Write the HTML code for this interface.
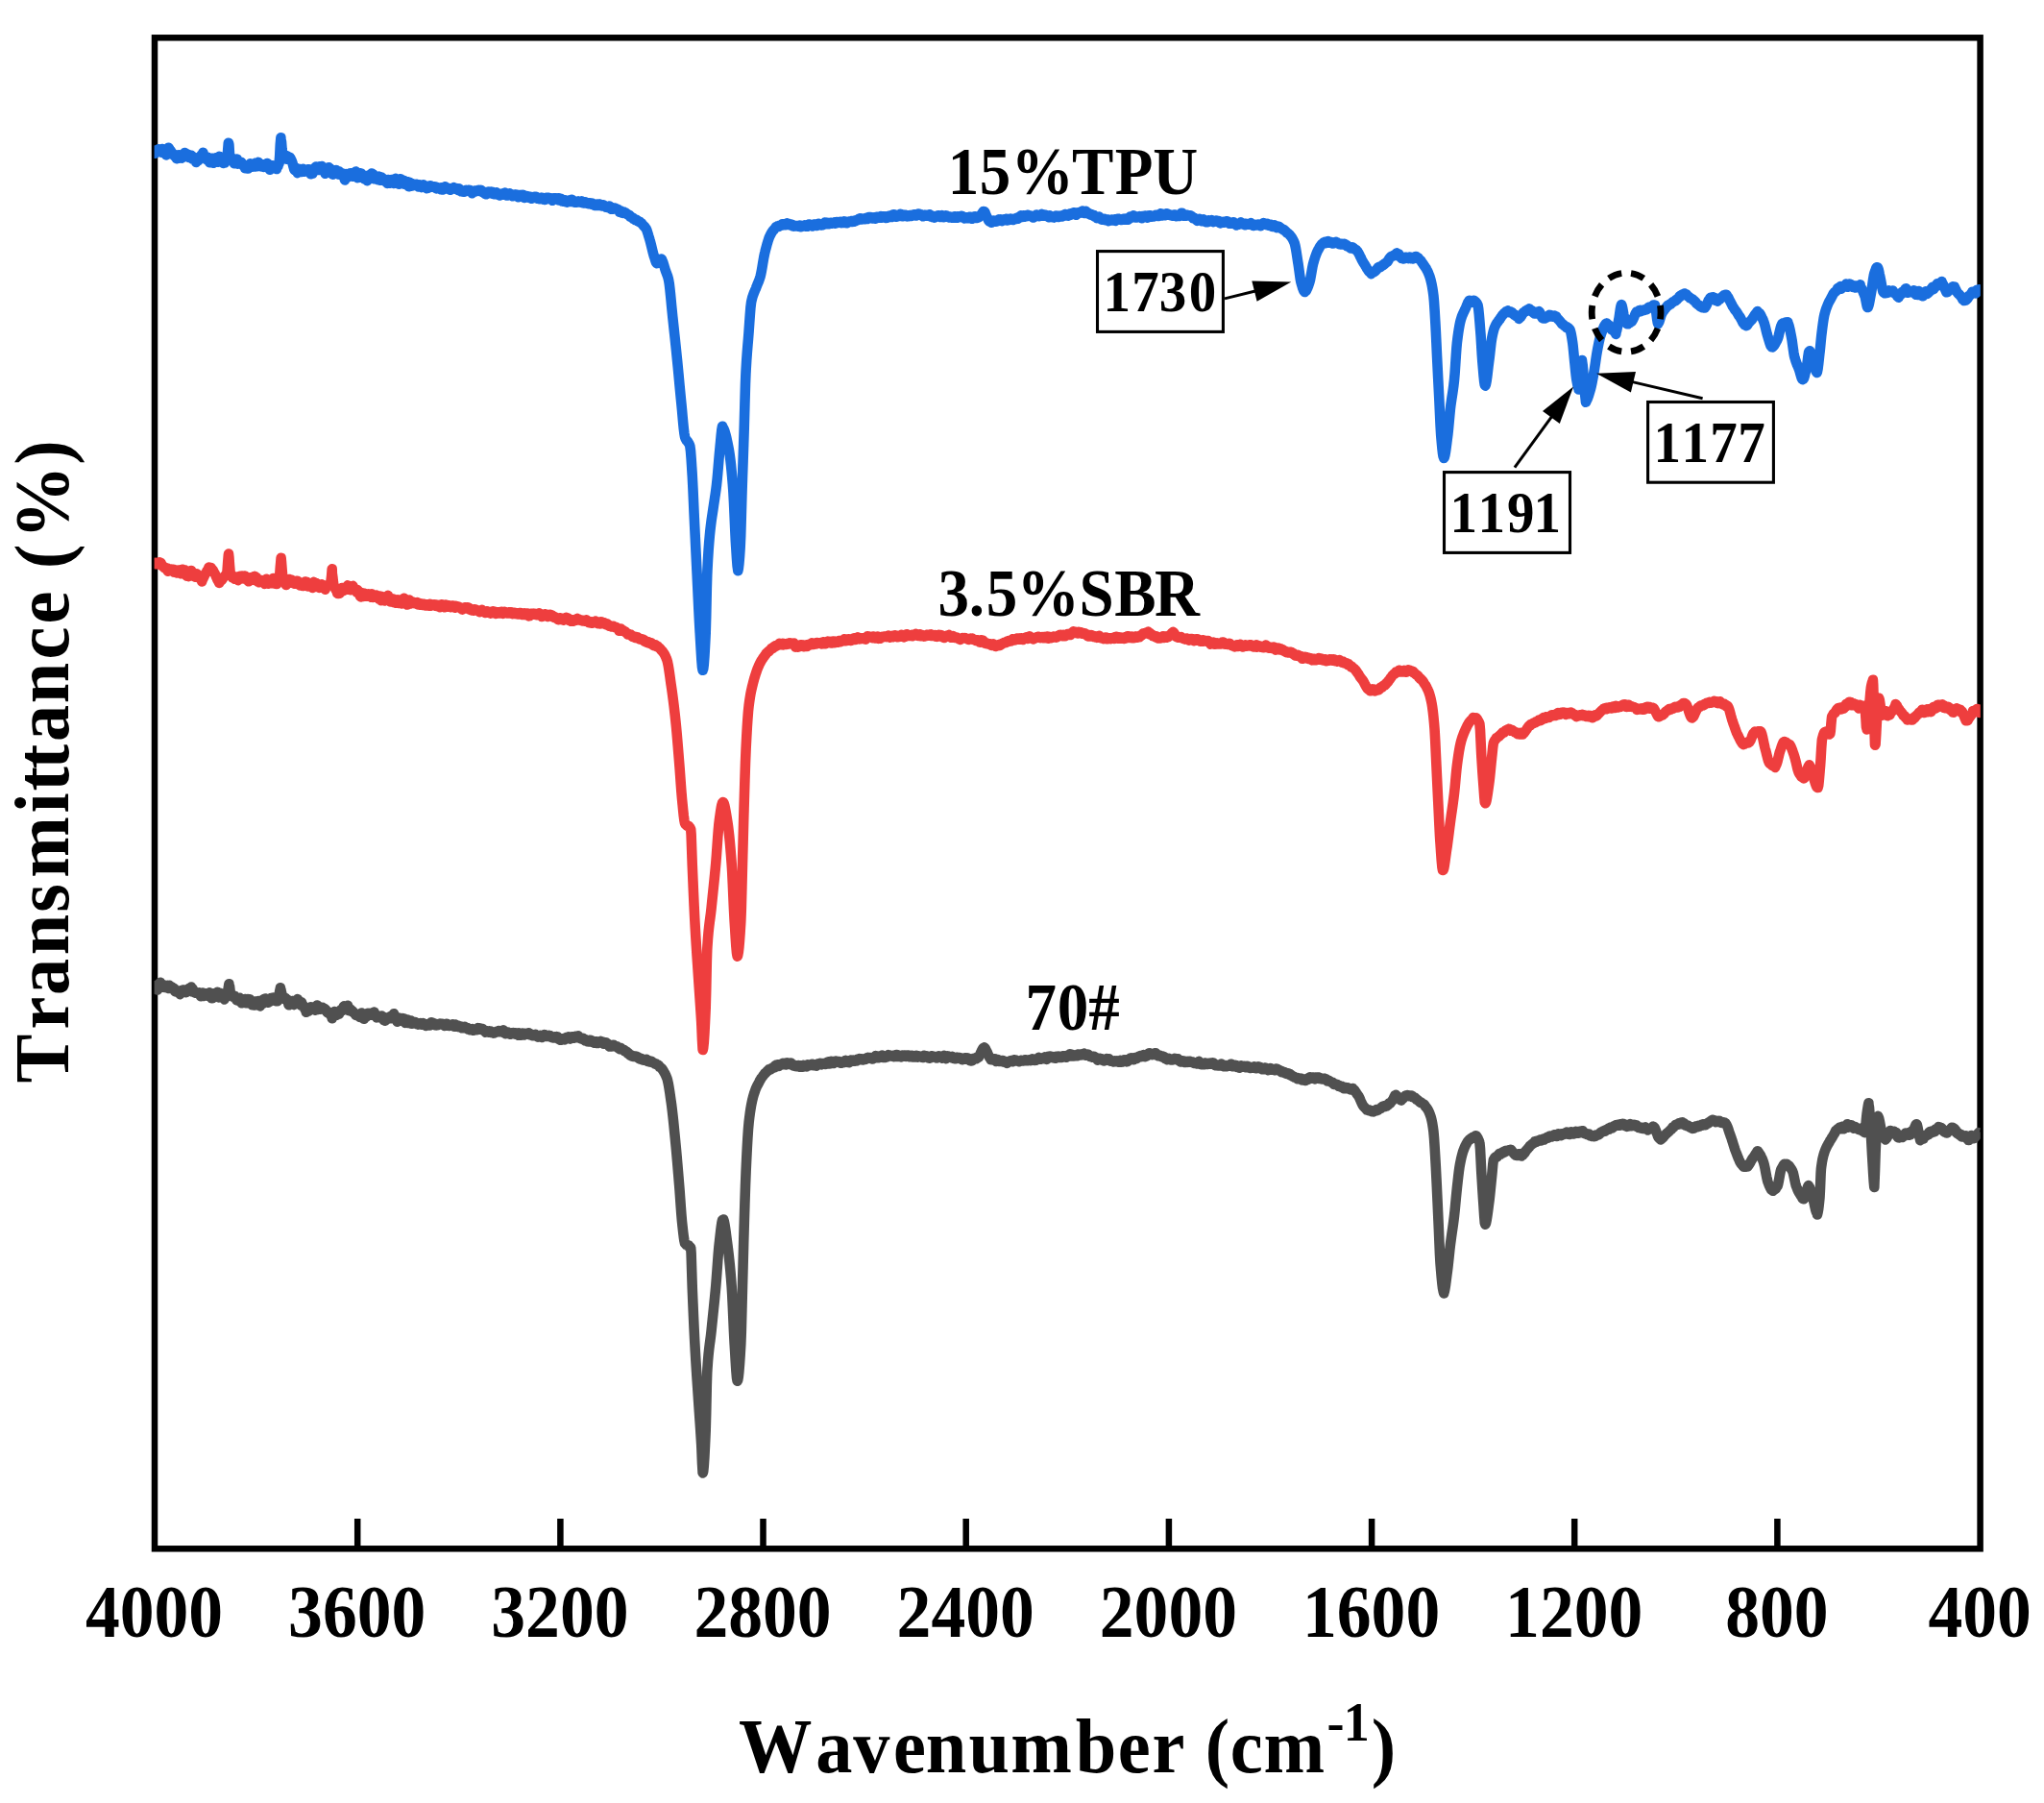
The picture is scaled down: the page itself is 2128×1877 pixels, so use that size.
<!DOCTYPE html>
<html><head><meta charset="utf-8"><title>FTIR spectra</title>
<style>html,body{margin:0;padding:0;background:#fff}svg{display:block}</style>
</head><body>
<svg width="2128" height="1877" viewBox="0 0 2128 1877" font-family="'Liberation Serif', 'Times New Roman', serif" font-weight="bold" fill="#000">
<rect x="0" y="0" width="2128" height="1877" fill="#fff"/>
<defs><clipPath id="cc"><rect x="160.6" y="0" width="1901.2" height="1877"/></clipPath></defs>
<rect x="161.0" y="39.3" width="1900.6" height="1573.0" fill="none" stroke="#000" stroke-width="6.5"/>
<path d="M372.2,1612.3 V1581.0 M583.4,1612.3 V1581.0 M794.5,1612.3 V1581.0 M1005.7,1612.3 V1581.0 M1216.9,1612.3 V1581.0 M1428.1,1612.3 V1581.0 M1639.2,1612.3 V1581.0 M1850.4,1612.3 V1581.0" stroke="#000" stroke-width="6.5" fill="none"/>
<text transform="translate(160.5,1704.0) scale(1,1.1)" font-size="71.6" text-anchor="middle">4000</text>
<text transform="translate(371.7,1704.0) scale(1,1.1)" font-size="71.6" text-anchor="middle">3600</text>
<text transform="translate(582.9,1704.0) scale(1,1.1)" font-size="71.6" text-anchor="middle">3200</text>
<text transform="translate(794.0,1704.0) scale(1,1.1)" font-size="71.6" text-anchor="middle">2800</text>
<text transform="translate(1005.2,1704.0) scale(1,1.1)" font-size="71.6" text-anchor="middle">2400</text>
<text transform="translate(1216.4,1704.0) scale(1,1.1)" font-size="71.6" text-anchor="middle">2000</text>
<text transform="translate(1427.6,1704.0) scale(1,1.1)" font-size="71.6" text-anchor="middle">1600</text>
<text transform="translate(1638.7,1704.0) scale(1,1.1)" font-size="71.6" text-anchor="middle">1200</text>
<text transform="translate(1849.9,1704.0) scale(1,1.1)" font-size="71.6" text-anchor="middle">800</text>
<text transform="translate(2061.1,1704.0) scale(1,1.1)" font-size="71.6" text-anchor="middle">400</text>
<path d="M161.0,1026.2L161.6,1027.2L162.2,1025.8L162.8,1027.7L163.4,1030.3L164.0,1030.5L164.6,1027.0L165.2,1027.5L165.8,1025.3L166.4,1025.8L167.0,1022.7L167.6,1024.9L168.2,1025.9L168.8,1024.5L169.4,1027.2L170.0,1027.6L170.6,1025.3L171.2,1027.9L171.8,1026.6L172.4,1027.2L173.0,1026.5L173.6,1028.2L174.2,1027.2L174.5,1025.9L174.8,1027.8L175.4,1029.0L176.0,1026.6L176.6,1026.1L177.2,1026.6L177.8,1028.4L178.4,1028.4L179.0,1027.6L179.6,1028.9L180.2,1029.3L180.8,1028.8L181.4,1029.1L182.0,1032.0L182.6,1032.3L183.2,1031.8L183.8,1031.6L184.4,1032.2L185.0,1032.5L185.6,1031.7L186.2,1032.1L186.8,1033.1L187.4,1035.1L188.0,1033.4L188.6,1031.4L189.0,1030.9L189.2,1031.8L189.8,1030.7L190.4,1030.7L191.0,1032.2L191.6,1030.6L192.2,1032.5L192.8,1032.0L193.4,1033.1L194.0,1033.1L194.6,1032.3L195.2,1031.7L195.8,1029.7L196.4,1030.6L197.0,1028.9L197.6,1029.7L198.2,1028.6L198.8,1029.4L199.0,1027.6L199.4,1028.7L200.0,1032.4L200.6,1029.4L201.2,1031.8L201.8,1032.1L202.4,1032.8L203.0,1032.6L203.6,1033.8L204.2,1033.0L204.8,1033.4L205.4,1034.0L206.0,1034.2L206.6,1033.7L207.2,1033.4L207.8,1034.6L208.4,1033.7L209.0,1037.2L209.6,1036.3L210.2,1035.4L210.8,1035.8L211.0,1033.5L211.4,1036.8L212.0,1036.9L212.6,1036.8L213.2,1035.0L213.8,1035.7L214.4,1034.2L215.0,1034.5L215.6,1036.7L216.2,1036.4L216.8,1034.8L217.4,1035.3L218.0,1033.4L218.6,1033.9L219.2,1037.0L219.8,1037.8L220.4,1039.2L221.0,1039.2L221.6,1037.5L222.2,1034.4L222.8,1035.4L223.4,1037.7L224.0,1037.7L224.6,1037.0L225.2,1036.1L225.8,1033.9L226.4,1032.7L227.0,1033.3L227.6,1038.4L228.2,1038.0L228.3,1035.4L228.8,1036.0L229.4,1033.8L230.0,1034.5L230.6,1037.3L231.2,1037.8L231.8,1037.6L232.4,1037.0L233.0,1038.6L233.6,1040.4L234.2,1039.0L234.8,1038.0L235.0,1038.1L235.4,1038.0L236.0,1037.4L236.6,1035.5L237.0,1034.3L237.2,1033.0L237.8,1028.0L238.4,1024.3L238.5,1026.2L239.0,1026.4L239.6,1031.8L240.0,1034.3L240.2,1034.3L240.8,1035.7L241.4,1035.7L242.0,1037.1L242.6,1037.7L243.2,1037.5L243.8,1036.8L244.2,1038.6L244.4,1036.7L245.0,1038.2L245.6,1039.0L246.2,1041.2L246.8,1038.7L247.4,1041.5L248.0,1041.0L248.6,1041.7L249.2,1039.4L249.8,1039.0L250.4,1039.5L251.0,1042.9L251.6,1044.2L252.2,1043.4L252.8,1042.4L253.4,1041.5L254.0,1043.9L254.6,1043.8L255.2,1040.0L255.8,1040.8L256.4,1043.9L257.0,1044.3L257.6,1041.0L258.2,1040.1L258.8,1040.3L259.4,1041.6L260.0,1040.3L260.0,1043.8L260.6,1043.0L261.2,1044.6L261.8,1042.5L262.4,1046.2L263.0,1045.2L263.6,1043.4L264.2,1046.4L264.8,1045.5L265.4,1046.4L266.0,1042.6L266.6,1042.5L267.2,1045.7L267.8,1043.2L268.4,1043.9L269.0,1042.1L269.6,1046.9L270.2,1045.5L270.8,1047.4L271.4,1043.0L272.0,1044.2L272.6,1041.6L273.2,1045.0L273.8,1042.4L274.4,1040.3L275.0,1040.1L275.6,1042.1L276.2,1039.5L276.8,1039.8L277.4,1040.7L278.0,1041.8L278.6,1043.0L279.2,1043.8L279.8,1042.0L280.4,1042.7L281.0,1040.0L281.6,1040.1L282.0,1042.3L282.2,1039.0L282.8,1039.2L283.4,1039.3L284.0,1040.5L284.6,1038.6L285.2,1039.2L285.8,1041.5L286.4,1040.1L287.0,1041.9L287.6,1042.1L288.2,1041.6L288.8,1042.2L289.4,1041.3L289.5,1040.2L290.0,1039.5L290.6,1035.8L291.2,1031.9L291.8,1029.1L291.9,1028.3L292.4,1030.6L293.0,1033.0L293.6,1036.0L294.2,1038.5L294.3,1038.1L294.8,1038.0L295.4,1039.8L296.0,1039.0L296.6,1039.9L297.0,1038.7L297.2,1040.0L297.8,1039.9L298.4,1040.8L299.0,1042.2L299.6,1040.9L300.2,1042.5L300.4,1045.7L300.8,1046.3L301.4,1044.6L302.0,1044.9L302.6,1043.5L303.2,1042.5L303.8,1044.8L304.4,1042.1L305.0,1045.5L305.6,1042.0L306.2,1046.1L306.8,1044.8L307.4,1043.2L308.0,1043.7L308.6,1042.3L309.2,1043.5L309.8,1040.1L310.4,1042.3L311.0,1044.4L311.6,1045.1L312.2,1042.6L312.8,1043.5L313.4,1046.6L313.9,1044.4L314.0,1043.4L314.6,1045.5L315.2,1046.0L315.8,1047.3L316.4,1048.4L317.0,1049.7L317.6,1050.7L318.2,1051.1L318.8,1053.8L318.8,1052.6L319.4,1052.9L320.0,1053.1L320.6,1049.9L321.2,1052.6L321.8,1052.1L322.4,1050.3L323.0,1050.2L323.6,1048.3L324.2,1050.9L324.8,1048.6L325.4,1050.0L326.0,1048.4L326.6,1048.2L327.2,1050.5L327.8,1050.4L328.4,1051.6L329.0,1051.3L329.6,1051.3L330.2,1046.5L330.8,1048.8L331.4,1048.4L332.0,1048.8L332.2,1048.5L332.6,1048.9L333.2,1050.7L333.8,1049.1L334.4,1049.5L335.0,1050.1L335.6,1048.7L336.2,1050.3L336.8,1050.0L337.4,1050.2L338.0,1050.0L338.6,1050.5L339.2,1051.3L339.8,1052.8L340.4,1053.6L341.0,1054.3L341.6,1053.4L342.2,1054.8L342.8,1053.9L343.4,1055.8L344.0,1056.0L344.6,1057.5L345.2,1057.1L345.7,1060.3L345.8,1059.3L346.4,1055.5L347.0,1056.5L347.6,1057.8L348.2,1053.1L348.8,1053.6L349.4,1055.9L350.0,1053.9L350.6,1056.7L351.2,1055.6L351.8,1055.7L352.4,1054.7L353.0,1055.7L353.6,1053.7L354.2,1053.8L354.8,1051.2L355.4,1052.0L356.0,1050.7L356.6,1051.9L357.2,1051.0L357.8,1047.9L358.4,1047.4L359.0,1047.7L359.6,1048.1L360.2,1050.8L360.8,1050.2L361.4,1049.7L361.6,1049.3L362.0,1046.8L362.6,1048.8L363.2,1052.1L363.8,1052.1L364.4,1051.6L365.0,1050.7L365.6,1052.7L366.2,1052.1L366.8,1053.2L367.4,1053.0L368.0,1053.9L368.6,1054.5L369.2,1055.3L369.8,1055.0L370.4,1056.9L371.0,1056.1L371.6,1057.0L372.2,1056.8L372.8,1056.9L373.4,1056.2L374.0,1056.8L374.6,1059.0L375.0,1056.8L375.2,1055.5L375.8,1058.4L376.4,1054.6L377.0,1059.7L377.6,1057.8L378.2,1058.2L378.8,1060.8L379.4,1058.0L380.0,1058.8L380.6,1056.8L381.2,1058.7L381.8,1057.8L382.4,1056.7L383.0,1054.8L383.6,1056.1L384.2,1056.7L384.8,1055.6L385.4,1056.5L386.0,1054.8L386.6,1056.0L387.2,1056.1L387.8,1056.7L388.4,1056.5L389.0,1055.7L389.6,1053.5L389.7,1053.9L390.2,1056.8L390.8,1055.7L391.4,1058.2L392.0,1059.3L392.6,1059.2L393.2,1058.2L393.8,1057.8L394.4,1059.0L395.0,1059.2L395.6,1058.6L396.2,1057.8L396.8,1058.3L397.4,1057.6L398.0,1058.6L398.6,1058.4L399.2,1060.7L399.8,1062.3L400.4,1059.3L400.7,1059.0L401.0,1062.7L401.6,1061.3L402.2,1061.4L402.8,1059.5L403.4,1059.4L404.0,1060.2L404.6,1059.3L405.2,1059.7L405.8,1060.2L406.4,1058.0L407.0,1059.2L407.0,1058.4L407.6,1058.7L408.2,1058.2L408.8,1060.3L409.4,1057.9L410.0,1055.2L410.6,1058.3L411.2,1060.1L411.8,1060.6L412.4,1060.8L413.0,1060.1L413.6,1063.7L414.2,1062.9L414.8,1061.0L415.4,1059.6L416.0,1060.1L416.6,1062.1L417.2,1060.1L417.8,1062.7L418.4,1061.7L419.0,1060.0L419.6,1062.7L420.2,1060.8L420.8,1060.4L421.4,1061.4L422.0,1064.9L422.6,1062.0L423.2,1064.6L423.8,1064.8L424.0,1061.6L424.4,1063.2L425.0,1065.0L425.6,1063.6L426.2,1065.2L426.8,1062.9L427.4,1064.2L428.0,1062.5L428.6,1065.7L429.2,1065.7L429.8,1064.5L430.4,1064.3L431.0,1064.4L431.6,1064.9L432.2,1064.1L432.8,1065.6L433.4,1065.8L434.0,1066.2L434.6,1065.9L435.2,1066.6L435.8,1065.2L436.4,1065.4L437.0,1065.4L437.6,1065.1L438.2,1065.9L438.8,1066.6L439.4,1066.5L440.0,1065.5L440.6,1065.1L441.2,1066.6L441.8,1066.5L442.4,1067.0L443.0,1067.4L443.5,1066.4L443.6,1067.9L444.2,1066.4L444.8,1066.9L445.4,1067.2L446.0,1066.4L446.6,1066.4L447.2,1067.4L447.8,1067.4L448.4,1066.1L449.0,1064.3L449.6,1066.0L450.2,1064.6L450.8,1066.2L451.4,1066.7L452.0,1065.3L452.6,1066.3L453.2,1067.3L453.8,1066.8L454.4,1067.4L455.0,1067.0L455.6,1067.2L456.2,1066.7L456.8,1066.1L457.4,1066.0L458.0,1065.7L458.6,1066.0L459.2,1066.0L459.8,1066.6L460.4,1065.8L461.0,1067.0L461.6,1066.1L462.2,1067.1L462.8,1067.9L463.4,1066.8L464.0,1066.1L464.6,1065.8L465.2,1065.8L465.8,1066.7L466.4,1066.9L467.0,1066.9L467.6,1067.9L468.2,1067.7L468.8,1067.0L469.4,1067.5L470.0,1067.6L470.6,1067.0L471.2,1066.4L471.8,1066.6L472.4,1066.6L472.9,1068.8L473.0,1067.3L473.6,1068.5L474.2,1066.5L474.8,1068.2L475.4,1067.4L476.0,1068.7L476.6,1067.5L477.2,1068.5L477.8,1068.4L478.4,1069.2L479.0,1069.0L479.6,1068.5L480.2,1069.3L480.8,1070.3L481.4,1069.1L482.0,1069.6L482.6,1069.4L483.2,1069.1L483.8,1068.8L484.4,1070.4L485.0,1069.6L485.6,1070.9L486.2,1070.4L486.8,1070.1L487.4,1071.7L488.0,1070.8L488.6,1072.1L489.2,1071.6L489.8,1071.9L490.4,1072.0L491.0,1071.4L491.6,1071.2L492.2,1071.7L492.5,1071.4L492.8,1072.8L493.4,1072.0L494.0,1072.0L494.6,1071.9L495.2,1072.0L495.8,1072.2L496.4,1071.4L497.0,1071.2L497.6,1070.2L498.2,1070.4L498.8,1070.3L499.4,1071.7L500.0,1070.6L500.6,1071.8L501.2,1071.9L501.8,1071.4L502.4,1071.0L503.0,1071.8L503.6,1072.2L504.2,1072.6L504.8,1072.9L505.4,1074.6L506.0,1074.2L506.6,1074.3L507.2,1074.0L507.8,1073.3L508.4,1074.6L509.0,1073.8L509.6,1073.2L510.2,1074.3L510.8,1073.6L511.4,1075.0L512.0,1075.1L512.6,1074.4L513.2,1075.0L513.8,1075.6L514.4,1075.5L515.0,1075.2L515.6,1074.4L516.2,1074.2L516.8,1074.5L516.9,1073.9L517.4,1074.3L518.0,1074.2L518.6,1073.5L519.2,1073.0L519.8,1074.1L520.4,1073.5L521.0,1074.1L521.6,1073.5L522.2,1073.8L522.8,1073.8L523.4,1073.8L524.0,1072.4L524.6,1074.4L525.2,1075.4L525.8,1075.6L526.4,1076.1L527.0,1075.4L527.6,1075.1L528.2,1075.3L528.8,1074.6L529.4,1075.3L530.0,1076.2L530.6,1075.5L531.2,1076.7L531.8,1075.9L532.4,1075.3L533.0,1076.0L533.6,1075.4L534.2,1075.1L534.8,1075.5L535.4,1076.4L536.0,1076.0L536.6,1075.3L537.2,1076.8L537.8,1075.6L538.4,1076.4L539.0,1076.7L539.6,1077.8L540.2,1075.4L540.8,1076.2L541.4,1076.2L541.4,1075.5L542.0,1076.9L542.6,1077.7L543.2,1077.3L543.8,1075.6L544.4,1076.8L545.0,1076.2L545.6,1077.4L546.2,1076.9L546.8,1075.7L547.4,1076.8L548.0,1076.3L548.6,1076.0L549.2,1076.3L549.8,1076.0L550.4,1075.3L551.0,1077.1L551.6,1076.2L552.2,1076.7L552.8,1076.7L553.4,1077.8L554.0,1078.1L554.6,1077.1L555.2,1078.3L555.8,1077.7L556.4,1078.0L557.0,1077.5L557.6,1077.1L558.2,1077.8L558.8,1078.1L559.4,1078.2L560.0,1079.6L560.6,1078.7L561.2,1078.7L561.8,1078.2L562.4,1077.9L563.0,1079.0L563.6,1078.8L564.2,1080.0L564.8,1078.3L565.4,1079.4L565.9,1077.5L566.0,1077.7L566.6,1077.1L567.2,1078.1L567.8,1077.8L568.4,1077.7L569.0,1078.9L569.6,1078.1L570.2,1078.8L570.8,1078.8L571.4,1077.9L572.0,1078.7L572.6,1078.0L573.2,1078.6L573.8,1079.8L574.4,1080.1L575.0,1079.6L575.6,1079.4L576.2,1080.5L576.8,1080.2L577.4,1080.1L578.0,1079.2L578.6,1080.3L579.2,1080.0L579.8,1079.2L580.4,1079.4L581.0,1080.7L581.6,1081.7L582.2,1081.5L582.8,1081.4L583.4,1082.8L584.0,1081.8L584.6,1082.7L585.2,1082.2L585.8,1081.3L586.4,1082.2L587.0,1082.0L587.6,1082.3L588.2,1081.4L588.8,1080.3L589.4,1080.8L590.0,1079.8L590.3,1080.5L590.6,1080.3L591.2,1080.3L591.8,1079.3L592.4,1080.7L593.0,1080.8L593.6,1081.6L594.2,1079.8L594.8,1080.8L595.4,1080.9L596.0,1080.2L596.6,1079.3L597.2,1080.8L597.8,1079.8L598.4,1079.1L599.0,1079.7L599.6,1080.2L600.0,1078.7L600.2,1079.6L600.8,1079.7L601.4,1080.1L602.0,1078.3L602.6,1079.4L603.2,1080.2L603.8,1080.4L604.4,1081.2L605.0,1081.3L605.6,1081.6L606.2,1081.6L606.8,1080.7L607.4,1082.2L608.0,1082.0L608.6,1081.6L609.2,1083.4L609.8,1083.4L610.4,1083.6L611.0,1082.8L611.6,1084.3L612.2,1083.9L612.8,1084.5L613.4,1082.9L614.0,1082.8L614.6,1082.8L614.8,1082.8L615.2,1083.7L615.8,1084.7L616.4,1084.0L617.0,1083.6L617.6,1084.8L618.2,1084.9L618.8,1085.8L619.4,1084.8L620.0,1084.5L620.6,1086.0L621.2,1084.3L621.8,1085.7L622.4,1086.0L623.0,1085.7L623.6,1085.6L624.2,1085.4L624.8,1084.8L625.4,1083.9L626.0,1084.2L626.6,1084.7L627.2,1084.6L627.8,1086.3L628.4,1086.8L629.0,1086.0L629.6,1086.6L630.0,1086.8L630.2,1086.1L630.8,1085.2L631.4,1086.2L632.0,1086.0L632.6,1086.5L633.2,1087.6L633.8,1087.7L634.4,1089.4L635.0,1088.7L635.6,1089.4L636.2,1088.6L636.8,1089.4L637.4,1088.4L638.0,1089.2L638.6,1087.7L639.2,1088.4L639.8,1088.8L640.4,1089.2L641.0,1089.0L641.6,1089.4L642.2,1089.3L642.8,1090.6L643.4,1090.9L644.0,1091.0L644.6,1091.5L645.0,1092.2L645.2,1091.6L645.8,1090.9L646.4,1091.1L647.0,1092.4L647.6,1092.5L648.2,1092.9L648.8,1093.0L649.4,1092.8L650.0,1094.0L650.6,1093.8L651.2,1094.1L651.8,1094.5L652.4,1094.7L653.0,1096.1L653.6,1096.7L654.2,1096.3L654.8,1097.0L655.4,1097.7L656.0,1098.8L656.6,1098.7L657.2,1099.4L657.8,1098.8L658.4,1099.2L659.0,1099.9L659.6,1099.9L660.0,1099.5L660.2,1099.7L660.8,1100.0L661.4,1099.6L662.0,1099.5L662.6,1099.8L663.2,1100.8L663.8,1100.3L664.4,1100.5L665.0,1101.0L665.6,1102.3L666.2,1102.5L666.8,1101.9L667.4,1101.8L668.0,1102.5L668.6,1103.4L669.2,1103.0L669.8,1103.6L670.4,1103.5L671.0,1103.4L671.6,1103.4L672.2,1103.1L672.8,1102.9L673.4,1104.2L674.0,1104.8L674.6,1104.5L675.0,1104.0L675.2,1105.1L675.8,1105.3L676.4,1105.5L677.0,1105.3L677.6,1105.8L678.2,1104.8L678.8,1105.3L679.4,1106.1L680.0,1106.3L680.6,1106.4L681.2,1106.8L681.8,1107.4L682.4,1107.4L683.0,1107.3L683.6,1108.3L684.2,1108.3L684.8,1108.5L685.4,1108.9L686.0,1109.4L686.6,1110.1L686.8,1110.8L687.2,1110.8L687.8,1111.3L688.4,1112.1L689.0,1112.2L689.6,1113.4L690.2,1114.0L690.8,1115.1L691.4,1116.2L692.0,1117.3L692.6,1118.3L693.2,1119.7L693.8,1121.1L694.3,1122.3L694.4,1122.6L695.0,1124.6L695.6,1127.3L696.2,1130.5L696.8,1134.1L697.4,1138.0L698.0,1142.2L698.6,1146.4L698.8,1147.8L699.2,1150.7L699.8,1155.6L700.4,1160.8L701.0,1166.4L701.6,1172.3L702.2,1178.4L702.8,1184.5L703.3,1189.7L703.4,1190.7L704.0,1197.1L704.6,1203.8L705.2,1210.6L705.8,1217.7L706.4,1224.9L707.0,1232.2L707.2,1234.6L707.6,1239.7L708.2,1248.1L708.8,1256.6L709.4,1264.7L710.0,1271.6L710.2,1273.5L710.6,1277.2L711.2,1282.7L711.8,1287.6L712.4,1291.6L713.0,1294.2L713.2,1294.4L713.6,1294.8L714.2,1295.8L714.8,1295.7L715.4,1295.7L716.0,1296.9L716.6,1296.9L717.2,1296.7L717.8,1297.9L718.4,1298.0L719.0,1298.9L719.2,1299.0L719.6,1304.6L720.2,1323.7L720.7,1339.4L720.8,1341.9L721.4,1356.3L722.0,1370.2L722.6,1383.4L723.2,1395.5L723.4,1399.3L723.8,1406.5L724.4,1416.7L725.0,1426.2L725.6,1435.3L726.2,1444.2L726.8,1453.1L727.2,1459.2L727.4,1462.2L728.0,1471.0L728.6,1479.5L729.2,1488.1L729.8,1497.4L730.2,1504.0L730.4,1508.0L731.0,1523.2L731.6,1533.1L731.7,1533.4L732.2,1531.7L732.8,1525.7L733.4,1516.3L734.0,1504.5L734.6,1491.3L734.7,1489.0L735.2,1470.4L735.8,1441.7L736.2,1429.2L736.4,1425.8L737.0,1417.0L737.6,1410.1L738.2,1404.5L738.8,1399.7L739.4,1395.2L740.0,1390.6L740.6,1385.3L740.7,1384.3L741.2,1379.4L741.8,1373.6L742.4,1367.8L743.0,1362.0L743.6,1356.1L744.2,1350.1L744.8,1343.8L745.2,1339.4L745.4,1337.1L746.0,1329.5L746.6,1321.4L747.2,1313.1L747.8,1305.2L748.4,1298.3L748.8,1294.5L749.0,1292.8L749.6,1287.4L750.2,1282.1L750.8,1277.2L751.4,1273.1L752.0,1270.3L752.6,1269.8L752.7,1269.6L753.2,1269.5L753.8,1271.4L754.4,1274.3L755.0,1278.0L755.6,1282.3L756.2,1286.9L756.8,1291.5L757.2,1294.5L757.4,1296.0L758.0,1300.6L758.6,1305.6L759.2,1311.0L759.8,1316.9L760.4,1323.3L761.0,1330.3L761.6,1338.1L761.7,1339.4L762.2,1347.5L762.8,1359.7L763.4,1373.1L764.0,1386.3L764.6,1397.7L764.7,1399.3L765.2,1407.5L765.8,1417.8L766.4,1427.2L767.0,1434.3L767.6,1437.5L767.7,1437.7L768.2,1436.7L768.8,1433.1L769.4,1427.4L770.0,1419.9L770.6,1411.0L771.2,1401.0L771.3,1399.3L771.8,1386.2L772.4,1363.2L773.0,1339.4L773.0,1339.4L773.6,1316.6L774.2,1293.7L774.6,1279.5L774.8,1272.8L775.4,1253.0L776.0,1234.8L776.6,1219.6L776.6,1219.6L777.2,1206.7L777.8,1194.8L778.4,1184.2L779.0,1175.4L779.6,1168.7L779.6,1168.7L780.2,1163.5L780.8,1158.9L781.4,1154.9L782.0,1151.3L782.6,1148.2L783.2,1145.4L783.8,1143.0L784.1,1141.8L784.4,1140.8L785.0,1138.8L785.6,1137.0L786.2,1135.3L786.8,1133.6L787.4,1132.2L788.0,1130.9L788.6,1129.7L789.2,1128.7L789.8,1127.4L790.1,1126.9L790.4,1126.4L791.0,1125.0L791.6,1124.2L792.2,1123.1L792.8,1122.1L793.4,1121.4L794.0,1120.6L794.6,1119.7L795.2,1118.9L795.8,1118.2L796.4,1117.3L797.0,1117.0L797.6,1116.2L797.6,1116.5L798.2,1115.7L798.8,1115.0L799.4,1114.7L800.0,1113.9L800.6,1113.2L801.2,1113.1L801.8,1112.9L802.4,1113.4L803.0,1112.3L803.6,1112.5L804.2,1112.0L804.8,1111.1L805.4,1111.6L806.0,1111.1L806.6,1110.4L806.6,1111.2L807.2,1109.3L807.8,1109.5L808.4,1108.6L809.0,1108.6L809.6,1108.2L810.2,1109.2L810.8,1110.0L811.4,1108.9L812.0,1108.9L812.6,1108.8L813.2,1107.7L813.8,1107.5L814.4,1108.3L815.0,1106.8L815.6,1107.7L816.2,1107.9L816.8,1107.9L817.4,1106.9L818.0,1108.5L818.6,1106.7L819.2,1106.6L819.8,1107.4L820.4,1106.6L821.0,1107.1L821.6,1107.9L821.6,1107.5L822.2,1107.3L822.8,1107.8L823.4,1106.6L824.0,1108.6L824.6,1108.6L825.2,1109.0L825.8,1108.2L826.4,1109.8L827.0,1109.3L827.6,1109.4L828.2,1110.0L828.8,1109.5L829.4,1110.2L830.0,1110.1L830.6,1109.3L831.2,1109.1L831.8,1109.5L832.4,1110.6L833.0,1109.5L833.5,1109.9L833.6,1109.4L834.2,1109.9L834.8,1110.8L835.4,1109.7L836.0,1108.9L836.6,1109.8L837.2,1110.4L837.8,1110.0L838.4,1110.0L839.0,1110.0L839.6,1110.3L840.2,1109.4L840.8,1108.4L841.4,1109.4L842.0,1108.5L842.6,1109.1L843.2,1108.9L843.8,1108.4L844.4,1108.5L845.0,1107.9L845.6,1108.3L846.2,1107.7L846.8,1109.1L847.4,1109.0L848.0,1109.0L848.6,1108.3L849.2,1109.5L849.8,1109.6L850.4,1108.1L851.0,1108.0L851.6,1107.4L852.2,1107.4L852.8,1107.8L853.4,1107.7L854.0,1106.9L854.5,1107.0L854.6,1107.7L855.2,1108.2L855.8,1107.6L856.4,1107.4L857.0,1107.1L857.6,1107.3L858.2,1107.5L858.8,1107.1L859.4,1107.9L860.0,1106.6L860.6,1106.4L861.2,1105.9L861.8,1106.4L862.4,1105.4L863.0,1106.9L863.6,1107.5L864.2,1106.0L864.8,1105.9L865.4,1104.7L866.0,1106.1L866.6,1106.2L867.2,1105.9L867.8,1107.0L868.4,1106.5L869.0,1104.7L869.6,1105.6L870.2,1104.5L870.8,1105.6L871.4,1105.2L872.0,1105.0L872.6,1105.7L873.2,1106.0L873.8,1105.0L874.4,1106.5L875.0,1105.8L875.4,1106.0L875.6,1106.8L876.2,1106.7L876.8,1106.3L877.4,1106.3L878.0,1106.3L878.6,1105.6L879.2,1105.4L879.8,1105.5L880.0,1104.1L880.4,1105.4L881.0,1104.0L881.6,1104.5L882.2,1105.8L882.8,1106.0L883.4,1105.8L884.0,1106.1L884.6,1104.3L885.2,1104.2L885.8,1103.8L886.4,1104.3L887.0,1104.0L887.6,1104.5L888.2,1104.1L888.8,1103.5L889.4,1104.8L890.0,1104.3L890.6,1104.2L891.2,1103.9L891.8,1104.5L892.4,1103.7L893.0,1102.5L893.6,1102.6L894.2,1103.3L894.8,1102.1L895.4,1102.4L896.0,1102.7L896.6,1102.7L897.2,1102.4L897.8,1102.8L898.4,1103.4L899.0,1103.3L899.6,1103.1L900.2,1102.2L900.8,1102.9L901.4,1101.8L902.0,1102.6L902.6,1101.3L903.2,1101.7L903.8,1100.9L904.4,1101.2L904.5,1101.1L905.0,1101.4L905.6,1101.1L906.2,1101.0L906.8,1101.8L907.4,1102.3L908.0,1101.7L908.6,1102.5L909.2,1101.3L909.8,1100.8L910.4,1100.3L911.0,1100.7L911.6,1099.1L912.2,1100.1L912.8,1100.3L913.4,1101.3L914.0,1099.6L914.6,1101.2L915.2,1100.1L915.8,1100.8L916.4,1099.7L917.0,1100.3L917.6,1099.2L918.2,1098.6L918.8,1098.8L919.4,1099.2L920.0,1101.0L920.6,1100.2L921.2,1100.0L921.8,1100.9L922.4,1100.2L923.0,1100.4L923.6,1099.4L924.2,1098.8L924.8,1098.2L925.4,1098.4L926.0,1098.8L926.6,1099.5L927.2,1099.3L927.8,1099.5L928.4,1099.4L929.0,1099.6L929.0,1099.8L929.6,1098.8L930.2,1099.6L930.8,1100.0L931.4,1099.5L932.0,1099.1L932.6,1099.9L933.2,1098.0L933.8,1098.0L934.4,1099.5L935.0,1099.9L935.6,1099.4L936.2,1099.0L936.8,1100.0L937.4,1099.5L938.0,1100.4L938.6,1098.9L939.2,1099.5L939.8,1098.6L940.4,1099.8L941.0,1099.6L941.6,1098.6L942.2,1098.7L942.8,1099.5L943.4,1099.9L944.0,1098.7L944.6,1098.8L945.2,1099.4L945.8,1098.5L946.4,1099.0L947.0,1100.3L947.6,1099.4L948.2,1099.6L948.8,1098.9L949.4,1098.9L950.0,1100.5L950.6,1100.5L951.2,1099.2L951.8,1100.4L952.4,1100.2L953.0,1099.1L953.6,1100.0L954.2,1098.7L954.8,1099.2L955.4,1100.7L956.0,1100.1L956.6,1099.8L957.2,1099.5L957.8,1099.5L958.4,1099.8L959.0,1100.6L959.6,1100.7L960.2,1099.9L960.8,1101.0L961.4,1099.2L962.0,1098.7L962.6,1099.7L963.2,1099.2L963.8,1099.2L964.4,1100.0L965.0,1099.6L965.6,1099.6L966.2,1101.3L966.8,1100.1L967.4,1101.7L968.0,1101.1L968.6,1100.4L969.2,1101.2L969.8,1100.3L970.4,1099.2L971.0,1099.6L971.6,1100.1L972.2,1099.8L972.8,1099.7L973.4,1100.1L974.0,1100.5L974.6,1100.9L975.2,1101.5L975.8,1100.9L976.4,1100.0L977.0,1100.6L977.6,1099.3L977.8,1100.1L978.2,1100.6L978.8,1099.8L979.4,1100.6L980.0,1100.6L980.6,1099.9L981.2,1101.6L981.8,1100.1L982.4,1100.1L983.0,1098.9L983.6,1100.5L984.2,1101.1L984.8,1102.1L985.4,1100.1L986.0,1100.9L986.6,1099.4L987.2,1100.7L987.8,1100.7L988.4,1100.5L989.0,1100.2L989.6,1100.6L990.2,1101.0L990.8,1100.5L991.4,1099.9L992.0,1101.4L992.6,1101.8L993.2,1101.3L993.8,1101.1L994.4,1102.3L995.0,1101.2L995.6,1100.7L996.2,1102.0L996.8,1100.9L997.4,1101.1L998.0,1101.3L998.6,1101.2L999.2,1101.0L999.8,1101.2L1000.4,1102.0L1001.0,1101.6L1001.6,1103.2L1002.2,1102.0L1002.8,1101.7L1003.4,1101.7L1004.0,1101.5L1004.6,1102.6L1005.2,1101.6L1005.8,1102.3L1006.4,1102.5L1007.0,1101.3L1007.6,1102.3L1008.2,1102.8L1008.8,1102.1L1009.4,1103.9L1010.0,1103.6L1010.6,1103.7L1011.2,1104.5L1011.8,1103.1L1012.0,1104.3L1012.4,1102.9L1013.0,1103.0L1013.6,1101.8L1014.2,1102.1L1014.8,1101.7L1015.4,1102.3L1016.0,1102.3L1016.6,1100.9L1017.2,1100.6L1017.8,1101.0L1018.4,1100.9L1019.0,1100.6L1019.0,1100.5L1019.6,1099.4L1020.2,1098.1L1020.8,1096.5L1021.4,1095.2L1022.0,1093.9L1022.0,1093.9L1022.6,1092.8L1023.2,1091.8L1023.8,1090.8L1024.4,1090.8L1024.8,1090.5L1025.0,1090.7L1025.6,1091.1L1026.2,1092.3L1026.8,1093.5L1027.4,1094.7L1027.5,1095.0L1028.0,1095.9L1028.6,1097.4L1029.2,1098.7L1029.8,1100.1L1030.4,1101.3L1031.0,1102.0L1031.6,1102.9L1031.7,1103.3L1032.2,1103.3L1032.8,1102.9L1033.4,1103.3L1034.0,1103.6L1034.6,1102.8L1035.2,1103.1L1035.8,1102.4L1036.4,1103.3L1037.0,1105.0L1037.6,1103.6L1038.2,1104.8L1038.8,1103.0L1039.4,1104.4L1040.0,1104.1L1040.6,1105.0L1041.2,1104.3L1041.8,1104.3L1042.4,1104.3L1043.0,1104.1L1043.6,1104.8L1044.2,1104.2L1044.8,1104.7L1045.4,1105.7L1046.0,1105.6L1046.6,1105.4L1047.2,1105.1L1047.8,1105.3L1048.4,1106.9L1049.0,1105.9L1049.6,1105.8L1050.2,1105.5L1050.8,1104.8L1051.4,1104.8L1052.0,1104.3L1052.6,1104.0L1053.2,1104.0L1053.8,1104.9L1054.4,1105.2L1055.0,1103.9L1055.6,1103.3L1056.1,1104.5L1056.2,1103.4L1056.8,1104.3L1057.4,1103.6L1058.0,1104.5L1058.6,1104.4L1059.2,1104.3L1059.8,1104.4L1060.4,1104.9L1061.0,1105.1L1061.6,1104.9L1062.2,1104.7L1062.8,1104.6L1063.4,1103.7L1064.0,1104.5L1064.6,1104.5L1065.2,1104.1L1065.8,1104.2L1066.4,1103.7L1067.0,1103.3L1067.6,1103.4L1068.2,1103.8L1068.8,1103.6L1069.4,1104.3L1070.0,1104.2L1070.6,1103.7L1071.2,1103.4L1071.8,1103.4L1072.4,1103.3L1073.0,1104.0L1073.6,1103.6L1074.2,1103.1L1074.8,1102.4L1075.4,1102.5L1076.0,1103.5L1076.6,1103.3L1077.2,1103.9L1077.8,1102.9L1078.4,1103.8L1079.0,1103.2L1079.6,1102.7L1080.2,1101.9L1080.8,1102.8L1081.4,1100.8L1082.0,1102.3L1082.6,1101.7L1083.2,1102.8L1083.8,1101.5L1084.4,1101.6L1085.0,1102.2L1085.6,1102.2L1086.2,1101.8L1086.8,1100.8L1087.4,1101.4L1087.9,1100.9L1088.0,1100.4L1088.6,1100.6L1089.2,1101.3L1089.8,1102.9L1090.4,1101.5L1091.0,1101.2L1091.6,1099.7L1092.2,1101.1L1092.8,1100.9L1093.4,1099.5L1094.0,1099.7L1094.6,1100.9L1095.2,1100.0L1095.8,1100.0L1096.4,1101.3L1097.0,1100.7L1097.6,1100.6L1098.2,1101.6L1098.8,1101.8L1099.4,1099.7L1100.0,1100.2L1100.6,1099.7L1101.2,1100.4L1101.8,1099.7L1102.4,1100.1L1103.0,1100.9L1103.6,1100.7L1104.2,1100.5L1104.8,1099.9L1105.4,1100.9L1106.0,1100.0L1106.6,1099.2L1107.2,1100.4L1107.8,1099.3L1108.4,1099.2L1109.0,1100.1L1109.6,1100.6L1110.2,1100.7L1110.8,1100.5L1111.4,1099.4L1112.0,1099.5L1112.4,1098.8L1112.6,1098.0L1113.2,1099.0L1113.8,1097.3L1114.4,1098.0L1115.0,1098.7L1115.6,1099.5L1116.2,1098.4L1116.8,1098.1L1117.4,1098.9L1118.0,1099.5L1118.6,1098.9L1119.2,1099.2L1119.8,1099.2L1120.4,1098.6L1121.0,1099.1L1121.6,1097.9L1122.2,1099.1L1122.8,1097.6L1123.4,1097.8L1124.0,1098.5L1124.6,1097.8L1125.2,1098.4L1125.8,1097.8L1126.4,1098.2L1127.0,1097.4L1127.6,1097.8L1128.2,1097.4L1128.8,1096.8L1129.4,1097.2L1129.5,1097.6L1130.0,1098.6L1130.6,1098.4L1131.2,1097.7L1131.8,1097.8L1132.4,1097.5L1133.0,1097.8L1133.6,1098.6L1134.2,1098.9L1134.8,1099.7L1135.4,1099.4L1136.0,1100.2L1136.6,1099.6L1137.2,1100.7L1137.8,1099.7L1138.4,1100.4L1139.0,1099.8L1139.6,1100.0L1140.2,1101.0L1140.8,1100.8L1141.4,1101.2L1142.0,1101.5L1142.6,1103.6L1143.2,1103.3L1143.8,1102.0L1144.2,1102.4L1144.4,1102.6L1145.0,1101.8L1145.6,1101.8L1146.2,1102.8L1146.8,1103.6L1147.4,1102.9L1148.0,1102.7L1148.6,1103.7L1149.2,1104.4L1149.8,1104.3L1150.4,1103.9L1151.0,1103.3L1151.6,1103.1L1152.2,1102.0L1152.8,1103.1L1153.4,1103.6L1154.0,1102.8L1154.6,1102.3L1155.2,1104.1L1155.8,1104.5L1156.4,1104.7L1157.0,1103.8L1157.6,1104.6L1158.2,1104.7L1158.8,1105.1L1159.4,1105.4L1160.0,1104.5L1160.6,1104.4L1161.2,1104.6L1161.8,1104.7L1162.4,1105.1L1163.0,1104.5L1163.6,1104.9L1164.2,1105.6L1164.8,1105.1L1165.4,1104.7L1166.0,1104.2L1166.2,1104.2L1166.6,1103.9L1167.2,1105.7L1167.8,1105.3L1168.4,1105.5L1169.0,1105.1L1169.6,1104.5L1170.2,1103.4L1170.8,1103.9L1171.4,1103.6L1172.0,1103.3L1172.6,1104.4L1173.2,1105.3L1173.8,1105.1L1174.4,1103.5L1175.0,1104.3L1175.6,1102.5L1176.2,1102.1L1176.8,1101.6L1177.4,1101.8L1178.0,1101.3L1178.6,1101.6L1179.2,1101.6L1179.8,1102.9L1180.4,1103.1L1181.0,1102.3L1181.6,1101.2L1182.2,1101.3L1182.8,1100.8L1183.4,1102.0L1184.0,1101.0L1184.6,1100.2L1185.2,1100.6L1185.8,1099.6L1186.4,1099.7L1187.0,1099.1L1187.6,1099.5L1188.2,1100.1L1188.2,1099.6L1188.8,1099.0L1189.4,1099.0L1190.0,1098.7L1190.6,1098.1L1191.2,1099.7L1191.8,1100.0L1192.4,1099.1L1193.0,1099.8L1193.6,1099.5L1194.2,1098.7L1194.8,1098.0L1195.4,1097.4L1196.0,1096.5L1196.6,1096.3L1197.2,1097.6L1197.8,1096.9L1198.4,1097.2L1199.0,1097.4L1199.6,1098.1L1200.2,1098.0L1200.4,1097.7L1200.8,1097.6L1201.4,1096.6L1202.0,1097.3L1202.6,1096.9L1203.2,1096.2L1203.8,1097.6L1204.4,1098.5L1205.0,1098.9L1205.6,1099.1L1206.2,1099.0L1206.8,1099.4L1207.4,1099.1L1208.0,1098.8L1208.6,1099.8L1209.2,1100.2L1209.8,1099.7L1210.4,1099.8L1211.0,1100.3L1211.6,1099.9L1212.2,1101.2L1212.8,1100.7L1213.4,1102.2L1214.0,1102.2L1214.6,1102.0L1215.1,1102.9L1215.2,1103.1L1215.8,1101.8L1216.4,1103.0L1217.0,1101.9L1217.6,1102.5L1218.2,1102.6L1218.8,1103.3L1219.4,1103.0L1220.0,1102.8L1220.6,1103.5L1221.2,1103.0L1221.8,1103.0L1222.4,1102.3L1223.0,1101.9L1223.6,1102.0L1224.2,1102.6L1224.8,1102.7L1225.4,1102.4L1226.0,1103.1L1226.6,1102.4L1227.2,1104.1L1227.8,1104.5L1228.4,1104.6L1229.0,1105.4L1229.6,1104.5L1230.2,1104.9L1230.8,1104.6L1231.4,1104.4L1232.0,1105.0L1232.2,1105.3L1232.6,1105.8L1233.2,1105.9L1233.8,1104.8L1234.4,1105.9L1235.0,1105.8L1235.6,1105.0L1236.2,1105.0L1236.8,1105.6L1237.4,1105.1L1238.0,1104.7L1238.6,1104.8L1239.2,1105.5L1239.8,1105.7L1240.4,1105.2L1241.0,1105.2L1241.6,1106.1L1242.2,1106.3L1242.8,1106.8L1243.4,1106.5L1244.0,1106.5L1244.6,1106.2L1245.2,1106.3L1245.8,1107.1L1246.4,1107.4L1247.0,1106.1L1247.6,1105.8L1248.2,1104.9L1248.8,1106.6L1249.4,1106.3L1250.0,1107.4L1250.6,1108.3L1251.2,1108.2L1251.8,1108.0L1252.4,1108.1L1253.0,1107.8L1253.6,1108.2L1254.2,1106.6L1254.8,1107.3L1255.4,1106.9L1256.0,1106.9L1256.6,1108.0L1257.2,1107.9L1257.8,1107.1L1258.4,1107.7L1259.0,1107.8L1259.2,1107.6L1259.6,1107.2L1260.2,1106.6L1260.8,1107.5L1261.4,1107.3L1262.0,1106.7L1262.6,1106.3L1263.2,1106.6L1263.8,1108.0L1264.4,1108.4L1265.0,1109.1L1265.6,1108.2L1266.2,1108.5L1266.8,1108.6L1267.4,1108.9L1268.0,1109.5L1268.6,1108.7L1269.2,1109.1L1269.8,1109.5L1270.4,1109.4L1271.0,1107.8L1271.6,1107.6L1272.2,1108.0L1272.8,1108.5L1273.4,1109.1L1274.0,1110.3L1274.6,1109.3L1275.2,1109.2L1275.8,1109.3L1276.4,1109.0L1277.0,1110.3L1277.6,1109.5L1278.2,1109.2L1278.8,1109.8L1279.4,1109.1L1280.0,1109.4L1280.6,1108.6L1281.2,1107.9L1281.8,1108.1L1282.4,1107.9L1283.0,1109.9L1283.6,1110.3L1283.6,1109.5L1284.2,1110.2L1284.8,1109.0L1285.4,1109.9L1286.0,1108.9L1286.6,1109.5L1287.2,1109.2L1287.8,1109.7L1288.4,1110.9L1289.0,1110.7L1289.6,1111.3L1290.2,1111.7L1290.8,1111.4L1291.4,1109.8L1292.0,1109.4L1292.6,1110.1L1293.2,1110.7L1293.8,1110.4L1294.4,1110.6L1295.0,1110.3L1295.6,1109.8L1296.2,1110.0L1296.8,1110.9L1297.4,1111.3L1298.0,1111.2L1298.6,1109.9L1299.2,1110.1L1299.8,1110.2L1300.4,1111.1L1301.0,1111.8L1301.6,1111.9L1302.2,1111.7L1302.8,1111.4L1303.4,1111.4L1304.0,1111.6L1304.6,1110.8L1305.2,1111.4L1305.8,1110.3L1306.4,1111.4L1307.0,1111.7L1307.6,1112.2L1308.2,1112.2L1308.8,1110.7L1309.4,1111.0L1310.0,1110.4L1310.6,1111.1L1311.2,1111.4L1311.8,1112.0L1312.4,1111.1L1313.0,1112.1L1313.6,1113.1L1314.2,1112.6L1314.8,1112.4L1315.4,1113.2L1316.0,1112.0L1316.6,1111.7L1317.2,1111.6L1317.8,1111.9L1318.4,1112.5L1319.0,1112.8L1319.6,1113.0L1320.2,1114.1L1320.3,1113.3L1320.8,1113.0L1321.4,1113.5L1322.0,1113.0L1322.6,1112.1L1323.2,1112.3L1323.8,1113.8L1324.4,1113.8L1325.0,1112.9L1325.6,1113.5L1326.2,1113.8L1326.8,1113.9L1327.4,1114.2L1328.0,1113.2L1328.6,1112.5L1329.2,1114.0L1329.8,1112.7L1330.0,1113.3L1330.4,1113.8L1331.0,1114.0L1331.6,1113.8L1332.2,1114.6L1332.8,1115.0L1333.4,1114.6L1334.0,1116.1L1334.6,1115.6L1335.2,1115.8L1335.8,1116.0L1336.4,1116.6L1337.0,1116.1L1337.6,1117.2L1338.2,1116.8L1338.8,1117.5L1339.4,1117.9L1340.0,1117.3L1340.6,1118.0L1341.2,1117.4L1341.7,1117.7L1341.8,1118.0L1342.4,1117.9L1343.0,1119.1L1343.6,1118.6L1344.2,1119.1L1344.8,1119.9L1345.4,1119.8L1346.0,1120.8L1346.6,1121.0L1347.2,1120.9L1347.8,1121.7L1348.4,1121.7L1349.0,1121.9L1349.6,1122.0L1350.2,1122.9L1350.8,1123.1L1351.4,1122.3L1352.0,1122.6L1352.6,1122.9L1353.2,1122.8L1353.8,1122.7L1354.4,1122.9L1355.0,1122.8L1355.4,1123.1L1355.6,1124.5L1356.2,1124.0L1356.8,1123.5L1357.4,1123.7L1358.0,1123.7L1358.6,1124.2L1359.2,1125.0L1359.8,1123.7L1360.4,1123.6L1361.0,1122.9L1361.6,1123.9L1362.2,1122.7L1362.8,1122.4L1363.4,1121.5L1364.0,1121.3L1364.6,1121.6L1365.2,1122.3L1365.8,1122.7L1366.4,1121.6L1367.0,1121.6L1367.6,1121.6L1368.2,1122.5L1368.8,1123.4L1369.1,1122.6L1369.4,1121.6L1370.0,1122.8L1370.6,1121.9L1371.2,1121.5L1371.8,1122.8L1372.4,1121.5L1373.0,1121.6L1373.6,1123.0L1374.2,1122.9L1374.8,1122.5L1375.4,1122.9L1376.0,1122.8L1376.6,1123.4L1377.2,1123.2L1377.8,1122.7L1378.4,1122.8L1379.0,1123.6L1379.6,1123.0L1380.2,1123.3L1380.8,1123.6L1381.4,1124.9L1382.0,1125.5L1382.6,1125.5L1383.2,1124.9L1383.8,1125.1L1384.4,1125.5L1385.0,1125.9L1385.6,1126.5L1386.2,1126.7L1386.8,1127.4L1387.4,1126.7L1388.0,1127.3L1388.6,1128.8L1388.7,1128.0L1389.2,1129.0L1389.8,1128.7L1390.4,1128.5L1391.0,1129.0L1391.6,1128.8L1392.2,1129.1L1392.8,1129.7L1393.4,1130.8L1394.0,1130.2L1394.6,1130.1L1395.2,1130.7L1395.8,1130.9L1396.4,1131.7L1397.0,1130.9L1397.6,1131.6L1398.2,1132.3L1398.5,1131.7L1398.8,1133.1L1399.4,1132.5L1400.0,1133.3L1400.6,1132.0L1401.2,1132.0L1401.8,1132.8L1402.4,1133.1L1403.0,1132.3L1403.6,1133.0L1404.2,1133.6L1404.8,1133.7L1405.4,1134.1L1406.0,1133.7L1406.6,1134.5L1407.2,1133.3L1407.8,1133.4L1408.3,1133.8L1408.4,1133.0L1409.0,1134.1L1409.6,1134.7L1410.2,1134.9L1410.8,1136.0L1411.4,1136.8L1412.0,1137.8L1412.6,1138.7L1413.2,1139.5L1413.8,1140.4L1414.1,1140.7L1414.4,1141.1L1415.0,1142.2L1415.6,1143.5L1416.2,1145.0L1416.8,1146.4L1417.4,1147.7L1418.0,1149.0L1418.6,1150.3L1419.2,1151.3L1419.8,1152.0L1420.0,1152.0L1420.4,1152.4L1421.0,1153.2L1421.6,1153.7L1422.2,1154.3L1422.8,1155.2L1423.4,1154.9L1424.0,1155.8L1424.6,1156.1L1425.2,1155.4L1425.8,1156.3L1426.4,1155.9L1427.0,1156.2L1427.6,1156.5L1427.8,1157.1L1428.2,1156.2L1428.8,1157.0L1429.4,1156.7L1430.0,1157.3L1430.6,1156.9L1431.2,1156.7L1431.8,1156.6L1432.4,1155.9L1433.0,1155.1L1433.6,1156.1L1434.2,1154.8L1434.8,1155.6L1435.4,1155.2L1436.0,1154.2L1436.6,1154.2L1437.2,1154.1L1437.6,1153.6L1437.8,1153.9L1438.4,1152.5L1439.0,1152.7L1439.6,1151.7L1440.2,1151.6L1440.8,1152.2L1441.4,1152.3L1442.0,1151.3L1442.6,1151.8L1443.2,1150.7L1443.8,1151.4L1444.4,1150.5L1445.0,1150.0L1445.6,1150.0L1446.2,1148.7L1446.8,1148.9L1447.4,1148.5L1447.4,1148.5L1448.0,1147.6L1448.6,1146.9L1449.2,1146.2L1449.8,1145.2L1450.4,1144.2L1451.0,1143.0L1451.6,1141.9L1452.2,1140.5L1452.8,1140.6L1453.3,1141.1L1453.4,1139.9L1454.0,1140.5L1454.6,1141.0L1455.2,1141.9L1455.8,1142.4L1456.4,1142.8L1457.0,1143.9L1457.6,1144.4L1458.2,1145.3L1458.8,1145.5L1459.2,1144.8L1459.4,1144.3L1460.0,1143.7L1460.6,1143.7L1461.2,1143.1L1461.8,1142.2L1462.4,1141.8L1463.0,1140.9L1463.6,1141.0L1464.2,1140.3L1464.8,1141.0L1465.0,1140.3L1465.4,1140.0L1466.0,1140.3L1466.6,1141.1L1467.2,1141.1L1467.8,1141.2L1468.4,1140.6L1469.0,1141.4L1469.6,1140.6L1470.2,1141.0L1470.8,1142.1L1471.4,1142.0L1472.0,1142.5L1472.6,1142.7L1473.2,1142.8L1473.8,1143.4L1474.4,1144.4L1474.8,1144.3L1475.0,1144.7L1475.6,1145.2L1476.2,1145.2L1476.8,1146.1L1477.4,1146.4L1478.0,1147.3L1478.6,1147.2L1479.2,1148.1L1479.8,1147.9L1480.4,1148.4L1481.0,1148.8L1481.6,1149.3L1482.2,1149.5L1482.8,1149.9L1483.4,1150.7L1484.0,1152.1L1484.6,1152.4L1484.6,1152.8L1485.2,1153.2L1485.8,1154.0L1486.4,1155.1L1487.0,1156.1L1487.6,1157.2L1488.2,1158.7L1488.8,1160.2L1489.4,1161.9L1489.5,1162.2L1490.0,1163.9L1490.6,1166.4L1491.2,1169.5L1491.8,1173.3L1492.4,1177.8L1492.4,1177.8L1493.0,1184.4L1493.6,1193.5L1494.2,1203.8L1494.4,1207.2L1494.8,1214.4L1495.4,1226.3L1495.9,1236.6L1496.0,1238.7L1496.6,1251.5L1497.2,1264.7L1497.7,1275.7L1497.8,1277.9L1498.4,1292.4L1499.0,1306.3L1499.5,1314.8L1499.6,1316.1L1500.2,1323.4L1500.8,1330.3L1501.4,1336.3L1502.0,1341.0L1502.6,1344.1L1503.2,1346.4L1503.2,1346.2L1503.8,1344.3L1504.4,1341.5L1505.0,1337.6L1505.6,1333.1L1506.2,1328.4L1506.7,1324.6L1506.8,1323.9L1507.4,1319.1L1508.0,1313.7L1508.6,1308.0L1509.2,1302.3L1509.8,1297.0L1510.0,1295.3L1510.4,1292.2L1511.0,1287.8L1511.6,1283.6L1512.2,1279.5L1512.8,1275.3L1513.4,1270.8L1514.0,1265.9L1514.0,1265.9L1514.6,1260.3L1515.2,1254.1L1515.8,1247.6L1516.4,1241.4L1516.9,1236.6L1517.0,1235.7L1517.6,1230.2L1518.2,1224.9L1518.8,1219.9L1519.4,1215.5L1519.8,1213.1L1520.0,1212.0L1520.6,1209.0L1521.2,1206.2L1521.8,1203.6L1522.4,1201.4L1523.0,1199.3L1523.6,1197.5L1523.7,1197.4L1524.2,1196.0L1524.8,1194.5L1525.4,1193.1L1526.0,1192.0L1526.6,1190.9L1527.2,1189.8L1527.8,1188.7L1528.4,1187.9L1529.0,1187.4L1529.6,1186.7L1529.6,1186.5L1530.2,1185.9L1530.8,1186.0L1531.4,1185.6L1532.0,1184.5L1532.6,1185.0L1533.2,1184.0L1533.8,1184.2L1534.4,1183.9L1535.0,1184.1L1535.6,1182.6L1536.2,1183.4L1536.5,1182.3L1536.8,1182.3L1537.4,1182.9L1538.0,1183.9L1538.6,1184.9L1539.2,1186.4L1539.8,1187.7L1540.4,1189.7L1540.4,1189.6L1541.0,1195.8L1541.6,1207.3L1542.2,1219.2L1542.3,1220.9L1542.8,1229.0L1543.4,1238.8L1544.0,1248.0L1544.3,1252.2L1544.6,1256.6L1545.2,1265.9L1545.8,1273.0L1546.2,1274.4L1546.4,1274.7L1547.0,1273.3L1547.6,1270.6L1548.2,1267.0L1548.8,1262.8L1549.4,1258.2L1550.0,1253.6L1550.2,1252.2L1550.6,1249.1L1551.2,1243.7L1551.8,1237.8L1552.4,1231.7L1553.0,1225.7L1553.1,1224.8L1553.6,1219.4L1554.2,1212.6L1554.8,1207.8L1555.0,1207.2L1555.4,1206.6L1556.0,1205.5L1556.6,1205.1L1557.2,1204.3L1557.8,1204.1L1558.4,1204.6L1559.0,1203.5L1559.6,1202.9L1560.2,1202.0L1560.8,1201.2L1560.9,1201.0L1561.4,1200.9L1562.0,1201.8L1562.6,1201.6L1563.2,1200.3L1563.8,1199.8L1564.4,1200.5L1565.0,1200.0L1565.6,1198.8L1566.2,1199.7L1566.8,1199.0L1566.8,1198.6L1567.4,1198.0L1568.0,1197.9L1568.6,1198.2L1569.2,1198.0L1569.8,1198.1L1570.4,1198.0L1571.0,1197.5L1571.6,1197.0L1572.2,1197.7L1572.7,1196.8L1572.8,1197.6L1573.4,1197.3L1574.0,1198.1L1574.6,1199.1L1575.2,1199.4L1575.8,1200.6L1576.4,1200.9L1577.0,1201.9L1577.6,1202.0L1578.2,1202.8L1578.5,1202.1L1578.8,1202.9L1579.4,1202.3L1580.0,1202.9L1580.6,1202.1L1581.2,1201.3L1581.8,1202.9L1582.4,1201.3L1583.0,1201.2L1583.6,1203.2L1584.2,1203.4L1584.4,1202.2L1584.8,1202.6L1585.4,1202.5L1586.0,1201.5L1586.6,1201.1L1587.2,1200.5L1587.8,1199.5L1588.4,1198.5L1589.0,1197.5L1589.6,1196.9L1590.2,1196.2L1590.8,1195.5L1591.4,1194.7L1592.0,1194.2L1592.2,1194.1L1592.6,1193.1L1593.2,1192.6L1593.8,1192.4L1594.4,1191.6L1595.0,1191.2L1595.6,1190.5L1596.2,1190.5L1596.8,1190.0L1597.4,1189.7L1598.0,1188.3L1598.6,1188.4L1599.2,1188.7L1599.8,1187.8L1600.4,1188.0L1601.0,1187.8L1601.6,1187.7L1602.0,1187.8L1602.2,1187.4L1602.8,1187.3L1603.4,1186.6L1604.0,1186.4L1604.6,1187.4L1605.2,1186.9L1605.8,1186.0L1606.4,1185.7L1607.0,1186.4L1607.6,1186.5L1608.2,1186.1L1608.8,1185.2L1609.4,1184.8L1610.0,1184.9L1610.6,1183.9L1611.2,1184.2L1611.8,1184.6L1612.4,1184.2L1613.0,1183.1L1613.6,1182.6L1613.8,1182.5L1614.2,1183.4L1614.8,1183.3L1615.4,1183.5L1616.0,1183.2L1616.6,1182.9L1617.2,1182.4L1617.8,1182.3L1618.4,1181.3L1619.0,1181.2L1619.6,1181.9L1620.2,1182.3L1620.8,1182.9L1621.4,1180.8L1622.0,1181.6L1622.6,1180.3L1623.2,1180.9L1623.8,1181.2L1624.4,1181.5L1625.0,1180.9L1625.6,1182.1L1626.2,1180.4L1626.8,1180.5L1627.4,1181.3L1627.5,1180.9L1628.0,1180.2L1628.6,1179.8L1629.2,1179.8L1629.8,1179.3L1630.4,1179.6L1631.0,1178.5L1631.6,1180.1L1632.2,1180.7L1632.8,1179.8L1633.4,1180.7L1634.0,1180.9L1634.6,1179.3L1635.2,1178.5L1635.8,1178.3L1636.4,1179.1L1637.0,1179.9L1637.6,1180.1L1638.2,1180.4L1638.8,1179.1L1639.4,1180.0L1640.0,1178.9L1640.6,1177.8L1641.2,1178.1L1641.8,1178.9L1642.4,1179.6L1643.0,1178.4L1643.6,1179.6L1644.2,1177.8L1644.8,1179.4L1645.4,1177.9L1646.0,1178.6L1646.6,1178.5L1647.0,1177.4L1647.2,1177.6L1647.8,1177.2L1648.4,1179.3L1649.0,1179.4L1649.6,1180.0L1650.2,1179.7L1650.8,1180.4L1651.4,1180.2L1652.0,1180.4L1652.6,1181.3L1653.2,1181.3L1653.8,1181.1L1654.4,1180.6L1655.0,1182.3L1655.6,1181.4L1656.2,1182.2L1656.8,1182.9L1657.4,1182.1L1658.0,1182.3L1658.6,1182.2L1659.2,1182.2L1659.7,1183.1L1659.8,1182.4L1660.4,1181.8L1661.0,1182.9L1661.6,1181.6L1662.2,1181.7L1662.8,1181.5L1663.4,1181.5L1664.0,1181.1L1664.6,1181.3L1665.2,1180.8L1665.8,1179.8L1666.4,1179.0L1667.0,1178.6L1667.6,1178.4L1668.2,1178.3L1668.8,1178.2L1669.4,1177.3L1670.0,1177.3L1670.5,1177.2L1670.6,1176.8L1671.2,1177.7L1671.8,1176.3L1672.4,1176.3L1673.0,1175.8L1673.6,1175.5L1674.2,1175.0L1674.8,1175.3L1675.4,1175.6L1676.0,1174.8L1676.6,1173.7L1677.2,1174.6L1677.8,1174.4L1678.4,1174.4L1679.0,1173.2L1679.6,1173.7L1680.2,1172.2L1680.8,1172.1L1681.4,1171.8L1682.0,1171.4L1682.6,1171.6L1683.2,1171.6L1683.8,1171.0L1684.4,1170.8L1685.0,1170.9L1685.6,1171.1L1686.2,1171.7L1686.2,1171.1L1686.8,1170.4L1687.4,1171.0L1688.0,1171.2L1688.6,1171.2L1689.2,1169.8L1689.8,1170.0L1690.4,1170.1L1691.0,1171.8L1691.6,1171.9L1692.2,1171.5L1692.8,1172.0L1693.4,1172.1L1694.0,1172.8L1694.6,1172.6L1695.2,1172.1L1695.8,1171.2L1696.4,1171.4L1697.0,1170.1L1697.6,1171.5L1698.2,1171.6L1698.8,1172.1L1699.4,1171.3L1700.0,1171.3L1700.6,1172.0L1701.2,1170.9L1701.8,1171.1L1701.8,1171.3L1702.4,1171.3L1703.0,1172.5L1703.6,1171.3L1704.2,1172.6L1704.8,1173.2L1705.4,1173.4L1706.0,1174.0L1706.6,1173.4L1707.2,1173.5L1707.8,1174.0L1708.4,1173.7L1709.0,1174.7L1709.6,1174.5L1710.2,1175.0L1710.8,1174.9L1711.4,1174.7L1712.0,1174.1L1712.6,1175.1L1713.2,1173.4L1713.6,1174.4L1713.8,1174.8L1714.4,1175.2L1715.0,1174.6L1715.6,1176.4L1716.2,1176.0L1716.8,1175.8L1717.4,1175.2L1718.0,1175.1L1718.6,1174.6L1719.2,1174.5L1719.8,1173.7L1720.4,1173.8L1721.0,1172.7L1721.4,1173.8L1721.6,1172.9L1722.2,1173.5L1722.8,1174.3L1723.4,1175.6L1724.0,1177.2L1724.6,1178.9L1725.2,1180.6L1725.8,1182.3L1726.4,1183.7L1727.0,1184.8L1727.6,1184.9L1728.2,1185.7L1728.2,1185.7L1728.8,1186.4L1729.4,1186.1L1730.0,1185.0L1730.6,1185.1L1731.2,1184.5L1731.8,1183.7L1732.4,1183.1L1733.0,1182.3L1733.6,1181.5L1734.2,1180.9L1734.8,1180.2L1735.4,1179.9L1736.0,1179.1L1736.6,1178.7L1737.2,1178.4L1737.8,1177.7L1738.4,1177.1L1738.9,1176.6L1739.0,1176.3L1739.6,1175.9L1740.2,1175.7L1740.8,1174.6L1741.4,1173.6L1742.0,1173.5L1742.6,1173.2L1743.2,1172.4L1743.8,1172.1L1744.4,1171.1L1745.0,1170.8L1745.6,1171.0L1746.2,1170.4L1746.8,1170.2L1747.4,1170.7L1748.0,1169.3L1748.6,1169.0L1749.2,1169.4L1749.8,1170.1L1750.4,1168.7L1750.7,1168.6L1751.0,1168.8L1751.6,1168.4L1752.2,1169.1L1752.8,1169.4L1753.4,1169.5L1754.0,1170.2L1754.6,1171.6L1755.2,1171.2L1755.8,1171.8L1756.4,1172.3L1757.0,1171.5L1757.6,1171.9L1758.2,1172.3L1758.8,1172.5L1759.4,1173.6L1760.0,1173.2L1760.6,1173.3L1761.2,1174.0L1761.8,1174.9L1762.4,1174.0L1762.4,1174.2L1763.0,1173.5L1763.6,1174.6L1764.2,1173.5L1764.8,1172.7L1765.4,1172.5L1766.0,1172.4L1766.6,1172.5L1767.2,1173.2L1767.8,1171.8L1768.4,1172.7L1769.0,1172.8L1769.6,1171.9L1770.2,1171.5L1770.8,1171.6L1771.4,1171.1L1772.0,1171.6L1772.6,1171.1L1773.2,1170.4L1773.8,1171.2L1774.1,1171.2L1774.4,1170.7L1775.0,1170.7L1775.6,1171.0L1776.2,1170.2L1776.8,1170.3L1777.4,1169.6L1778.0,1169.0L1778.6,1169.3L1779.2,1168.9L1779.8,1167.8L1780.4,1167.7L1781.0,1167.2L1781.6,1166.6L1782.2,1166.2L1782.8,1165.8L1783.4,1167.1L1784.0,1166.3L1784.6,1166.8L1785.2,1167.6L1785.8,1166.5L1785.9,1166.7L1786.4,1168.1L1787.0,1167.8L1787.6,1167.1L1788.2,1167.9L1788.8,1167.0L1789.4,1166.7L1790.0,1166.9L1790.6,1167.8L1791.2,1167.6L1791.8,1168.1L1792.4,1169.0L1793.0,1168.9L1793.6,1168.3L1794.2,1168.3L1794.8,1168.7L1795.4,1168.5L1796.0,1169.0L1796.6,1169.9L1796.7,1169.5L1797.2,1170.5L1797.8,1171.6L1798.4,1172.9L1799.0,1174.4L1799.6,1176.3L1800.2,1178.2L1800.8,1179.9L1801.4,1181.6L1801.5,1182.0L1802.0,1183.3L1802.6,1185.0L1803.2,1187.0L1803.8,1188.8L1804.4,1190.8L1805.0,1192.7L1805.6,1194.5L1806.2,1196.4L1806.8,1198.1L1807.4,1199.6L1807.4,1199.6L1808.0,1201.2L1808.6,1202.7L1809.2,1204.2L1809.8,1205.8L1810.4,1207.1L1811.0,1208.6L1811.6,1209.8L1812.2,1210.7L1812.8,1211.7L1813.3,1211.9L1813.4,1212.4L1814.0,1212.8L1814.6,1213.9L1815.2,1214.6L1815.8,1214.6L1816.4,1213.9L1817.0,1214.8L1817.6,1214.2L1818.2,1213.3L1818.2,1213.4L1818.8,1213.6L1819.4,1214.4L1820.0,1213.8L1820.6,1212.7L1821.2,1212.0L1821.8,1211.0L1822.4,1209.9L1823.0,1208.7L1823.6,1207.6L1824.2,1206.5L1824.8,1205.8L1825.0,1205.7L1825.4,1204.9L1826.0,1204.2L1826.6,1203.2L1827.2,1202.2L1827.8,1201.2L1828.4,1200.4L1829.0,1199.8L1829.6,1198.2L1829.9,1199.2L1830.2,1198.6L1830.8,1199.5L1831.4,1200.4L1832.0,1201.4L1832.6,1202.3L1833.2,1203.3L1833.8,1204.7L1834.4,1205.8L1835.0,1207.3L1835.6,1208.9L1835.8,1209.4L1836.2,1210.6L1836.8,1212.9L1837.4,1215.6L1838.0,1218.8L1838.6,1221.9L1839.2,1225.1L1839.8,1227.8L1840.4,1230.1L1840.7,1231.0L1841.0,1231.7L1841.6,1233.3L1842.2,1234.8L1842.8,1236.1L1843.4,1237.2L1844.0,1238.4L1844.6,1238.9L1845.2,1238.5L1845.6,1239.5L1845.8,1239.8L1846.4,1239.2L1847.0,1238.8L1847.6,1238.3L1848.2,1238.0L1848.8,1237.4L1849.4,1236.3L1850.0,1235.4L1850.5,1234.8L1850.6,1234.6L1851.2,1232.7L1851.8,1229.8L1852.4,1226.4L1853.0,1223.0L1853.6,1219.9L1854.2,1217.7L1854.4,1217.2L1854.8,1216.6L1855.4,1215.4L1856.0,1214.4L1856.6,1213.3L1857.2,1212.5L1857.8,1211.8L1858.4,1212.3L1859.0,1212.4L1859.3,1212.4L1859.6,1212.9L1860.2,1211.7L1860.8,1212.8L1861.4,1212.7L1862.0,1213.2L1862.6,1213.6L1863.2,1214.4L1863.8,1215.4L1864.4,1216.2L1865.0,1217.2L1865.6,1218.1L1866.1,1219.1L1866.2,1219.4L1866.8,1221.1L1867.4,1223.6L1868.0,1226.4L1868.6,1229.3L1869.2,1232.0L1869.8,1234.3L1870.0,1234.9L1870.4,1235.9L1871.0,1237.4L1871.6,1238.8L1872.2,1240.2L1872.8,1241.3L1873.4,1242.2L1874.0,1243.1L1874.6,1244.2L1874.9,1244.5L1875.2,1245.1L1875.8,1245.9L1876.4,1247.2L1877.0,1248.0L1877.6,1248.1L1877.9,1248.2L1878.2,1247.9L1878.8,1247.1L1879.4,1245.4L1880.0,1243.1L1880.6,1240.6L1881.2,1238.2L1881.8,1236.3L1882.4,1234.8L1882.8,1234.1L1883.0,1235.2L1883.6,1235.3L1884.2,1236.7L1884.8,1238.3L1885.4,1240.3L1886.0,1242.4L1886.6,1244.3L1886.7,1244.6L1887.2,1246.3L1887.8,1248.7L1888.4,1251.4L1889.0,1254.2L1889.6,1256.9L1890.2,1259.4L1890.8,1261.4L1891.4,1262.7L1892.0,1263.3L1892.0,1264.4L1892.6,1262.0L1893.2,1258.6L1893.8,1253.6L1894.4,1247.7L1894.5,1246.6L1895.0,1236.9L1895.6,1221.8L1895.9,1217.2L1896.2,1214.7L1896.8,1210.4L1897.4,1207.0L1898.0,1204.3L1898.6,1202.1L1899.2,1200.2L1899.4,1199.6L1899.8,1198.4L1900.4,1196.9L1901.0,1195.5L1901.6,1194.2L1902.2,1192.9L1902.8,1191.9L1903.4,1190.8L1904.0,1190.0L1904.6,1188.9L1905.2,1187.6L1905.3,1187.3L1905.8,1186.8L1906.4,1185.9L1907.0,1184.5L1907.6,1183.9L1908.2,1182.8L1908.8,1181.9L1909.4,1180.6L1910.0,1180.0L1910.6,1178.2L1911.2,1177.1L1911.8,1176.5L1912.4,1176.6L1913.0,1175.9L1913.1,1175.1L1913.6,1174.9L1914.2,1175.4L1914.8,1174.6L1915.4,1173.6L1916.0,1175.2L1916.6,1174.7L1917.2,1173.3L1917.8,1174.2L1918.4,1173.9L1919.0,1172.5L1919.6,1175.3L1920.2,1174.2L1920.8,1173.9L1921.4,1172.9L1922.0,1172.6L1922.6,1173.1L1923.2,1170.2L1923.8,1170.5L1924.4,1173.6L1925.0,1171.7L1925.6,1172.8L1926.2,1171.6L1926.8,1171.2L1926.8,1171.4L1927.4,1171.4L1928.0,1173.2L1928.6,1172.6L1929.2,1173.6L1929.8,1174.7L1930.4,1173.0L1931.0,1174.0L1931.6,1173.1L1932.2,1174.6L1932.8,1174.7L1933.4,1174.6L1934.0,1174.9L1934.6,1175.7L1935.2,1175.9L1935.8,1175.3L1936.4,1176.3L1936.6,1174.7L1937.0,1176.1L1937.6,1176.4L1938.2,1176.8L1938.8,1175.1L1939.4,1177.7L1940.0,1177.0L1940.6,1176.6L1941.2,1179.1L1941.5,1178.2L1941.8,1177.3L1942.4,1171.9L1943.0,1164.7L1943.5,1160.0L1943.6,1159.3L1944.2,1155.0L1944.8,1151.3L1945.4,1148.2L1945.4,1149.6L1946.0,1153.0L1946.6,1160.8L1947.2,1170.4L1947.5,1175.0L1947.8,1179.6L1948.4,1190.4L1949.0,1201.6L1949.5,1210.0L1949.6,1211.6L1950.2,1221.9L1950.8,1230.8L1951.3,1236.0L1951.4,1233.4L1952.0,1218.9L1952.6,1200.0L1952.6,1200.0L1953.2,1186.2L1953.8,1174.7L1954.0,1172.0L1954.4,1167.5L1955.0,1162.8L1955.2,1161.9L1955.6,1162.8L1956.2,1164.4L1956.8,1167.1L1957.4,1170.3L1958.0,1173.5L1958.6,1176.4L1959.1,1178.3L1959.2,1178.5L1959.8,1180.2L1960.4,1181.9L1961.0,1183.2L1961.6,1184.7L1962.2,1185.6L1962.8,1185.8L1963.0,1186.4L1963.4,1185.1L1964.0,1185.3L1964.6,1184.4L1965.2,1183.1L1965.8,1181.5L1966.4,1180.3L1967.0,1179.7L1967.6,1179.0L1967.9,1177.1L1968.2,1179.3L1968.8,1180.0L1969.4,1178.7L1970.0,1178.0L1970.6,1179.0L1971.2,1178.2L1971.8,1177.8L1972.4,1178.9L1973.0,1179.1L1973.6,1181.3L1974.2,1179.1L1974.8,1182.3L1975.4,1183.1L1976.0,1184.2L1976.6,1182.1L1977.2,1184.4L1977.8,1183.4L1978.4,1181.8L1979.0,1183.6L1979.6,1183.8L1980.2,1182.6L1980.8,1183.9L1981.4,1182.1L1981.6,1181.4L1982.0,1182.9L1982.6,1181.8L1983.2,1181.2L1983.8,1179.6L1984.4,1181.3L1985.0,1179.8L1985.6,1179.8L1986.2,1179.2L1986.8,1181.5L1987.4,1181.7L1988.0,1181.4L1988.6,1181.3L1989.2,1179.0L1989.8,1178.2L1990.4,1177.2L1991.0,1177.3L1991.4,1178.4L1991.6,1177.6L1992.2,1177.1L1992.8,1175.3L1993.4,1173.8L1994.0,1172.1L1994.6,1170.8L1995.2,1171.1L1995.3,1170.3L1995.8,1170.8L1996.4,1173.2L1997.0,1176.5L1997.6,1180.1L1998.2,1183.3L1998.8,1185.2L1999.2,1187.2L1999.4,1186.8L2000.0,1184.9L2000.6,1184.7L2001.2,1185.8L2001.8,1184.2L2002.4,1185.7L2003.0,1184.0L2003.6,1183.6L2004.2,1183.1L2004.8,1181.7L2005.4,1182.2L2006.0,1182.1L2006.6,1181.0L2007.0,1181.4L2007.2,1181.1L2007.8,1181.0L2008.4,1178.8L2009.0,1178.2L2009.6,1178.6L2010.2,1177.8L2010.8,1179.4L2011.4,1179.0L2012.0,1177.7L2012.6,1178.4L2013.2,1178.5L2013.8,1178.0L2014.4,1177.9L2015.0,1175.6L2015.6,1176.7L2016.2,1175.4L2016.8,1176.2L2017.4,1175.8L2018.0,1173.1L2018.6,1173.6L2019.2,1173.4L2019.8,1174.5L2020.4,1174.2L2020.7,1176.0L2021.0,1174.0L2021.6,1174.6L2022.2,1175.6L2022.8,1176.1L2023.4,1177.2L2024.0,1178.2L2024.6,1178.6L2025.2,1178.3L2025.6,1178.8L2025.8,1179.2L2026.4,1178.7L2027.0,1179.5L2027.6,1178.8L2028.2,1177.2L2028.8,1177.0L2029.4,1176.3L2030.0,1176.1L2030.6,1175.3L2031.2,1174.8L2031.5,1175.4L2031.8,1173.9L2032.4,1175.3L2033.0,1173.9L2033.6,1175.3L2034.2,1175.5L2034.8,1174.9L2035.4,1176.6L2036.0,1176.5L2036.6,1179.0L2037.2,1178.7L2037.8,1180.1L2038.4,1179.2L2039.0,1180.7L2039.6,1181.4L2040.2,1181.6L2040.8,1181.1L2041.4,1181.1L2042.0,1182.6L2042.3,1183.4L2042.6,1181.7L2043.2,1182.4L2043.8,1183.5L2044.4,1183.0L2045.0,1183.1L2045.6,1182.9L2046.2,1183.5L2046.8,1182.4L2047.4,1184.9L2048.0,1183.3L2048.6,1185.9L2049.2,1186.9L2049.8,1186.9L2050.4,1184.7L2051.0,1184.4L2051.6,1183.9L2052.0,1183.1L2052.2,1182.0L2052.8,1184.2L2053.4,1185.2L2054.0,1184.4L2054.6,1183.6L2055.2,1185.1L2055.8,1184.2L2056.4,1182.5L2057.0,1183.0L2057.6,1181.7L2058.2,1181.6L2058.8,1181.1L2059.4,1180.0L2060.0,1179.2L2060.6,1179.4L2061.0,1178.2" fill="none" stroke="#505050" stroke-width="10.6" stroke-linejoin="round" stroke-linecap="butt" clip-path="url(#cc)"/>
<path d="M161.0,587.8L161.6,585.8L162.2,587.3L162.8,586.8L163.4,586.7L164.0,586.2L164.6,585.6L165.2,587.6L165.8,585.8L166.4,585.4L167.0,587.0L167.0,586.6L167.6,586.1L168.2,588.6L168.8,588.3L169.4,589.7L170.0,590.1L170.6,590.0L171.2,591.2L171.8,590.7L172.4,591.9L173.0,591.2L173.6,592.0L174.2,591.5L174.5,592.0L174.8,594.7L175.4,594.4L176.0,593.3L176.6,593.2L177.2,593.2L177.8,593.7L178.4,592.5L179.0,594.3L179.6,593.2L180.2,592.9L180.8,592.7L181.4,595.6L182.0,595.6L182.6,593.6L183.2,595.7L183.8,596.4L184.4,594.2L185.0,596.0L185.6,593.5L186.0,594.4L186.2,593.7L186.8,593.5L187.4,595.0L188.0,594.6L188.6,597.3L189.2,595.6L189.8,592.8L190.4,593.5L191.0,595.8L191.6,594.3L192.2,593.2L192.8,594.8L193.4,594.4L194.0,599.2L194.6,599.7L195.2,599.6L195.8,599.4L196.4,600.1L197.0,597.4L197.6,597.8L198.2,597.7L198.8,595.8L199.0,594.0L199.4,598.4L200.0,597.6L200.6,599.4L201.2,599.2L201.8,598.6L202.4,598.8L203.0,600.6L203.6,600.4L204.2,599.3L204.8,597.3L205.0,599.7L205.4,598.0L206.0,599.0L206.6,599.4L207.2,601.1L207.8,601.7L208.4,602.6L209.0,603.0L209.6,602.7L210.0,603.6L210.2,605.5L210.8,603.2L211.4,602.6L212.0,601.1L212.6,599.9L213.2,598.5L213.8,597.0L214.0,596.9L214.4,596.6L215.0,595.5L215.6,594.0L216.2,593.5L216.8,592.5L217.4,590.6L218.0,591.6L218.5,591.5L218.6,591.8L219.2,591.3L219.8,591.0L220.4,592.6L221.0,592.8L221.6,593.4L222.2,594.5L222.8,596.3L223.0,596.1L223.4,596.7L224.0,597.9L224.6,599.4L225.2,600.7L225.8,602.0L226.4,603.5L227.0,604.5L227.6,605.5L228.2,606.9L228.3,604.7L228.8,604.5L229.4,604.4L230.0,604.6L230.6,603.5L231.2,603.7L231.8,602.5L232.4,601.6L233.0,600.7L233.6,600.1L234.0,599.6L234.2,599.4L234.8,599.0L235.4,598.2L236.0,597.0L236.3,596.2L236.6,593.8L237.2,585.3L237.8,578.2L238.0,576.6L238.4,579.9L239.0,588.4L239.6,595.5L239.7,596.0L240.2,597.5L240.8,598.7L241.4,600.1L242.0,601.5L242.6,601.3L243.2,601.0L243.8,601.6L244.2,602.7L244.4,600.2L245.0,600.5L245.6,600.8L246.2,602.3L246.8,603.1L247.4,601.9L248.0,604.1L248.6,602.8L249.2,602.2L249.8,599.9L250.4,600.2L251.0,602.0L251.6,600.2L252.0,599.5L252.2,600.7L252.8,601.5L253.4,602.5L254.0,602.4L254.6,599.6L255.2,599.6L255.8,600.6L256.4,601.4L257.0,601.5L257.6,602.6L258.2,602.6L258.8,605.3L259.4,601.8L260.0,601.5L260.6,602.1L261.2,602.7L261.8,601.1L262.4,603.1L263.0,601.8L263.6,603.4L264.2,600.3L264.8,600.0L265.0,604.0L265.4,600.1L266.0,602.8L266.6,601.4L267.2,601.4L267.8,602.7L268.4,605.6L269.0,604.5L269.6,606.3L270.2,605.6L270.8,605.1L271.4,605.7L272.0,605.1L272.6,604.1L273.2,605.3L273.8,605.3L274.4,606.8L275.0,606.3L275.0,607.0L275.6,607.8L276.2,607.5L276.8,606.4L277.4,602.8L278.0,604.3L278.6,604.3L279.2,607.7L279.8,607.2L280.4,604.9L281.0,605.8L281.6,607.0L282.2,607.3L282.8,604.1L283.4,605.9L284.0,605.6L284.5,602.0L284.6,602.4L285.2,604.6L285.8,604.1L286.4,607.8L287.0,607.5L287.6,607.9L288.0,607.9L288.2,605.8L288.8,605.4L289.4,605.2L290.0,603.8L290.6,602.5L290.8,601.9L291.2,598.9L291.8,590.3L292.4,583.6L292.6,580.8L293.0,585.1L293.6,592.9L294.2,600.0L294.4,601.0L294.8,602.2L295.4,602.9L296.0,604.5L296.6,605.7L297.2,605.3L297.8,609.0L298.0,607.6L298.4,605.9L299.0,606.9L299.6,605.3L300.2,604.1L300.8,603.0L301.4,603.1L302.0,604.5L302.6,605.8L303.2,603.6L303.8,606.8L304.4,604.3L305.0,604.4L305.6,606.4L306.2,606.8L306.8,607.7L307.4,606.8L308.0,606.7L308.6,604.7L309.2,606.8L309.8,604.9L310.4,606.9L311.0,607.6L311.4,608.9L311.6,606.5L312.2,609.4L312.8,609.3L313.4,608.7L314.0,608.6L314.6,609.4L315.2,610.0L315.8,609.9L316.4,608.9L317.0,608.0L317.6,605.5L318.2,608.3L318.8,606.9L319.4,605.9L320.0,609.5L320.6,610.3L321.2,610.0L321.8,610.4L322.4,610.2L323.0,608.8L323.6,609.4L324.2,610.0L324.8,608.3L325.4,611.9L326.0,606.7L326.1,608.1L326.6,605.9L327.2,606.8L327.8,611.0L328.4,609.0L329.0,610.4L329.6,607.3L330.2,607.7L330.8,610.8L331.4,611.2L332.0,608.7L332.6,611.9L333.2,610.8L333.8,610.0L334.4,609.0L335.0,608.4L335.6,611.6L336.2,611.2L336.8,611.4L337.4,609.3L338.0,610.3L338.6,613.7L339.2,612.0L339.8,611.3L340.4,609.6L340.8,610.0L341.0,609.7L341.6,609.3L342.2,609.8L342.8,609.5L343.4,608.7L344.0,607.6L344.0,607.9L344.6,604.3L345.2,599.1L345.7,592.4L345.8,596.7L346.4,601.0L347.0,606.7L347.4,608.9L347.6,609.4L348.2,610.8L348.8,611.8L349.4,613.4L350.0,614.4L350.6,614.6L351.2,617.6L351.8,617.0L351.8,618.0L352.4,617.9L353.0,616.1L353.6,617.8L354.2,616.6L354.8,616.0L355.4,615.8L356.0,612.1L356.6,613.7L357.2,615.1L357.8,612.1L358.4,612.3L359.0,613.0L359.6,613.7L360.2,612.5L360.8,612.4L361.4,613.7L362.0,609.4L362.6,612.6L362.8,611.0L363.2,612.3L363.8,613.2L364.4,610.9L365.0,614.2L365.6,613.9L366.2,611.9L366.8,610.7L367.4,609.9L368.0,611.2L368.6,613.2L369.2,614.2L369.8,613.6L370.4,614.0L371.0,614.9L371.6,616.8L372.2,614.2L372.8,614.6L373.4,617.3L374.0,616.3L374.6,617.8L375.0,620.8L375.2,619.0L375.8,621.4L376.4,621.0L377.0,618.5L377.6,617.2L378.2,617.7L378.8,620.9L379.4,617.7L380.0,618.5L380.6,620.1L381.2,619.8L381.8,620.8L382.4,620.1L383.0,619.4L383.6,618.2L384.2,618.8L384.8,620.2L385.4,620.9L386.0,620.3L386.6,621.8L387.2,618.4L387.8,619.1L388.4,621.9L389.0,620.2L389.6,619.8L390.2,620.8L390.8,619.7L391.4,622.0L392.0,619.6L392.6,621.7L393.2,620.8L393.8,622.8L394.4,621.3L394.6,623.7L395.0,622.4L395.6,620.6L396.2,624.6L396.8,625.1L397.4,621.1L398.0,624.6L398.6,623.2L399.2,624.6L399.8,622.9L400.4,625.5L401.0,623.5L401.6,622.4L402.2,624.0L402.8,621.7L403.4,621.5L404.0,619.9L404.6,622.9L405.2,624.7L405.8,624.0L406.4,626.5L407.0,625.7L407.6,623.1L408.2,623.8L408.8,624.2L409.4,624.6L410.0,627.2L410.6,623.9L411.2,624.9L411.8,624.9L412.4,627.8L413.0,627.0L413.6,626.8L414.2,624.3L414.8,625.2L415.4,624.9L416.0,628.0L416.6,626.2L417.2,628.2L417.8,627.3L418.4,628.4L419.0,623.9L419.1,628.1L419.6,627.8L420.2,623.7L420.8,622.8L421.4,623.5L422.0,624.6L422.6,625.7L423.2,626.7L423.8,629.5L424.4,627.3L425.0,628.2L425.6,626.3L426.2,624.5L426.8,628.1L427.4,628.4L428.0,626.3L428.6,628.1L429.2,628.0L429.8,626.6L430.4,628.0L431.0,628.1L431.6,627.9L432.2,627.7L432.8,627.4L433.4,627.3L434.0,627.5L434.6,627.1L435.2,629.5L435.8,629.0L436.4,629.4L437.0,628.7L437.6,628.2L438.2,629.7L438.8,629.5L439.4,629.8L440.0,629.1L440.6,628.7L441.2,628.8L441.8,629.8L442.4,630.0L443.0,630.5L443.5,629.6L443.6,630.4L444.2,629.4L444.8,630.5L445.4,629.8L446.0,630.6L446.6,629.1L447.2,630.2L447.8,628.9L448.4,630.8L449.0,630.3L449.6,629.5L450.2,629.5L450.8,629.9L451.4,629.6L452.0,629.3L452.6,629.5L453.2,630.7L453.8,630.8L454.4,629.8L455.0,631.2L455.6,629.7L456.2,630.1L456.8,630.2L457.4,631.6L458.0,632.1L458.6,631.6L459.2,630.0L459.8,629.3L460.4,630.1L461.0,629.9L461.6,630.3L462.2,630.6L462.8,632.3L463.4,630.8L464.0,629.6L464.6,630.4L465.2,631.1L465.8,631.7L466.4,631.6L467.0,631.3L467.6,630.2L468.0,630.6L468.2,631.0L468.8,631.0L469.4,632.1L470.0,631.1L470.6,630.5L471.2,631.4L471.8,630.6L472.4,631.7L473.0,632.3L473.6,632.7L474.2,631.3L474.8,630.9L475.4,632.3L476.0,631.2L476.6,631.4L477.2,631.5L477.8,632.4L478.4,632.2L479.0,632.7L479.6,632.9L480.2,633.8L480.8,633.8L481.4,634.6L482.0,633.4L482.6,633.0L483.2,633.8L483.8,632.3L484.4,633.2L485.0,633.0L485.6,633.1L486.2,632.2L486.8,632.2L487.4,633.8L488.0,632.7L488.6,633.1L489.2,634.7L489.8,634.8L490.4,635.2L491.0,635.1L491.6,635.4L492.2,635.0L492.5,634.6L492.8,635.6L493.4,635.0L494.0,635.5L494.6,634.2L495.2,634.9L495.8,635.3L496.4,634.9L497.0,635.7L497.6,635.5L498.2,636.3L498.8,636.2L499.4,637.2L500.0,636.6L500.6,636.4L501.2,635.9L501.8,634.8L502.4,636.6L503.0,636.5L503.6,636.0L504.2,637.4L504.8,637.2L505.4,638.0L506.0,636.9L506.6,636.2L507.2,636.2L507.8,637.6L508.4,637.4L509.0,636.8L509.6,637.7L510.2,637.9L510.8,638.6L511.4,637.0L512.0,637.1L512.6,637.4L513.2,636.4L513.8,637.8L514.4,636.6L515.0,637.8L515.6,637.9L516.2,638.9L516.8,637.8L516.9,638.4L517.4,638.5L518.0,637.3L518.6,637.8L519.2,637.6L519.8,638.5L520.4,638.0L521.0,637.5L521.6,637.3L522.2,636.8L522.8,638.6L523.4,638.8L524.0,638.1L524.6,637.9L525.2,636.7L525.8,637.5L526.4,638.2L527.0,637.5L527.6,638.1L528.2,638.4L528.8,637.8L529.4,638.0L530.0,637.2L530.6,638.4L531.2,637.2L531.8,638.2L532.4,638.0L533.0,637.6L533.6,639.1L534.2,637.7L534.8,638.1L535.4,638.3L536.0,637.7L536.6,638.5L537.2,639.1L537.8,639.0L538.4,638.6L539.0,638.2L539.6,639.5L540.2,638.8L540.8,639.3L541.4,638.6L541.4,638.1L542.0,638.0L542.6,638.2L543.2,639.1L543.8,640.0L544.4,639.2L545.0,639.2L545.6,638.4L546.2,640.0L546.8,639.6L547.4,640.0L548.0,639.5L548.6,638.7L549.2,638.6L549.8,638.8L550.4,640.0L551.0,641.3L551.6,641.1L552.2,639.5L552.8,638.8L553.4,639.9L554.0,639.3L554.6,638.8L555.2,639.7L555.8,638.8L556.4,638.9L557.0,638.9L557.6,639.5L558.2,640.1L558.8,639.3L559.4,639.1L560.0,639.7L560.6,640.3L561.2,638.3L561.8,638.9L562.4,640.5L563.0,640.2L563.6,641.2L564.2,642.0L564.8,641.0L565.4,641.5L565.9,640.1L566.0,641.4L566.6,641.0L567.2,639.4L567.8,640.7L568.4,639.5L569.0,641.3L569.6,641.8L570.2,641.9L570.8,641.7L571.4,641.4L572.0,640.6L572.6,639.9L573.2,641.5L573.8,640.1L574.4,641.7L575.0,640.6L575.6,642.3L576.2,642.1L576.8,641.8L577.4,643.2L578.0,642.3L578.6,642.7L579.2,643.4L579.8,643.9L580.4,643.8L581.0,645.1L581.6,644.3L582.2,645.0L582.8,643.3L583.4,643.3L584.0,644.1L584.6,644.6L585.2,643.8L585.8,644.3L586.4,645.6L587.0,644.8L587.6,644.5L588.2,645.1L588.8,643.9L589.4,642.9L590.0,644.2L590.3,643.3L590.6,643.3L591.2,644.9L591.8,643.7L592.4,646.0L593.0,644.7L593.6,645.1L594.2,646.8L594.8,646.0L595.4,645.4L596.0,646.8L596.6,645.4L597.2,646.6L597.8,645.6L598.4,645.5L599.0,645.6L599.6,645.7L600.0,645.5L600.2,644.7L600.8,643.9L601.4,645.1L602.0,645.4L602.6,644.8L603.2,645.3L603.8,645.7L604.4,645.7L605.0,645.9L605.6,645.7L606.2,646.4L606.8,645.9L607.4,645.8L608.0,646.1L608.6,646.5L609.2,646.1L609.8,646.3L610.4,645.3L611.0,645.8L611.6,646.2L612.2,646.6L612.8,648.1L613.4,647.4L614.0,648.1L614.6,648.3L614.8,648.4L615.2,647.8L615.8,647.4L616.4,648.7L617.0,648.3L617.6,647.5L618.2,648.2L618.8,647.5L619.4,647.2L620.0,646.7L620.6,647.2L621.2,647.2L621.8,648.7L622.4,649.1L623.0,648.6L623.6,648.0L624.2,648.4L624.8,649.4L625.4,648.7L626.0,647.4L626.6,647.6L627.2,648.8L627.8,649.1L628.4,648.0L629.0,649.0L629.6,648.9L630.0,649.1L630.2,649.6L630.8,650.1L631.4,649.3L632.0,649.2L632.6,649.9L633.2,651.2L633.8,651.4L634.4,651.0L635.0,652.0L635.6,651.9L636.2,651.6L636.8,652.5L637.4,652.0L638.0,652.1L638.6,651.9L639.2,652.4L639.8,652.5L640.4,653.2L641.0,652.7L641.6,653.6L642.2,653.4L642.8,654.1L643.4,654.3L644.0,655.6L644.6,656.8L645.0,656.5L645.2,655.9L645.8,655.3L646.4,654.6L647.0,655.8L647.6,655.6L648.2,656.1L648.8,656.9L649.4,656.7L650.0,657.5L650.6,657.6L651.2,657.6L651.8,658.7L652.4,659.2L653.0,659.2L653.6,660.5L654.2,659.7L654.8,660.3L655.4,660.3L656.0,660.6L656.6,660.5L657.2,661.3L657.8,662.2L658.4,662.8L659.0,662.5L659.6,662.3L660.0,663.0L660.2,663.3L660.8,663.8L661.4,663.4L662.0,663.5L662.6,664.2L663.2,663.2L663.8,663.4L664.4,664.4L665.0,664.7L665.6,665.4L666.2,664.7L666.8,665.2L667.4,665.5L668.0,665.7L668.6,665.4L669.2,666.4L669.8,665.7L670.4,666.4L671.0,667.6L671.6,666.9L672.2,667.8L672.8,667.8L673.4,668.7L674.0,668.3L674.6,668.1L675.0,669.4L675.2,669.1L675.8,668.5L676.4,669.4L677.0,669.3L677.6,670.3L678.2,669.4L678.8,670.4L679.4,671.3L680.0,671.8L680.6,672.1L681.2,671.8L681.8,671.4L682.4,671.3L683.0,671.8L683.6,673.1L684.2,673.1L684.8,672.8L685.4,674.1L686.0,674.2L686.6,674.5L686.8,675.1L687.2,675.4L687.8,675.9L688.4,676.8L689.0,677.4L689.6,677.9L690.2,678.8L690.8,679.6L691.4,680.4L692.0,681.4L692.6,682.7L693.2,684.0L693.8,685.6L694.3,686.8L694.4,687.1L695.0,689.2L695.6,692.2L696.2,695.7L696.8,699.6L697.4,703.8L698.0,708.2L698.6,712.4L698.8,713.8L699.2,716.6L699.8,720.8L700.4,725.3L701.0,729.9L701.6,734.7L702.2,739.8L702.8,745.1L703.3,749.7L703.4,750.7L704.0,756.7L704.6,763.3L705.2,770.2L705.8,777.4L706.4,784.8L707.0,792.1L707.2,794.6L707.6,799.7L708.2,807.9L708.8,816.3L709.4,824.3L710.0,831.4L710.2,833.5L710.6,837.6L711.2,843.7L711.8,849.4L712.4,854.0L713.0,857.0L713.2,857.3L713.6,858.1L714.2,858.4L714.8,859.2L715.4,859.8L716.0,859.8L716.6,859.7L717.2,860.1L717.8,860.9L718.4,861.6L719.0,862.9L719.2,863.4L719.6,868.5L720.2,885.2L720.7,899.4L720.8,901.7L721.4,915.8L722.0,929.7L722.6,943.1L723.2,955.5L723.4,959.3L723.8,966.5L724.4,976.7L725.0,986.2L725.6,995.3L726.2,1004.2L726.8,1013.1L727.2,1019.2L727.4,1022.2L728.0,1031.0L728.6,1039.6L729.2,1048.3L729.8,1057.4L730.2,1064.0L730.4,1067.9L731.0,1082.6L731.6,1092.3L731.7,1093.0L732.2,1090.8L732.8,1085.0L733.4,1075.8L734.0,1064.2L734.6,1051.2L734.7,1049.0L735.2,1030.5L735.8,1001.7L736.2,989.2L736.4,985.8L737.0,977.0L737.6,970.1L738.2,964.5L738.8,959.7L739.4,955.2L740.0,950.6L740.6,945.3L740.7,944.3L741.2,939.4L741.8,933.6L742.4,927.8L743.0,922.0L743.6,916.1L744.2,910.1L744.8,903.8L745.2,899.4L745.4,897.1L746.0,889.3L746.6,880.9L747.2,872.4L747.8,864.5L748.4,857.9L748.8,854.5L749.0,853.1L749.6,848.7L750.2,844.6L750.8,840.9L751.4,837.9L752.0,835.9L752.6,835.1L752.7,835.8L753.2,835.5L753.8,836.8L754.4,838.8L755.0,841.6L755.6,844.9L756.2,848.4L756.8,852.1L757.2,854.5L757.4,855.8L758.0,859.9L758.6,864.8L759.2,870.2L759.8,876.3L760.4,883.0L761.0,890.2L761.6,898.0L761.7,899.4L762.2,907.5L762.8,919.8L763.4,933.4L764.0,946.6L764.6,957.7L764.7,959.3L765.2,967.2L765.8,976.8L766.4,985.6L767.0,992.1L767.6,995.4L767.7,995.6L768.2,994.4L768.8,991.1L769.4,985.8L770.0,978.8L770.6,970.4L771.2,961.0L771.3,959.3L771.8,946.4L772.4,923.4L773.0,899.4L773.0,899.4L773.6,876.6L774.2,853.7L774.6,839.5L774.8,832.8L775.4,812.7L776.0,794.3L776.6,779.6L776.6,779.6L777.2,767.9L777.8,757.3L778.4,748.1L779.0,740.5L779.6,734.7L779.6,734.7L780.2,730.2L780.8,726.2L781.4,722.7L782.0,719.6L782.6,716.9L783.2,714.3L783.8,712.0L784.1,710.8L784.4,709.7L785.0,707.4L785.6,705.3L786.2,703.4L786.8,701.5L787.4,699.7L788.0,697.9L788.6,696.2L789.2,694.9L789.8,693.4L790.1,692.9L790.4,692.0L791.0,690.8L791.6,689.8L792.2,688.5L792.8,687.5L793.4,686.6L794.0,685.7L794.6,684.8L795.2,683.9L795.8,683.2L796.4,682.2L797.0,681.5L797.6,680.7L797.6,680.2L798.2,679.8L798.8,679.4L799.4,678.6L800.0,678.4L800.6,678.2L801.2,677.1L801.8,676.8L802.4,676.3L803.0,675.1L803.6,675.4L804.2,674.4L804.8,674.8L805.4,673.6L806.0,673.0L806.6,673.5L806.6,672.7L807.2,672.3L807.8,672.1L808.4,672.5L809.0,671.5L809.6,671.5L810.2,670.9L810.8,670.9L811.4,669.8L812.0,671.1L812.6,670.5L813.2,670.8L813.8,670.1L814.4,671.0L815.0,669.8L815.6,670.0L815.6,671.5L816.2,670.4L816.8,670.9L817.4,670.9L818.0,670.3L818.6,670.9L819.2,670.1L819.8,670.7L820.4,669.8L821.0,670.0L821.6,670.1L822.2,669.5L822.8,669.9L823.4,669.8L824.0,670.1L824.6,669.9L825.2,670.7L825.8,669.8L826.4,669.7L827.0,671.9L827.6,672.0L828.2,673.6L828.8,672.5L829.4,672.0L830.0,672.6L830.6,673.6L831.2,672.0L831.8,672.6L832.4,673.1L833.0,671.7L833.5,672.6L833.6,671.3L834.2,671.6L834.8,671.3L835.4,672.9L836.0,672.6L836.6,672.3L837.2,673.2L837.8,672.2L838.4,671.5L839.0,672.2L839.6,672.3L840.2,672.9L840.8,671.1L841.4,672.2L842.0,671.6L842.6,670.6L843.2,671.0L843.8,670.1L844.4,671.1L845.0,669.4L845.6,669.6L846.2,670.6L846.8,670.9L847.4,670.0L848.0,669.9L848.6,669.7L849.2,669.5L849.8,670.5L850.4,669.0L851.0,669.0L851.6,669.3L852.2,669.4L852.8,669.2L853.4,669.3L854.0,669.4L854.5,669.1L854.6,669.7L855.2,670.4L855.8,669.6L856.4,669.2L857.0,669.1L857.6,668.2L858.2,669.7L858.8,670.3L859.4,669.4L860.0,669.9L860.6,669.4L861.2,669.0L861.8,667.6L862.4,668.6L863.0,667.8L863.6,669.1L864.2,668.0L864.8,669.5L865.4,668.4L866.0,669.4L866.6,669.2L867.2,667.6L867.8,667.6L868.4,669.2L869.0,669.2L869.6,667.8L870.2,668.9L870.8,668.5L871.4,667.7L872.0,668.8L872.6,668.2L873.2,667.1L873.8,667.7L874.4,667.4L875.0,668.2L875.4,668.1L875.6,666.7L876.2,667.5L876.8,667.2L877.4,666.6L878.0,666.7L878.6,666.2L879.2,665.3L879.8,666.7L880.0,666.8L880.4,667.2L881.0,666.6L881.6,665.5L882.2,666.8L882.8,665.4L883.4,665.2L884.0,665.2L884.6,666.1L885.2,666.1L885.8,666.9L886.4,665.6L887.0,665.0L887.6,666.2L888.2,664.6L888.8,665.0L889.4,664.3L890.0,665.9L890.6,666.0L891.2,665.5L891.8,664.3L892.4,664.9L893.0,663.4L893.6,664.2L894.2,664.1L894.8,665.3L895.4,665.2L896.0,664.9L896.6,664.3L897.2,664.6L897.8,664.9L898.4,664.9L899.0,664.2L899.6,664.2L900.2,665.2L900.8,665.5L901.4,665.6L902.0,664.7L902.6,663.7L903.2,662.4L903.8,662.4L904.4,662.5L904.5,663.4L905.0,662.8L905.6,663.4L906.2,663.3L906.8,663.4L907.4,663.5L908.0,663.7L908.6,664.2L909.2,662.6L909.8,662.7L910.4,664.2L911.0,664.2L911.6,664.5L912.2,663.5L912.8,662.8L913.4,662.7L914.0,664.1L914.6,664.7L915.2,664.3L915.8,664.4L916.4,664.8L917.0,663.3L917.6,663.3L918.2,662.7L918.8,663.5L919.4,662.7L920.0,662.7L920.6,662.6L921.2,662.9L921.8,662.5L922.4,662.7L923.0,663.0L923.6,662.4L924.2,662.5L924.8,661.9L925.4,662.4L926.0,662.5L926.6,663.6L927.2,663.0L927.8,663.1L928.4,662.7L929.0,663.1L929.0,661.9L929.6,663.2L930.2,662.3L930.8,662.7L931.4,662.6L932.0,661.4L932.6,661.8L933.2,662.5L933.8,662.9L934.4,663.2L935.0,662.0L935.6,662.2L936.2,663.0L936.8,661.9L937.4,662.5L938.0,661.9L938.6,660.7L939.2,662.7L939.8,661.6L940.4,662.5L941.0,663.4L941.6,662.0L942.2,663.0L942.8,662.0L943.4,660.6L944.0,660.2L944.6,662.0L945.2,661.2L945.8,662.0L946.4,661.1L947.0,662.0L947.6,661.3L948.2,662.0L948.8,661.2L949.4,660.9L950.0,662.2L950.6,661.8L951.2,661.6L951.8,661.3L952.4,660.6L953.0,661.4L953.4,660.3L953.6,659.9L954.2,660.3L954.8,661.1L955.4,661.4L956.0,661.9L956.6,661.1L957.2,660.6L957.8,660.4L958.4,660.8L959.0,662.3L959.6,660.8L960.2,662.1L960.8,662.0L961.4,661.6L962.0,662.6L962.6,662.5L963.2,661.3L963.8,662.2L964.4,660.9L965.0,660.8L965.6,661.0L966.2,661.1L966.8,660.9L967.4,661.6L968.0,661.3L968.6,661.7L969.2,660.3L969.8,662.0L970.4,661.1L971.0,661.7L971.6,661.5L972.2,661.3L972.8,662.1L973.4,661.1L974.0,662.6L974.6,662.3L975.2,661.7L975.8,662.8L976.4,662.6L977.0,662.1L977.6,660.9L978.2,662.5L978.8,661.8L979.4,662.2L980.0,661.3L980.6,661.6L981.2,662.5L981.8,663.5L982.4,663.7L983.0,663.9L983.6,662.7L984.2,663.3L984.8,662.0L985.4,662.7L986.0,661.7L986.6,662.7L987.2,661.7L987.8,660.9L988.4,662.2L989.0,662.5L989.6,663.1L990.0,663.1L990.2,663.7L990.8,662.7L991.4,663.1L992.0,662.1L992.6,662.7L993.2,663.8L993.8,663.4L994.4,663.6L995.0,664.0L995.6,663.9L996.2,663.7L996.8,664.4L997.4,664.6L998.0,664.6L998.6,665.4L999.2,664.8L999.8,665.9L1000.4,664.7L1001.0,664.8L1001.6,664.3L1002.2,664.1L1002.8,664.4L1003.4,664.4L1004.0,664.2L1004.6,664.0L1005.2,664.3L1005.8,664.4L1006.4,664.9L1007.0,665.1L1007.6,665.4L1008.2,665.4L1008.8,665.9L1009.4,665.1L1010.0,665.3L1010.6,664.7L1011.2,665.1L1011.8,665.2L1012.4,664.8L1013.0,665.4L1013.6,666.0L1014.2,665.8L1014.8,666.3L1015.4,666.8L1016.0,667.0L1016.6,666.2L1017.2,666.3L1017.8,667.1L1018.4,666.9L1019.0,666.6L1019.6,667.2L1020.2,668.8L1020.8,668.5L1021.4,667.0L1021.9,666.2L1022.0,667.4L1022.6,666.7L1023.2,666.6L1023.8,667.2L1024.4,667.6L1025.0,669.4L1025.6,668.8L1026.2,669.9L1026.8,669.3L1027.4,669.4L1028.0,669.9L1028.6,670.4L1029.2,670.3L1029.8,670.8L1030.4,670.2L1031.0,670.8L1031.6,670.5L1032.2,672.0L1032.8,671.7L1033.4,671.7L1034.0,670.3L1034.6,671.4L1035.2,672.2L1035.8,671.4L1036.4,673.0L1036.6,672.9L1037.0,672.4L1037.6,672.0L1038.2,672.3L1038.8,672.2L1039.4,671.4L1040.0,672.1L1040.6,670.9L1041.2,671.1L1041.8,671.6L1042.4,671.0L1043.0,670.6L1043.6,670.1L1044.2,669.5L1044.8,669.3L1045.4,668.9L1046.0,669.2L1046.6,668.6L1047.2,669.0L1047.8,668.7L1048.4,667.7L1049.0,667.9L1049.6,667.8L1050.2,667.4L1050.8,666.8L1051.4,667.6L1052.0,666.6L1052.6,667.4L1053.2,666.0L1053.8,666.2L1054.4,665.2L1055.0,665.5L1055.6,666.5L1056.1,666.5L1056.2,665.8L1056.8,665.8L1057.4,665.9L1058.0,665.6L1058.6,664.5L1059.2,665.1L1059.8,665.7L1060.4,665.5L1061.0,664.5L1061.6,665.7L1062.2,665.3L1062.8,664.8L1063.4,664.3L1064.0,665.4L1064.6,664.7L1065.2,666.0L1065.8,664.9L1066.4,664.6L1067.0,664.4L1067.6,664.3L1068.2,663.4L1068.8,664.1L1069.4,663.9L1070.0,664.9L1070.6,663.0L1071.2,663.8L1071.8,662.4L1072.4,663.1L1073.0,663.1L1073.6,663.5L1074.2,664.7L1074.8,664.3L1075.4,664.9L1076.0,665.4L1076.6,664.2L1077.2,664.2L1077.8,664.4L1078.4,663.7L1079.0,663.6L1079.6,663.0L1080.2,663.7L1080.8,663.6L1081.4,662.8L1082.0,663.2L1082.6,663.6L1083.2,664.0L1083.8,663.5L1084.4,663.3L1085.0,663.0L1085.6,664.1L1086.2,664.1L1086.8,663.1L1087.4,664.3L1087.9,663.0L1088.0,664.2L1088.6,662.9L1089.2,663.5L1089.8,663.1L1090.4,662.6L1091.0,664.1L1091.6,664.7L1092.2,664.7L1092.8,663.6L1093.4,663.2L1094.0,663.6L1094.6,664.1L1095.2,663.3L1095.8,663.7L1096.4,663.4L1097.0,662.6L1097.6,663.3L1098.2,663.4L1098.8,662.7L1099.4,663.6L1100.0,663.0L1100.6,663.3L1101.2,662.8L1101.8,661.8L1102.4,661.4L1103.0,661.3L1103.6,660.9L1104.2,660.7L1104.8,660.9L1105.0,661.6L1105.4,661.3L1106.0,662.2L1106.6,662.0L1107.2,660.8L1107.8,661.8L1108.4,661.5L1109.0,662.2L1109.6,660.9L1110.2,661.2L1110.8,660.8L1111.4,660.3L1112.0,660.7L1112.6,661.0L1113.2,661.0L1113.8,660.6L1114.4,661.0L1115.0,659.3L1115.6,659.2L1116.2,658.9L1116.8,659.3L1117.4,657.4L1118.0,658.4L1118.6,657.6L1119.2,658.7L1119.8,658.8L1120.4,658.4L1121.0,659.2L1121.6,659.2L1122.2,658.8L1122.2,659.4L1122.8,657.8L1123.4,658.0L1124.0,658.0L1124.6,658.2L1125.2,658.3L1125.8,658.7L1126.4,659.7L1127.0,658.8L1127.6,659.5L1128.2,660.0L1128.8,659.2L1129.4,659.2L1130.0,660.0L1130.6,660.5L1131.2,660.2L1131.8,661.6L1132.4,662.4L1133.0,662.0L1133.6,662.4L1134.2,661.1L1134.8,661.6L1135.4,662.4L1136.0,662.2L1136.0,661.1L1136.6,661.4L1137.2,661.6L1137.8,662.2L1138.4,662.9L1139.0,663.0L1139.6,662.4L1140.2,663.5L1140.8,663.4L1141.4,662.6L1142.0,663.8L1142.6,663.7L1143.2,663.4L1143.8,663.8L1144.4,661.8L1145.0,663.1L1145.6,663.3L1146.2,664.2L1146.8,664.3L1147.4,663.8L1148.0,664.5L1148.6,664.1L1149.0,665.1L1149.2,665.0L1149.8,663.9L1150.4,664.3L1151.0,663.7L1151.6,663.5L1152.2,663.7L1152.8,665.3L1153.4,664.1L1154.0,665.1L1154.6,665.0L1155.2,664.3L1155.8,664.8L1156.4,665.1L1157.0,664.8L1157.6,664.7L1158.2,664.0L1158.8,664.5L1159.4,664.3L1160.0,665.0L1160.6,664.0L1161.2,663.1L1161.8,663.3L1162.4,663.0L1163.0,663.8L1163.6,664.5L1164.2,664.8L1164.8,663.3L1165.4,664.6L1166.0,663.5L1166.6,663.7L1167.2,664.6L1167.8,664.3L1168.4,663.8L1169.0,664.7L1169.6,664.8L1170.2,663.5L1170.8,664.9L1171.4,664.3L1172.0,664.0L1172.6,663.6L1173.2,663.0L1173.8,662.3L1174.4,663.5L1175.0,662.3L1175.6,664.0L1176.2,662.9L1176.8,663.7L1177.4,663.5L1178.0,664.1L1178.4,663.0L1178.6,662.7L1179.2,663.0L1179.8,663.9L1180.4,664.1L1181.0,662.9L1181.6,663.5L1182.2,662.6L1182.8,663.8L1183.4,662.6L1184.0,662.8L1184.6,663.5L1185.2,663.2L1185.8,662.6L1186.4,663.2L1187.0,662.4L1187.6,661.3L1188.2,661.3L1188.8,661.2L1189.4,660.5L1190.0,659.6L1190.6,659.4L1191.2,659.3L1191.8,659.6L1192.4,659.5L1193.0,659.0L1193.6,658.4L1194.2,658.3L1194.8,659.0L1195.4,657.6L1195.6,658.5L1196.0,658.4L1196.6,660.1L1197.2,659.1L1197.8,659.9L1198.4,660.9L1199.0,660.3L1199.6,661.2L1200.2,662.2L1200.8,662.2L1201.4,661.8L1202.0,662.1L1202.6,663.2L1203.2,663.3L1203.8,662.3L1204.4,663.8L1205.0,664.3L1205.6,664.4L1206.2,664.1L1206.8,663.8L1207.0,663.9L1207.4,664.3L1208.0,663.3L1208.6,664.2L1209.2,663.9L1209.8,663.6L1210.4,663.6L1211.0,662.2L1211.6,664.0L1212.2,663.4L1212.8,663.4L1213.4,662.7L1214.0,663.5L1214.6,663.7L1215.2,662.2L1215.8,662.5L1216.4,663.1L1217.0,661.6L1217.0,662.6L1217.6,662.2L1218.2,661.8L1218.8,660.8L1219.4,659.9L1220.0,659.0L1220.6,658.4L1221.2,659.4L1221.2,657.9L1221.8,658.3L1222.4,659.1L1223.0,659.9L1223.6,661.1L1224.2,661.8L1224.8,663.1L1225.0,662.6L1225.4,663.1L1226.0,663.4L1226.6,663.6L1227.2,663.4L1227.8,663.6L1228.4,663.2L1229.0,663.3L1229.6,663.0L1229.8,663.8L1230.2,663.7L1230.8,664.4L1231.4,664.4L1232.0,664.8L1232.6,664.6L1233.2,664.8L1233.8,665.6L1234.4,664.8L1235.0,664.5L1235.6,664.9L1236.2,665.2L1236.8,664.9L1237.4,665.0L1238.0,666.6L1238.6,666.0L1239.2,665.4L1239.8,665.8L1240.4,665.1L1241.0,665.0L1241.6,665.4L1242.2,665.3L1242.8,667.1L1243.4,666.3L1244.0,666.8L1244.6,666.6L1245.2,665.4L1245.8,665.4L1246.4,666.3L1246.9,665.4L1247.0,666.7L1247.6,665.9L1248.2,666.7L1248.8,666.2L1249.4,666.9L1250.0,667.7L1250.6,667.0L1251.2,666.9L1251.8,667.1L1252.4,666.4L1253.0,667.6L1253.6,666.7L1254.2,667.1L1254.8,667.0L1255.4,667.5L1256.0,667.1L1256.6,667.4L1257.2,667.8L1257.8,667.1L1258.4,667.6L1259.0,668.7L1259.6,668.9L1260.2,670.6L1260.8,669.2L1261.4,669.5L1262.0,669.7L1262.6,670.0L1263.2,668.6L1263.8,670.2L1264.4,670.7L1265.0,670.7L1265.6,670.0L1266.2,669.6L1266.8,669.4L1267.4,670.3L1268.0,669.6L1268.6,670.4L1269.2,670.1L1269.8,670.1L1270.4,670.0L1271.0,670.5L1271.4,669.4L1271.6,669.8L1272.2,670.1L1272.8,668.5L1273.4,668.6L1274.0,669.5L1274.6,670.0L1275.2,670.6L1275.8,670.8L1276.4,670.8L1277.0,670.3L1277.6,670.8L1278.2,670.5L1278.8,670.6L1279.4,671.0L1280.0,669.7L1280.6,670.1L1281.2,671.3L1281.8,671.4L1282.4,672.1L1283.0,671.9L1283.6,672.1L1284.2,672.7L1284.8,672.0L1285.4,673.4L1286.0,672.5L1286.6,671.5L1287.2,671.6L1287.8,671.4L1288.4,672.3L1289.0,673.0L1289.6,671.5L1290.2,671.2L1290.8,670.9L1291.4,670.8L1292.0,671.2L1292.6,671.6L1293.2,673.2L1293.8,673.4L1294.4,672.1L1295.0,672.4L1295.6,671.8L1296.2,671.8L1296.8,671.4L1297.4,672.7L1298.0,671.7L1298.6,672.5L1299.2,672.4L1299.8,672.5L1300.4,672.1L1301.0,671.3L1301.6,672.3L1302.2,671.3L1302.8,671.4L1303.4,671.9L1304.0,672.6L1304.6,673.2L1305.2,673.4L1305.8,672.1L1306.4,672.4L1307.0,672.7L1307.6,671.7L1308.1,671.4L1308.2,672.4L1308.8,673.6L1309.4,673.1L1310.0,672.8L1310.6,673.0L1311.2,673.1L1311.8,672.6L1312.4,673.6L1313.0,673.2L1313.6,673.7L1314.2,673.3L1314.8,673.6L1315.4,674.3L1316.0,674.3L1316.6,673.3L1317.2,672.4L1317.8,671.6L1318.4,672.5L1319.0,672.7L1319.6,673.0L1320.2,673.9L1320.8,673.9L1321.4,674.7L1322.0,673.5L1322.6,673.8L1323.2,674.2L1323.8,674.8L1324.4,674.3L1325.0,673.7L1325.6,674.8L1326.2,673.5L1326.8,675.0L1327.4,676.0L1328.0,676.6L1328.6,675.0L1329.2,674.8L1329.8,675.8L1330.0,675.9L1330.4,675.1L1331.0,674.5L1331.6,676.0L1332.2,676.5L1332.8,675.5L1333.4,675.4L1334.0,676.1L1334.6,676.4L1335.2,676.1L1335.8,676.7L1336.4,677.8L1337.0,677.9L1337.6,677.7L1338.2,678.5L1338.8,679.0L1339.4,678.4L1340.0,678.5L1340.6,679.3L1341.2,679.4L1341.8,678.8L1342.4,678.7L1343.0,678.8L1343.6,679.1L1344.2,679.3L1344.8,679.1L1345.4,679.8L1346.0,680.8L1346.6,680.2L1347.2,680.6L1347.8,682.0L1348.4,682.5L1349.0,682.6L1349.6,681.7L1349.6,682.6L1350.2,682.0L1350.8,682.4L1351.4,681.8L1352.0,682.6L1352.6,682.9L1353.2,683.5L1353.8,684.0L1354.4,683.1L1355.0,684.8L1355.6,685.6L1356.2,685.3L1356.8,685.5L1357.4,684.3L1358.0,684.5L1358.6,683.9L1359.2,684.1L1359.8,684.9L1360.4,684.3L1361.0,685.6L1361.6,684.5L1362.2,685.7L1362.8,686.0L1363.4,685.0L1364.0,685.9L1364.6,685.4L1365.2,686.6L1365.8,687.1L1366.4,686.5L1367.0,687.2L1367.6,686.6L1368.2,685.9L1368.8,686.6L1369.1,686.1L1369.4,686.8L1370.0,687.1L1370.6,686.9L1371.2,686.4L1371.8,686.1L1372.4,686.3L1373.0,685.1L1373.6,686.7L1374.2,685.3L1374.8,685.5L1375.4,685.5L1376.0,686.0L1376.6,687.2L1377.2,687.2L1377.8,687.4L1378.4,686.8L1379.0,686.2L1379.6,686.2L1380.2,687.8L1380.8,688.3L1381.4,687.5L1382.0,687.7L1382.6,687.8L1383.2,686.8L1383.8,687.8L1384.4,687.3L1385.0,686.2L1385.6,686.6L1386.2,686.7L1386.8,687.5L1387.4,686.7L1388.0,687.8L1388.6,686.4L1389.2,686.5L1389.8,688.1L1390.4,687.5L1391.0,687.7L1391.6,688.3L1392.2,687.5L1392.6,688.6L1392.8,687.8L1393.4,688.4L1394.0,688.2L1394.6,687.1L1395.2,687.7L1395.8,688.5L1396.4,689.0L1397.0,689.6L1397.6,688.8L1398.2,688.6L1398.8,690.2L1399.4,690.3L1400.0,690.3L1400.6,689.9L1401.2,690.7L1401.8,690.2L1402.4,691.4L1403.0,692.1L1403.6,691.0L1404.2,691.7L1404.8,692.4L1405.4,692.5L1406.0,693.3L1406.6,694.4L1407.2,694.4L1407.8,694.2L1408.3,695.1L1408.4,695.3L1409.0,695.8L1409.6,695.8L1410.2,696.5L1410.8,697.1L1411.4,697.6L1412.0,698.8L1412.6,699.2L1413.2,700.5L1413.8,701.0L1414.4,702.1L1415.0,703.1L1415.6,704.0L1416.2,705.1L1416.8,705.8L1417.4,706.6L1418.0,707.3L1418.1,707.5L1418.6,707.9L1419.2,708.9L1419.8,710.0L1420.4,711.1L1421.0,712.3L1421.6,713.6L1422.2,714.6L1422.8,715.6L1423.4,716.6L1424.0,717.1L1424.6,717.9L1425.2,717.5L1425.8,718.6L1425.9,718.5L1426.4,719.2L1427.0,718.0L1427.6,719.1L1428.2,717.9L1428.8,717.3L1429.4,718.0L1430.0,717.8L1430.6,718.5L1431.2,717.7L1431.8,717.9L1431.8,719.4L1432.4,718.6L1433.0,718.5L1433.6,718.3L1434.2,718.5L1434.8,717.8L1435.4,718.1L1436.0,717.6L1436.6,716.5L1437.2,715.8L1437.8,716.1L1438.4,715.8L1439.0,715.5L1439.6,714.2L1440.2,714.2L1440.8,713.4L1441.4,713.2L1442.0,713.4L1442.6,712.5L1443.2,711.8L1443.5,710.9L1443.8,710.7L1444.4,710.6L1445.0,709.9L1445.6,708.8L1446.2,708.0L1446.8,707.3L1447.4,706.5L1448.0,705.4L1448.6,704.8L1449.2,703.9L1449.8,703.0L1450.4,702.5L1451.0,702.3L1451.3,701.4L1451.6,701.8L1452.2,701.5L1452.8,701.0L1453.4,699.7L1454.0,699.8L1454.6,699.2L1455.2,698.9L1455.8,698.9L1456.4,697.8L1457.0,698.5L1457.2,697.8L1457.6,699.4L1458.2,699.3L1458.8,699.0L1459.4,699.1L1460.0,698.9L1460.6,699.5L1461.2,699.3L1461.8,697.9L1462.4,699.2L1463.0,699.5L1463.6,698.6L1464.2,699.6L1464.8,699.1L1465.4,697.7L1466.0,697.4L1466.6,698.5L1467.2,697.6L1467.8,697.9L1468.4,698.5L1469.0,698.8L1469.6,698.4L1470.2,698.7L1470.8,698.8L1470.9,698.7L1471.4,700.0L1472.0,699.9L1472.6,700.6L1473.2,701.2L1473.8,701.7L1474.4,702.5L1475.0,702.6L1475.6,703.1L1476.2,703.6L1476.8,704.2L1477.4,705.5L1478.0,706.0L1478.6,706.2L1478.7,706.7L1479.2,706.8L1479.8,707.5L1480.4,708.1L1481.0,708.6L1481.6,709.5L1482.2,710.6L1482.8,711.6L1483.4,712.4L1484.0,713.1L1484.6,714.2L1485.2,715.3L1485.8,716.7L1486.4,717.8L1486.6,718.3L1487.0,719.1L1487.6,720.7L1488.2,722.5L1488.8,724.5L1489.4,726.9L1490.0,729.5L1490.5,732.0L1490.6,732.5L1491.2,736.2L1491.8,740.8L1492.4,746.3L1493.0,752.6L1493.4,757.4L1493.6,760.1L1494.2,770.9L1494.8,783.8L1495.4,796.6L1495.4,796.6L1496.0,808.9L1496.6,821.4L1497.2,833.7L1497.3,835.7L1497.8,846.1L1498.4,858.8L1499.0,870.1L1499.3,874.8L1499.6,879.2L1500.2,888.1L1500.8,896.3L1501.4,902.7L1502.0,906.0L1502.2,904.7L1502.6,905.7L1503.2,904.0L1503.8,900.8L1504.4,896.8L1505.0,892.4L1505.6,888.0L1506.1,884.6L1506.2,883.9L1506.8,879.9L1507.4,875.4L1508.0,870.8L1508.6,866.1L1509.2,861.4L1509.8,856.8L1510.0,855.3L1510.4,852.4L1511.0,848.1L1511.6,844.0L1512.2,839.8L1512.8,835.4L1513.4,830.8L1514.0,825.9L1514.0,825.9L1514.6,820.2L1515.2,813.7L1515.8,807.1L1516.4,800.9L1516.9,796.6L1517.0,795.8L1517.6,791.4L1518.2,787.2L1518.8,783.3L1519.4,779.8L1520.0,776.6L1520.6,773.9L1520.8,773.1L1521.2,771.5L1521.8,769.5L1522.4,767.6L1523.0,765.9L1523.6,764.3L1524.2,762.8L1524.8,761.4L1525.4,760.2L1525.7,759.4L1526.0,758.7L1526.6,757.6L1527.2,756.3L1527.8,755.0L1528.4,754.1L1529.0,753.1L1529.6,752.0L1530.2,751.3L1530.8,750.6L1531.4,750.0L1531.6,749.7L1532.0,749.4L1532.6,749.0L1533.2,747.9L1533.8,747.0L1534.4,748.0L1535.0,747.7L1535.5,747.6L1535.6,748.1L1536.2,747.5L1536.8,747.3L1537.4,748.0L1538.0,748.8L1538.6,749.8L1539.2,751.0L1539.8,751.9L1540.4,753.4L1540.4,753.4L1541.0,760.0L1541.6,772.5L1542.2,785.1L1542.3,786.8L1542.8,794.7L1543.4,803.8L1544.0,812.2L1544.3,816.1L1544.6,820.1L1545.2,828.7L1545.8,835.2L1546.2,835.7L1546.4,836.3L1547.0,835.4L1547.6,833.1L1548.2,829.8L1548.8,825.9L1549.4,821.7L1550.0,817.5L1550.2,816.1L1550.6,813.1L1551.2,807.6L1551.8,801.6L1552.4,795.4L1553.0,789.6L1553.1,788.7L1553.6,783.9L1554.2,778.0L1554.8,773.8L1555.0,773.0L1555.4,772.2L1556.0,771.0L1556.6,770.3L1557.2,769.6L1557.8,768.3L1558.4,768.4L1559.0,767.7L1559.6,767.2L1560.0,766.7L1560.2,766.8L1560.8,766.5L1561.4,765.6L1562.0,765.1L1562.6,764.8L1563.2,763.9L1563.8,763.4L1564.4,762.5L1565.0,762.9L1565.6,762.5L1566.2,762.4L1566.8,761.1L1566.8,761.5L1567.4,760.6L1568.0,760.4L1568.6,759.8L1569.2,759.9L1569.8,759.1L1570.4,759.5L1571.0,758.9L1571.6,759.0L1572.2,759.2L1572.7,760.8L1572.8,760.3L1573.4,759.7L1574.0,759.7L1574.6,760.8L1575.2,760.6L1575.8,761.3L1576.4,761.6L1577.0,762.3L1577.6,762.4L1578.2,762.6L1578.8,762.5L1579.4,763.0L1579.5,763.8L1580.0,764.2L1580.6,763.2L1581.2,763.6L1581.8,764.2L1582.4,764.5L1583.0,762.9L1583.6,764.4L1584.2,763.1L1584.4,763.5L1584.8,763.7L1585.4,764.4L1586.0,763.5L1586.6,763.2L1587.2,762.1L1587.8,761.6L1588.4,760.6L1589.0,759.9L1589.6,759.0L1590.2,757.9L1590.8,757.1L1591.4,756.5L1592.0,755.4L1592.2,755.3L1592.6,755.0L1593.2,755.4L1593.8,754.0L1594.4,754.0L1595.0,753.5L1595.6,753.4L1596.2,752.9L1596.8,753.0L1597.4,752.8L1598.0,752.0L1598.6,752.2L1599.2,751.3L1599.8,751.4L1600.4,751.0L1601.0,751.0L1601.6,750.5L1602.0,750.5L1602.2,749.5L1602.8,749.9L1603.4,750.2L1604.0,749.6L1604.6,749.8L1605.2,748.2L1605.8,748.1L1606.4,747.9L1607.0,747.0L1607.6,746.8L1608.2,748.2L1608.8,747.9L1609.4,747.3L1610.0,746.2L1610.6,746.9L1611.2,746.5L1611.8,746.8L1612.4,746.6L1613.0,746.8L1613.6,746.4L1613.8,745.7L1614.2,745.3L1614.8,744.8L1615.4,745.4L1616.0,744.4L1616.6,744.5L1617.2,744.2L1617.8,744.9L1618.4,744.0L1619.0,744.4L1619.6,744.9L1620.2,744.8L1620.8,743.4L1621.4,742.7L1622.0,742.1L1622.6,743.3L1623.2,742.7L1623.5,742.8L1623.8,743.8L1624.4,743.7L1625.0,742.2L1625.6,741.7L1626.2,742.6L1626.8,741.9L1627.4,742.7L1628.0,741.5L1628.6,742.8L1629.2,743.2L1629.8,743.4L1630.4,743.9L1631.0,743.2L1631.6,742.0L1632.2,742.3L1632.8,742.8L1633.3,742.8L1633.4,743.1L1634.0,742.4L1634.6,741.8L1635.2,741.7L1635.8,743.0L1636.4,742.6L1637.0,742.4L1637.6,743.1L1638.2,743.7L1638.8,744.3L1639.4,744.0L1640.0,745.0L1640.6,745.5L1641.2,746.1L1641.8,744.9L1642.4,745.4L1643.0,745.0L1643.1,745.4L1643.6,744.8L1644.2,745.2L1644.8,745.1L1645.4,744.7L1646.0,744.2L1646.6,744.8L1647.2,743.8L1647.8,745.1L1648.4,744.2L1649.0,744.3L1649.6,744.3L1650.2,745.4L1650.8,745.8L1651.4,746.0L1652.0,745.5L1652.6,746.0L1653.2,746.1L1653.8,744.9L1654.4,745.4L1655.0,745.4L1655.6,745.0L1656.2,746.2L1656.8,745.4L1657.4,746.4L1658.0,747.2L1658.6,746.4L1659.2,745.5L1659.8,745.0L1660.4,744.4L1660.7,745.7L1661.0,745.6L1661.6,745.5L1662.2,744.5L1662.8,744.9L1663.4,743.6L1664.0,743.4L1664.6,742.7L1665.2,742.0L1665.8,741.2L1666.4,740.9L1667.0,740.1L1667.6,739.6L1668.2,739.1L1668.8,738.9L1669.4,737.9L1670.0,738.3L1670.5,738.2L1670.6,737.4L1671.2,737.2L1671.8,737.0L1672.4,738.3L1673.0,738.0L1673.6,737.6L1674.2,736.7L1674.8,736.5L1675.4,736.7L1676.0,736.2L1676.6,736.3L1677.2,737.1L1677.8,737.4L1678.4,736.6L1679.0,735.6L1679.6,736.2L1680.2,736.1L1680.8,736.2L1681.4,736.9L1682.0,736.1L1682.3,734.9L1682.6,735.4L1683.2,735.0L1683.8,735.2L1684.4,736.5L1685.0,735.5L1685.6,735.4L1686.2,735.4L1686.8,736.0L1687.4,735.2L1688.0,734.6L1688.6,735.0L1689.2,734.0L1689.8,733.6L1690.4,734.0L1691.0,733.5L1691.6,733.4L1692.0,733.7L1692.2,735.1L1692.8,734.9L1693.4,735.9L1694.0,735.9L1694.6,735.1L1695.2,734.7L1695.8,733.8L1696.4,735.7L1697.0,734.6L1697.6,735.2L1698.2,735.1L1698.8,735.8L1699.4,735.9L1700.0,735.8L1700.6,736.2L1701.2,736.1L1701.8,736.7L1702.4,737.0L1703.0,736.9L1703.6,737.5L1704.2,738.9L1704.8,737.5L1705.4,738.6L1706.0,738.2L1706.6,738.1L1707.2,738.3L1707.8,737.7L1708.4,737.5L1709.0,737.4L1709.6,738.5L1709.6,738.6L1710.2,738.1L1710.8,737.7L1711.4,737.9L1712.0,738.6L1712.6,738.3L1713.2,737.1L1713.8,736.1L1714.4,736.6L1715.0,735.9L1715.6,736.6L1716.2,736.2L1716.8,736.4L1717.4,736.0L1718.0,737.7L1718.6,736.5L1719.2,737.6L1719.8,737.0L1720.3,736.7L1720.4,737.2L1721.0,737.4L1721.6,737.3L1722.2,738.2L1722.8,739.2L1723.4,740.5L1724.0,741.6L1724.6,743.0L1725.2,744.2L1725.8,745.2L1726.4,746.0L1727.0,746.3L1727.2,745.7L1727.6,745.3L1728.2,745.0L1728.8,744.6L1729.4,745.1L1730.0,744.4L1730.6,744.2L1731.2,744.4L1731.8,743.5L1732.4,743.3L1733.0,742.5L1733.6,741.3L1734.2,741.1L1734.8,740.3L1735.4,740.1L1736.0,739.9L1736.6,739.0L1737.0,739.5L1737.2,738.8L1737.8,738.1L1738.4,738.8L1739.0,738.1L1739.6,738.5L1740.2,737.9L1740.8,737.3L1741.4,737.5L1742.0,737.7L1742.6,737.3L1743.2,736.4L1743.8,735.8L1744.4,736.6L1745.0,736.5L1745.6,736.5L1746.2,736.3L1746.8,736.0L1746.8,736.5L1747.4,735.3L1748.0,735.7L1748.6,735.7L1749.2,735.0L1749.8,734.0L1750.4,733.9L1751.0,733.7L1751.6,732.8L1752.2,732.1L1752.8,732.1L1753.4,733.0L1754.0,732.1L1754.6,733.5L1754.6,732.8L1755.2,732.9L1755.8,733.6L1756.4,735.0L1757.0,736.6L1757.6,738.5L1758.2,740.5L1758.8,742.3L1759.4,744.0L1760.0,745.5L1760.6,746.6L1761.2,747.0L1761.4,747.5L1761.8,747.3L1762.4,746.7L1763.0,746.1L1763.6,745.0L1764.2,743.7L1764.8,742.4L1765.4,741.1L1766.0,739.8L1766.6,738.5L1767.2,737.5L1767.8,736.6L1768.3,736.4L1768.4,736.6L1769.0,736.0L1769.6,735.9L1770.2,734.7L1770.8,734.5L1771.4,734.4L1772.0,734.3L1772.6,734.5L1773.2,733.7L1773.8,734.2L1774.4,733.0L1775.0,733.4L1775.6,732.7L1776.2,732.2L1776.8,731.7L1777.4,731.7L1778.0,731.6L1778.6,731.4L1779.2,731.9L1779.8,731.0L1780.4,731.3L1781.0,731.6L1781.6,731.4L1782.2,731.4L1782.8,731.3L1783.4,731.1L1783.9,730.7L1784.0,730.6L1784.6,729.8L1785.2,730.9L1785.8,730.5L1786.4,731.0L1787.0,730.3L1787.6,731.3L1788.2,732.1L1788.8,731.5L1789.4,731.6L1790.0,730.6L1790.6,730.2L1791.2,731.8L1791.8,732.4L1792.4,732.4L1793.0,732.9L1793.6,732.7L1794.2,733.5L1794.8,733.3L1795.4,733.0L1796.0,733.5L1796.6,733.8L1797.2,735.2L1797.8,735.2L1798.4,735.5L1798.6,735.0L1799.0,735.7L1799.6,736.8L1800.2,738.4L1800.8,740.3L1801.4,742.6L1802.0,744.9L1802.6,747.0L1803.2,749.2L1803.5,750.1L1803.8,750.9L1804.4,752.7L1805.0,754.4L1805.6,756.0L1806.2,757.8L1806.8,759.6L1807.4,761.2L1808.0,762.7L1808.6,764.0L1809.2,765.2L1809.4,765.7L1809.8,766.3L1810.4,767.7L1811.0,768.9L1811.6,770.1L1812.2,771.3L1812.8,772.3L1813.4,773.1L1814.0,774.2L1814.6,774.7L1815.2,775.1L1815.2,774.1L1815.8,774.2L1816.4,774.6L1817.0,773.9L1817.6,773.2L1818.2,773.5L1818.8,773.0L1819.4,773.4L1820.0,773.4L1820.6,772.0L1821.1,772.8L1821.2,771.9L1821.8,771.7L1822.4,770.8L1823.0,769.4L1823.6,768.0L1824.2,766.2L1824.8,764.8L1825.4,763.5L1826.0,762.9L1826.6,762.6L1827.0,761.6L1827.2,763.0L1827.8,762.0L1828.4,762.3L1829.0,762.8L1829.6,761.5L1830.2,762.9L1830.8,761.3L1831.4,762.8L1832.0,761.2L1832.6,761.6L1832.9,761.4L1833.2,761.5L1833.8,763.0L1834.4,764.8L1835.0,767.2L1835.6,770.0L1836.2,772.9L1836.8,775.8L1837.4,778.3L1837.7,779.4L1838.0,780.4L1838.6,782.7L1839.2,785.1L1839.8,787.6L1840.4,789.9L1841.0,791.8L1841.6,793.4L1842.2,794.4L1842.6,794.9L1842.8,795.0L1843.4,795.5L1844.0,795.8L1844.6,796.6L1845.2,796.4L1845.8,797.3L1846.4,796.3L1847.0,797.5L1847.6,797.7L1848.2,798.9L1848.5,797.6L1848.8,797.2L1849.4,796.0L1850.0,794.3L1850.6,792.2L1851.2,789.7L1851.8,787.2L1852.4,784.7L1853.0,782.5L1853.4,781.4L1853.6,780.9L1854.2,779.1L1854.8,777.2L1855.4,775.5L1856.0,774.1L1856.6,772.8L1857.2,773.1L1857.3,772.6L1857.8,772.0L1858.4,772.7L1859.0,772.5L1859.6,772.8L1860.2,773.9L1860.8,774.1L1861.4,774.2L1862.0,774.6L1862.6,775.1L1863.2,775.1L1863.2,775.6L1863.8,776.0L1864.4,777.1L1865.0,778.5L1865.6,780.0L1866.2,781.6L1866.8,783.4L1867.4,785.1L1868.0,786.9L1868.1,787.2L1868.6,788.8L1869.2,791.1L1869.8,793.5L1870.4,796.2L1871.0,798.7L1871.6,801.1L1872.2,803.0L1872.8,804.5L1873.0,804.9L1873.4,805.7L1874.0,806.4L1874.6,807.1L1875.2,808.3L1875.8,808.3L1876.4,809.2L1877.0,809.0L1877.6,809.7L1877.9,810.4L1878.2,810.2L1878.8,808.9L1879.4,807.6L1880.0,806.0L1880.6,804.1L1881.2,802.1L1881.8,800.2L1882.4,798.5L1883.0,797.4L1883.6,796.6L1883.7,796.3L1884.2,797.2L1884.8,798.5L1885.4,800.4L1886.0,802.6L1886.6,804.9L1887.2,807.1L1887.7,808.7L1887.8,808.9L1888.4,810.7L1889.0,812.6L1889.6,814.6L1890.2,816.4L1890.8,818.1L1891.4,819.4L1892.0,819.8L1892.5,820.0L1892.6,820.0L1893.2,817.9L1893.8,812.4L1894.4,805.4L1895.0,798.1L1895.1,797.0L1895.6,789.7L1896.2,779.0L1896.8,770.9L1897.0,769.6L1897.4,768.0L1898.0,765.8L1898.6,764.1L1899.2,762.7L1899.8,761.9L1900.4,762.9L1900.4,761.7L1901.0,762.4L1901.6,762.9L1902.2,762.2L1902.8,763.2L1903.4,762.9L1904.0,764.2L1904.6,764.4L1905.2,764.1L1905.3,763.8L1905.8,760.9L1906.4,753.4L1907.0,747.0L1907.2,745.8L1907.6,745.3L1908.2,744.2L1908.8,743.1L1909.4,742.8L1910.0,741.9L1910.6,742.0L1911.2,740.4L1911.8,739.5L1912.4,738.5L1913.0,738.1L1913.6,737.2L1914.2,737.8L1914.8,737.4L1915.0,736.8L1915.4,738.0L1916.0,738.0L1916.6,738.5L1917.2,736.6L1917.8,736.4L1918.4,737.0L1919.0,737.0L1919.6,737.6L1920.2,735.2L1920.8,735.5L1921.4,734.8L1922.0,732.9L1922.6,734.9L1923.2,734.6L1923.8,732.3L1924.4,731.8L1925.0,730.9L1925.6,732.0L1926.2,731.6L1926.8,733.4L1926.8,731.0L1927.4,732.3L1928.0,734.3L1928.6,733.9L1929.2,734.0L1929.8,732.3L1930.4,734.2L1931.0,733.8L1931.6,733.0L1932.2,734.4L1932.8,733.5L1933.4,733.9L1934.0,736.2L1934.6,735.0L1934.6,736.5L1935.2,737.5L1935.8,736.2L1936.4,733.8L1937.0,734.6L1937.6,735.9L1938.2,735.7L1938.8,736.8L1939.4,736.2L1940.0,734.8L1940.6,736.5L1941.2,735.2L1941.5,736.4L1941.8,737.9L1942.4,747.2L1943.0,757.1L1943.4,756.5L1943.6,759.4L1944.2,756.1L1944.8,749.9L1945.4,742.7L1946.0,736.0L1946.0,736.0L1946.6,729.2L1947.2,721.9L1947.8,716.2L1948.0,715.0L1948.4,713.0L1949.0,710.6L1949.6,709.2L1949.9,707.7L1950.2,712.8L1950.8,733.3L1951.0,740.0L1951.4,755.0L1952.0,775.5L1952.2,775.7L1952.6,774.8L1953.2,764.6L1953.8,753.0L1954.0,750.0L1954.4,744.4L1955.0,735.5L1955.6,728.7L1956.1,727.1L1956.2,726.7L1956.8,728.7L1957.4,732.8L1958.0,737.4L1958.6,741.1L1959.1,741.2L1959.2,743.4L1959.8,744.6L1960.4,742.1L1961.0,741.9L1961.6,740.6L1962.2,740.8L1962.8,740.0L1963.4,742.2L1964.0,743.7L1964.6,742.7L1965.2,745.3L1965.8,743.8L1966.4,742.5L1967.0,741.3L1967.6,744.2L1967.9,742.5L1968.2,741.8L1968.8,741.5L1969.4,741.1L1970.0,740.3L1970.6,739.0L1971.2,738.1L1971.8,737.4L1972.4,736.2L1973.0,735.1L1973.6,733.0L1973.8,733.7L1974.2,734.9L1974.8,734.5L1975.4,736.7L1976.0,737.3L1976.6,737.6L1977.2,738.5L1977.8,739.6L1978.4,740.4L1979.0,740.8L1979.6,741.9L1980.2,742.3L1980.8,743.4L1981.4,744.9L1981.6,744.8L1982.0,745.2L1982.6,745.0L1983.2,745.5L1983.8,747.1L1984.4,747.5L1985.0,748.2L1985.6,749.4L1986.2,749.3L1986.8,748.8L1987.4,748.4L1988.0,748.7L1988.4,749.2L1988.6,749.0L1989.2,748.4L1989.8,749.5L1990.4,748.7L1991.0,749.4L1991.6,747.7L1992.2,746.9L1992.8,747.8L1993.4,747.4L1994.0,745.8L1994.6,745.3L1995.2,745.2L1995.8,744.3L1996.4,743.6L1997.0,743.2L1997.6,742.2L1998.2,741.6L1998.8,742.4L1999.2,740.8L1999.4,742.1L2000.0,740.1L2000.6,740.7L2001.2,738.8L2001.8,740.2L2002.4,740.7L2003.0,741.0L2003.6,742.0L2004.2,739.9L2004.8,739.9L2005.4,738.6L2006.0,739.9L2006.6,741.2L2007.2,738.2L2007.8,739.7L2008.4,740.3L2009.0,740.8L2009.6,739.5L2010.2,741.1L2010.8,738.7L2010.9,740.2L2011.4,738.5L2012.0,736.8L2012.6,736.3L2013.2,735.7L2013.8,737.6L2014.4,736.2L2015.0,737.7L2015.6,736.1L2016.2,734.9L2016.8,734.1L2017.4,736.3L2018.0,733.9L2018.6,733.8L2019.2,733.8L2019.8,735.1L2020.4,734.9L2021.0,735.1L2021.6,733.5L2021.7,734.6L2022.2,733.4L2022.8,734.4L2023.4,734.4L2024.0,736.9L2024.6,736.7L2025.2,735.3L2025.8,737.2L2026.4,736.1L2027.0,737.0L2027.6,737.0L2028.2,735.7L2028.8,736.3L2029.4,738.4L2030.0,738.8L2030.6,737.4L2031.2,739.6L2031.8,739.7L2032.4,740.0L2032.5,739.0L2033.0,741.5L2033.6,741.6L2034.2,739.7L2034.8,739.6L2035.4,738.3L2036.0,740.2L2036.6,739.7L2037.2,737.4L2037.8,739.2L2038.4,738.6L2039.0,739.2L2039.6,740.0L2040.2,739.9L2040.8,738.9L2041.4,740.0L2042.0,741.9L2042.3,741.0L2042.6,740.5L2043.2,741.5L2043.8,742.9L2044.4,744.3L2045.0,746.1L2045.6,747.7L2046.2,748.9L2046.8,750.3L2047.1,748.9L2047.4,748.1L2048.0,748.7L2048.6,750.2L2049.2,748.6L2049.8,747.4L2050.4,747.0L2051.0,746.1L2051.6,745.2L2052.2,744.4L2052.8,743.8L2053.4,742.5L2054.0,740.4L2054.0,740.0L2054.6,740.9L2055.2,741.1L2055.8,741.2L2056.4,740.6L2057.0,739.9L2057.6,741.3L2058.2,738.0L2058.8,739.7L2059.4,738.2L2060.0,740.5L2060.6,742.0L2061.0,738.8" fill="none" stroke="#ee3e3e" stroke-width="10.6" stroke-linejoin="round" stroke-linecap="butt" clip-path="url(#cc)"/>
<path d="M161.0,158.8L161.6,159.8L162.2,156.4L162.8,157.8L163.4,157.1L164.0,156.1L164.6,155.6L165.2,155.4L165.8,155.6L166.4,156.2L167.0,155.7L167.0,157.0L167.6,155.2L168.2,158.8L168.8,155.1L169.4,158.6L170.0,157.7L170.6,158.7L171.2,156.9L171.8,157.4L172.4,160.5L173.0,161.4L173.6,158.5L174.2,159.1L174.5,159.3L174.8,158.7L175.4,153.7L176.0,154.4L176.6,155.8L177.2,159.0L177.8,156.9L178.4,158.5L179.0,160.5L179.6,159.9L180.2,161.0L180.8,160.5L181.4,162.0L182.0,162.9L182.6,161.2L183.2,163.8L183.8,165.1L184.4,164.5L185.0,162.6L185.6,164.5L186.2,161.2L186.7,162.5L186.8,164.6L187.4,161.5L188.0,161.8L188.6,161.4L189.2,161.2L189.8,164.6L190.4,162.6L191.0,162.4L191.6,162.3L192.2,159.0L192.8,161.4L193.4,159.7L194.0,162.2L194.6,163.0L195.2,160.3L195.8,162.0L196.4,163.9L197.0,163.1L197.6,161.6L198.2,163.1L198.8,162.8L199.0,161.8L199.4,163.9L200.0,163.4L200.6,165.8L201.2,163.3L201.8,163.5L202.4,166.3L203.0,165.2L203.6,165.1L204.2,169.0L204.8,166.2L205.4,167.3L206.0,166.4L206.3,167.4L206.6,166.2L207.2,166.0L207.8,164.7L208.4,163.5L209.0,163.0L209.6,161.4L210.2,161.6L210.8,160.6L211.0,160.5L211.4,158.8L212.0,162.1L212.6,161.8L213.2,162.9L213.8,163.6L214.4,164.3L215.0,166.0L215.6,166.0L216.0,163.8L216.2,166.3L216.8,165.7L217.4,167.1L218.0,169.1L218.6,166.3L219.2,168.3L219.8,166.8L220.4,164.7L221.0,169.5L221.6,168.6L222.2,169.8L222.8,165.6L223.4,165.2L223.4,169.0L224.0,167.6L224.6,164.4L225.2,167.7L225.8,167.9L226.4,168.8L227.0,167.2L227.6,163.8L228.2,162.8L228.8,163.1L229.4,163.4L230.0,164.8L230.6,168.3L231.2,167.3L231.8,167.9L232.4,169.9L233.0,167.1L233.6,167.4L234.0,168.2L234.2,169.5L234.8,166.6L235.4,165.0L236.0,166.0L236.4,164.7L236.6,164.1L237.2,156.2L237.8,148.7L238.0,148.8L238.4,150.7L239.0,160.1L239.6,165.2L239.6,165.3L240.2,165.3L240.8,164.8L241.4,164.2L242.0,166.0L242.6,166.5L243.2,165.2L243.8,166.1L244.0,170.3L244.4,168.9L245.0,167.7L245.6,167.3L246.2,168.9L246.8,165.6L247.4,168.3L247.8,170.6L248.0,170.4L248.6,168.3L249.2,168.9L249.8,168.9L250.4,169.8L251.0,168.8L251.6,169.5L252.2,170.4L252.8,171.9L253.4,172.6L254.0,173.0L254.6,172.8L255.2,175.3L255.8,174.3L256.4,173.8L257.0,174.3L257.6,175.4L258.2,175.5L258.8,173.8L259.4,171.5L260.0,171.6L260.0,172.8L260.6,170.3L261.2,173.4L261.8,171.4L262.4,172.2L263.0,173.6L263.6,171.5L264.2,172.6L264.8,172.2L265.4,173.5L266.0,170.9L266.6,169.5L267.2,171.7L267.8,172.1L268.0,172.8L268.4,173.1L269.0,168.9L269.6,169.3L270.2,170.5L270.8,171.8L271.4,172.3L272.0,170.9L272.6,173.4L273.2,173.4L273.8,173.5L274.4,173.8L275.0,173.4L275.6,172.3L276.2,173.6L276.8,173.3L277.2,170.6L277.4,173.2L278.0,170.0L278.6,170.3L279.2,170.9L279.8,173.5L280.4,172.0L281.0,176.8L281.6,176.1L282.2,172.2L282.8,172.9L283.4,173.6L284.0,172.6L284.6,175.3L285.2,172.5L285.8,174.7L286.4,173.2L287.0,175.1L287.6,175.4L288.0,176.0L288.2,174.0L288.8,173.8L289.4,173.1L290.0,171.2L290.6,170.0L290.6,170.1L291.2,162.5L291.8,150.1L292.4,143.4L292.4,145.2L293.0,147.5L293.6,155.3L294.2,160.3L294.2,160.0L294.8,161.7L295.4,162.2L296.0,161.2L296.6,162.8L297.0,164.1L297.2,165.3L297.8,161.9L298.4,165.7L299.0,162.4L299.6,164.8L300.2,163.8L300.8,165.4L301.4,164.8L301.7,165.2L302.0,164.0L302.6,165.1L303.2,166.3L303.8,167.8L304.0,168.2L304.4,169.3L305.0,171.6L305.6,173.9L306.2,176.0L306.5,176.9L306.8,176.6L307.4,176.0L308.0,174.9L308.6,175.3L309.0,177.3L309.2,176.8L309.8,180.1L310.4,178.4L311.0,175.8L311.6,176.6L312.2,176.1L312.8,178.0L313.4,178.4L314.0,178.7L314.6,177.8L315.2,176.1L315.8,175.9L316.4,178.7L317.0,177.2L317.6,178.5L318.2,177.5L318.8,177.9L319.4,176.6L320.0,177.6L320.0,176.6L320.6,176.8L321.2,177.0L321.8,176.2L322.4,177.9L323.0,176.7L323.6,181.2L324.2,177.5L324.8,180.6L325.4,180.6L326.0,179.2L326.6,178.1L327.2,175.2L327.8,175.7L328.4,174.1L329.0,173.6L329.6,175.4L330.2,174.2L330.8,177.0L331.4,177.0L332.0,174.0L332.6,173.6L333.0,174.1L333.2,175.6L333.8,176.5L334.4,173.4L335.0,173.0L335.6,176.6L336.2,175.9L336.8,178.2L337.4,177.5L338.0,177.9L338.6,180.8L339.2,180.1L339.8,177.9L340.4,179.5L341.0,177.9L341.6,177.2L342.2,174.2L342.8,177.3L343.4,175.2L344.0,177.2L344.6,179.3L345.2,176.7L345.7,178.6L345.8,181.3L346.4,181.6L347.0,180.7L347.6,181.2L348.2,180.3L348.8,178.6L349.4,179.5L350.0,177.1L350.6,180.2L351.2,180.6L351.8,180.5L352.4,181.5L353.0,178.5L353.6,181.8L354.2,181.8L354.8,180.0L355.4,180.1L356.0,181.8L356.6,180.7L357.2,182.8L357.8,182.3L358.4,185.2L359.0,187.5L359.6,183.1L360.2,181.0L360.4,184.1L360.8,181.7L361.4,183.9L362.0,182.5L362.6,184.2L363.2,182.0L363.8,181.8L364.4,180.2L365.0,181.9L365.6,180.9L366.2,181.5L366.8,183.8L367.4,180.0L368.0,180.8L368.6,182.4L369.2,180.7L369.8,180.8L370.4,178.5L371.0,180.0L371.6,181.9L372.2,185.1L372.8,182.2L373.4,182.5L374.0,182.6L374.6,184.5L375.0,182.5L375.2,180.3L375.8,181.5L376.4,180.8L377.0,185.0L377.6,184.0L378.2,182.9L378.8,185.4L379.4,186.4L380.0,184.3L380.6,186.1L381.2,185.1L381.8,185.7L382.4,188.1L383.0,187.3L383.6,182.6L384.2,184.3L384.8,182.6L385.4,184.7L386.0,181.4L386.6,181.5L387.2,180.5L387.8,181.9L388.4,181.3L389.0,184.6L389.6,186.3L390.2,185.7L390.8,185.9L391.4,183.9L392.0,186.6L392.6,185.0L393.2,187.1L393.8,186.2L394.4,184.0L394.6,183.7L395.0,183.9L395.6,185.1L396.2,187.8L396.8,185.9L397.4,184.6L398.0,187.1L398.6,185.6L399.2,187.7L399.8,186.7L400.4,187.1L401.0,187.7L401.6,188.1L402.2,189.9L402.8,188.3L403.4,190.9L404.0,187.0L404.6,190.6L405.2,187.9L405.8,190.8L406.4,188.5L407.0,190.5L407.6,187.0L408.2,190.4L408.8,190.3L409.4,190.1L410.0,190.9L410.6,186.7L411.2,186.2L411.8,185.9L412.4,188.2L413.0,189.8L413.6,190.7L414.2,190.2L414.8,191.1L415.4,191.8L416.0,188.2L416.6,186.3L417.2,186.2L417.8,186.8L418.4,190.9L419.0,187.6L419.6,187.9L420.0,190.2L420.2,187.8L420.8,191.7L421.4,189.2L422.0,191.0L422.6,189.4L423.2,191.6L423.8,189.1L424.4,190.5L425.0,192.0L425.6,194.3L426.2,189.8L426.8,192.6L427.4,193.8L428.0,190.6L428.6,193.6L429.2,192.0L429.8,193.4L430.4,191.5L431.0,192.1L431.6,192.1L432.2,192.7L432.8,192.2L433.4,191.8L434.0,193.1L434.6,193.0L435.2,193.7L435.8,194.5L436.4,193.2L437.0,192.5L437.6,192.9L438.2,194.5L438.8,195.0L439.4,194.5L440.0,194.2L440.6,192.4L441.2,192.6L441.8,193.4L442.4,194.1L443.0,194.2L443.5,195.4L443.6,195.1L444.2,196.2L444.8,194.9L445.4,195.9L446.0,194.8L446.6,195.1L447.2,194.2L447.8,193.3L448.4,193.3L449.0,193.9L449.6,194.0L450.2,194.7L450.8,194.6L451.4,194.8L452.0,195.1L452.6,194.4L453.2,194.6L453.8,196.0L454.4,196.3L455.0,196.0L455.6,195.3L456.2,195.6L456.8,195.6L457.4,196.4L458.0,196.1L458.6,197.2L459.2,195.4L459.8,197.2L460.4,197.1L461.0,197.5L461.6,196.5L462.2,195.9L462.8,195.1L463.4,194.3L464.0,195.2L464.6,195.7L465.2,196.4L465.8,196.1L466.4,196.4L467.0,196.0L467.6,196.0L468.0,197.5L468.2,196.6L468.8,197.8L469.4,196.2L470.0,196.2L470.6,196.2L471.2,196.4L471.8,195.9L472.4,195.3L473.0,195.7L473.6,196.2L474.2,196.5L474.8,197.0L475.4,196.3L476.0,196.7L476.6,197.8L477.2,198.1L477.8,196.3L478.4,197.7L479.0,198.0L479.6,197.9L480.2,199.2L480.8,199.1L481.4,198.3L482.0,199.1L482.6,199.8L483.2,199.7L483.8,199.2L484.4,199.2L485.0,198.9L485.6,198.0L486.2,198.2L486.8,198.3L487.4,197.8L488.0,198.8L488.6,197.7L489.2,199.1L489.8,198.4L490.4,199.9L491.0,199.9L491.6,201.2L492.2,199.8L492.5,199.3L492.8,200.1L493.4,198.8L494.0,199.6L494.6,199.6L495.2,198.6L495.8,198.5L496.4,198.4L497.0,198.2L497.6,198.6L498.2,197.8L498.8,197.8L499.4,198.9L500.0,199.0L500.6,197.8L501.2,198.4L501.8,198.6L502.4,200.2L503.0,199.9L503.6,199.8L504.2,200.0L504.8,201.7L505.4,201.4L506.0,202.3L506.6,201.8L507.2,201.0L507.8,199.8L508.4,201.0L509.0,199.6L509.6,200.2L510.2,201.2L510.8,200.7L511.4,199.5L512.0,200.0L512.6,199.7L513.2,201.3L513.8,202.1L514.4,201.2L515.0,202.0L515.6,202.2L516.2,201.6L516.8,201.0L517.0,200.3L517.4,201.4L518.0,202.4L518.6,202.1L519.2,203.0L519.8,201.7L520.4,203.4L521.0,202.2L521.6,202.7L522.2,202.6L522.8,201.7L523.4,202.8L524.0,201.3L524.6,201.4L525.2,201.1L525.8,200.5L526.4,201.5L527.0,202.1L527.6,203.5L528.2,203.0L528.8,203.3L529.4,202.5L530.0,203.3L530.6,201.4L531.2,203.3L531.8,202.1L532.4,203.3L533.0,202.6L533.6,204.3L534.2,203.4L534.8,203.8L535.4,203.9L536.0,202.5L536.6,203.3L537.2,202.6L537.8,203.9L538.4,204.5L539.0,204.0L539.6,205.3L540.2,203.1L540.8,204.3L541.4,203.4L541.4,203.1L542.0,203.6L542.6,203.3L543.2,204.0L543.8,202.9L544.4,202.7L545.0,205.2L545.6,205.8L546.2,205.9L546.8,205.2L547.4,205.3L548.0,205.2L548.6,204.0L549.2,204.5L549.8,204.7L550.4,205.0L551.0,205.2L551.6,206.0L552.2,204.8L552.8,206.5L553.4,206.8L554.0,205.6L554.6,205.4L555.2,205.2L555.8,205.0L556.4,205.9L557.0,205.3L557.6,204.9L558.2,204.9L558.8,205.6L559.4,206.7L560.0,206.4L560.6,206.7L561.2,206.8L561.8,207.3L562.4,206.3L563.0,205.9L563.6,206.6L564.2,205.9L564.8,206.5L565.4,206.4L566.0,207.3L566.0,207.8L566.6,207.1L567.2,207.9L567.8,207.4L568.4,207.6L569.0,205.9L569.6,205.9L570.2,206.6L570.8,206.0L571.4,206.3L572.0,206.0L572.6,206.2L573.2,207.2L573.8,206.2L574.4,207.7L575.0,208.8L575.6,207.5L576.2,206.4L576.8,207.4L577.4,206.2L578.0,207.0L578.6,206.7L579.2,207.5L579.8,206.9L580.4,207.5L581.0,206.2L581.6,208.5L582.2,206.6L582.8,206.9L583.4,208.0L584.0,206.7L584.6,208.9L585.2,209.5L585.8,208.8L586.4,208.7L587.0,209.8L587.6,209.1L588.2,208.4L588.8,210.1L589.4,210.3L590.0,209.9L590.3,210.6L590.6,209.6L591.2,209.8L591.8,208.9L592.4,209.0L593.0,208.4L593.6,210.0L594.2,208.4L594.8,207.8L595.4,207.8L596.0,208.2L596.6,210.2L597.2,210.2L597.8,210.5L598.4,209.8L599.0,210.4L599.6,210.5L600.0,210.8L600.2,210.2L600.8,210.6L601.4,209.6L602.0,209.7L602.6,209.5L603.2,210.1L603.8,209.9L604.4,209.9L605.0,210.8L605.6,209.3L606.2,211.1L606.8,210.9L607.4,210.7L608.0,211.5L608.6,211.0L609.2,210.3L609.8,211.5L610.4,211.0L611.0,211.1L611.6,211.2L612.2,212.0L612.8,211.2L613.4,212.3L614.0,211.4L614.6,211.9L615.0,211.9L615.2,212.6L615.8,212.7L616.4,211.5L617.0,212.3L617.6,213.1L618.2,212.6L618.8,213.9L619.4,212.9L620.0,213.6L620.6,213.8L621.2,213.0L621.8,212.5L622.4,213.3L623.0,214.0L623.6,212.5L624.2,213.0L624.8,212.6L625.4,213.7L626.0,213.8L626.6,214.5L627.2,214.0L627.8,213.8L628.4,213.4L629.0,214.7L629.6,214.3L630.0,215.1L630.2,215.2L630.8,215.7L631.4,215.0L632.0,215.7L632.6,215.4L633.2,215.2L633.8,215.3L634.4,214.5L635.0,215.1L635.6,216.5L636.2,217.7L636.8,216.8L637.4,217.7L638.0,217.7L638.6,217.5L639.2,216.6L639.8,216.7L640.4,216.6L641.0,217.6L641.6,217.8L642.2,217.4L642.8,218.0L643.4,218.0L644.0,219.4L644.6,219.9L645.0,220.8L645.2,220.4L645.8,220.3L646.4,219.5L647.0,220.5L647.6,221.6L648.2,221.8L648.8,221.2L649.4,220.5L650.0,221.2L650.6,221.3L651.2,221.4L651.8,221.8L652.4,222.5L653.0,223.3L653.6,223.5L654.2,223.6L654.8,224.3L655.4,224.0L656.0,225.6L656.6,225.2L657.2,225.9L657.8,226.6L658.4,226.7L659.0,227.5L659.6,227.2L660.0,227.7L660.2,227.6L660.8,228.6L661.4,229.0L662.0,228.9L662.6,228.8L663.2,229.6L663.8,229.5L664.4,230.5L665.0,230.7L665.6,231.0L666.2,230.8L666.8,231.8L667.4,232.1L668.0,232.5L668.6,233.3L669.2,233.9L669.8,234.7L670.4,235.6L671.0,235.8L671.6,236.7L672.0,237.1L672.2,237.4L672.8,238.3L673.4,239.7L674.0,241.6L674.6,243.4L675.2,245.5L675.8,247.4L676.3,249.0L676.4,249.4L677.0,251.5L677.6,253.8L678.2,256.3L678.8,258.8L679.4,261.3L680.0,263.6L680.6,265.8L681.0,267.1L681.2,267.6L681.8,269.6L682.4,271.5L683.0,273.1L683.6,274.1L684.0,273.5L684.2,274.0L684.8,273.6L685.4,273.4L686.0,272.5L686.6,271.7L687.2,271.3L687.8,270.5L688.3,269.8L688.4,269.5L689.0,270.1L689.6,271.5L690.2,272.9L690.8,274.8L691.4,276.8L692.0,278.9L692.6,280.8L693.0,282.0L693.2,282.6L693.8,284.2L694.4,285.7L695.0,287.3L695.6,289.4L696.0,291.0L696.2,292.0L696.8,295.7L697.4,300.6L698.0,306.4L698.6,312.5L699.2,318.9L699.8,325.1L700.3,330.0L700.4,330.9L701.0,336.5L701.6,342.1L702.2,347.7L702.8,353.3L703.4,359.0L704.0,364.8L704.6,370.7L705.0,374.6L705.2,376.6L705.8,382.8L706.4,389.1L707.0,395.5L707.6,402.0L708.2,408.3L708.8,414.5L709.3,419.5L709.4,420.5L710.0,426.8L710.6,433.6L711.2,440.2L711.8,446.2L712.4,451.2L713.0,454.6L713.2,455.3L713.6,456.4L714.2,457.5L714.8,458.6L715.4,459.0L716.0,459.7L716.6,460.9L717.2,461.6L717.8,462.9L718.3,464.4L718.4,464.8L719.0,469.5L719.6,477.1L720.2,486.3L720.7,494.4L720.8,496.0L721.4,507.7L722.0,521.3L722.6,535.0L722.8,539.3L723.2,547.7L723.8,560.1L724.4,572.5L725.0,584.8L725.6,597.0L725.7,599.0L726.2,609.4L726.8,622.2L727.4,634.9L728.0,646.8L728.6,657.4L728.7,659.0L729.2,667.4L729.8,677.8L730.4,687.4L731.0,694.6L731.6,697.8L731.7,697.2L732.2,696.5L732.8,691.4L733.4,683.3L734.0,672.9L734.6,661.1L734.7,659.0L735.2,641.4L735.8,612.8L736.2,599.0L736.4,594.5L737.0,582.8L737.6,573.1L738.2,565.0L738.8,558.1L739.2,554.0L739.4,552.1L740.0,546.8L740.6,542.1L741.2,538.0L741.8,534.1L742.4,530.1L743.0,526.0L743.0,526.0L743.6,521.9L744.2,518.0L744.8,514.0L745.4,509.7L746.0,505.0L746.0,505.0L746.6,499.3L747.2,492.8L747.8,485.7L748.4,478.6L749.0,471.6L749.6,465.4L749.7,464.4L750.2,459.2L750.8,452.5L751.4,447.2L752.0,443.8L752.0,445.2L752.6,445.3L753.2,446.0L753.8,447.3L754.4,448.8L755.0,450.8L755.6,453.0L756.2,455.4L756.8,458.0L757.4,460.9L758.0,463.9L758.6,466.9L758.7,467.4L759.2,470.2L759.8,474.2L760.4,478.9L761.0,484.2L761.6,490.2L762.2,496.8L762.8,503.9L763.2,509.0L763.4,511.8L764.0,522.9L764.6,536.2L765.2,549.9L765.8,562.4L766.2,569.0L766.4,572.0L767.0,581.3L767.6,589.2L768.2,593.1L768.3,594.2L768.8,591.8L769.4,586.9L770.0,579.5L770.6,570.6L770.7,569.0L771.2,557.5L771.8,537.1L772.4,515.5L772.6,509.0L773.0,497.0L773.6,479.5L774.2,461.8L774.6,449.5L774.8,442.9L775.4,420.8L776.0,399.9L776.4,389.6L776.6,385.7L777.2,375.5L777.8,367.2L778.4,359.8L779.0,352.7L779.4,347.7L779.6,345.0L780.2,336.4L780.8,327.8L781.4,320.4L782.0,315.3L782.1,314.7L782.6,312.4L783.2,309.9L783.8,308.0L784.4,306.4L785.0,304.7L785.6,303.4L786.2,301.9L786.8,300.6L787.1,299.8L787.4,298.9L788.0,297.5L788.6,295.9L789.2,294.5L789.8,293.1L790.4,291.5L791.0,289.8L791.6,287.8L791.6,287.8L792.2,285.3L792.8,282.2L793.4,278.8L794.0,275.2L794.6,271.6L795.2,268.1L795.8,265.1L796.1,263.7L796.4,262.6L797.0,260.1L797.6,257.8L798.2,255.6L798.8,253.4L799.4,251.4L800.0,249.6L800.6,247.8L801.2,246.3L801.8,245.1L802.1,244.6L802.4,244.1L803.0,242.8L803.6,241.8L804.2,240.9L804.8,240.0L805.4,239.5L806.0,238.7L806.6,238.1L807.2,237.3L807.8,236.4L808.4,235.9L809.0,235.8L809.6,235.3L809.6,236.2L810.2,235.8L810.8,235.9L811.4,235.5L812.0,234.6L812.6,234.6L813.2,234.7L813.8,234.0L814.4,233.3L815.0,234.3L815.6,234.1L816.2,233.3L816.8,234.1L817.4,233.4L818.0,234.2L818.6,233.5L818.6,233.3L819.2,232.4L819.8,232.8L820.4,233.7L821.0,232.8L821.6,234.0L822.2,234.1L822.8,233.2L823.4,234.0L824.0,234.8L824.6,233.8L825.2,235.4L825.8,234.4L826.4,235.6L827.0,235.5L827.6,235.1L828.2,235.0L828.8,235.4L829.4,235.4L830.0,235.1L830.6,235.0L831.2,235.8L831.8,235.4L832.4,234.8L833.0,235.2L833.5,235.0L833.6,236.2L834.2,234.9L834.8,235.8L835.4,235.1L836.0,234.9L836.6,235.1L837.2,235.3L837.8,234.3L838.4,234.7L839.0,234.5L839.6,235.8L840.2,235.8L840.8,233.9L841.4,233.8L842.0,233.6L842.6,233.8L843.2,234.1L843.8,233.9L844.4,234.2L845.0,234.4L845.6,235.5L846.2,233.7L846.8,234.8L847.4,233.6L848.0,234.3L848.6,233.5L849.2,234.8L849.8,233.6L850.0,233.7L850.4,235.0L851.0,234.2L851.6,233.4L852.2,232.7L852.8,233.3L853.4,233.3L854.0,233.4L854.6,234.5L855.2,234.4L855.8,234.0L856.4,233.6L857.0,234.1L857.6,233.1L858.2,232.3L858.8,231.6L859.4,232.8L860.0,231.9L860.6,232.2L861.2,231.9L861.8,233.2L862.4,232.5L863.0,232.3L863.6,233.1L864.2,232.1L864.8,231.7L865.4,232.8L866.0,232.5L866.6,232.3L867.2,231.7L867.8,232.4L868.4,232.5L869.0,232.0L869.5,231.3L869.6,232.7L870.2,231.6L870.8,231.9L871.4,231.1L872.0,231.9L872.6,231.7L873.2,231.5L873.8,231.0L874.4,231.1L875.0,230.9L875.6,231.3L876.2,232.1L876.8,231.8L877.4,232.0L878.0,230.5L878.6,231.3L879.2,230.6L879.8,230.5L880.0,230.5L880.4,230.7L881.0,232.1L881.6,232.3L882.2,232.0L882.8,230.8L883.4,231.3L884.0,230.6L884.6,230.9L885.2,230.4L885.8,230.6L886.4,231.0L887.0,230.0L887.6,230.9L888.2,230.3L888.8,230.4L889.4,230.7L890.0,229.6L890.6,229.5L891.2,230.0L891.8,229.5L892.4,228.9L893.0,229.1L893.6,228.4L894.2,227.6L894.8,228.0L895.4,227.6L896.0,227.3L896.6,228.5L897.2,228.2L897.8,228.0L898.4,228.1L899.0,227.5L899.6,227.5L900.2,228.2L900.8,228.3L901.4,227.3L902.0,227.2L902.6,226.6L903.2,227.9L903.8,226.5L904.4,227.1L904.5,226.1L905.0,226.3L905.6,226.7L906.2,226.0L906.8,226.7L907.4,227.2L908.0,227.2L908.6,227.4L909.2,227.0L909.8,226.4L910.4,227.2L911.0,227.4L911.6,227.6L912.2,226.7L912.8,225.8L913.4,225.9L914.0,226.5L914.6,226.0L915.2,226.7L915.8,225.6L916.4,226.1L917.0,225.0L917.6,226.7L918.2,226.6L918.8,225.3L919.4,225.3L920.0,225.2L920.6,226.2L921.2,225.4L921.8,226.7L922.4,226.9L923.0,226.3L923.6,226.7L924.2,225.1L924.8,225.3L925.4,226.2L926.0,225.5L926.6,224.8L927.2,225.2L927.8,225.6L928.4,226.0L929.0,225.7L929.0,224.2L929.6,223.6L930.2,223.2L930.8,223.2L931.4,224.9L932.0,223.5L932.6,225.4L933.2,225.7L933.8,225.6L934.4,225.2L935.0,225.1L935.6,224.5L936.2,225.0L936.8,223.9L937.4,222.7L938.0,224.0L938.6,224.2L939.2,223.8L939.8,225.3L940.4,225.1L941.0,224.1L941.6,224.7L942.2,223.7L942.8,223.8L943.4,225.1L944.0,225.3L944.6,224.5L945.2,225.3L945.8,225.2L946.4,224.4L947.0,224.1L947.6,224.6L948.2,224.0L948.8,224.1L949.4,224.8L950.0,224.5L950.6,223.8L951.2,223.2L951.8,223.2L952.4,223.7L953.0,223.5L953.4,224.2L953.6,224.5L954.2,223.0L954.8,223.9L955.4,223.7L956.0,223.8L956.6,222.6L957.2,223.1L957.8,223.2L958.4,223.9L959.0,223.5L959.6,224.0L960.2,224.2L960.8,225.3L961.4,224.5L962.0,224.1L962.6,224.5L963.2,224.7L963.8,223.8L964.4,224.8L965.0,224.7L965.6,224.4L966.2,224.4L966.8,223.6L967.4,223.8L968.0,223.5L968.6,224.0L969.2,225.6L969.8,224.6L970.4,225.9L971.0,226.1L971.6,226.3L972.2,225.1L972.8,226.6L973.4,226.2L974.0,225.4L974.6,225.6L975.2,224.9L975.8,225.1L976.4,224.3L977.0,224.3L977.6,224.3L978.0,225.2L978.2,225.1L978.8,226.0L979.4,225.1L980.0,225.5L980.6,224.1L981.2,224.5L981.8,225.6L982.4,226.3L983.0,224.9L983.6,225.1L984.2,224.7L984.8,224.3L985.4,224.6L986.0,225.8L986.6,225.2L987.2,225.7L987.8,226.4L988.4,225.7L989.0,225.6L989.6,226.0L990.2,225.9L990.8,226.8L991.4,226.7L992.0,226.7L992.6,226.0L993.2,225.6L993.8,225.2L994.4,226.6L995.0,226.3L995.6,226.7L996.2,225.4L996.8,226.7L997.4,226.6L998.0,225.3L998.6,225.3L999.2,225.9L999.8,225.4L1000.4,225.6L1001.0,224.8L1001.6,225.9L1002.2,225.5L1002.3,226.5L1002.8,226.2L1003.4,226.3L1004.0,227.4L1004.6,226.0L1005.2,227.0L1005.8,227.2L1006.4,226.9L1007.0,226.2L1007.6,226.8L1008.2,226.7L1008.8,227.1L1009.4,225.8L1010.0,225.7L1010.6,225.7L1011.2,226.9L1011.8,227.8L1012.4,226.2L1013.0,227.3L1013.6,226.1L1014.2,225.5L1014.8,225.3L1015.4,226.6L1016.0,226.6L1016.6,225.7L1017.0,227.0L1017.2,226.9L1017.8,226.4L1018.4,226.4L1019.0,226.2L1019.6,225.3L1020.2,224.6L1020.8,224.2L1021.0,223.8L1021.4,223.7L1022.0,222.7L1022.6,221.6L1023.2,220.9L1023.8,220.0L1024.3,220.0L1024.4,220.1L1025.0,220.3L1025.6,221.4L1026.2,223.0L1026.8,224.4L1027.4,225.8L1027.5,225.8L1028.0,226.8L1028.6,228.3L1029.2,229.6L1029.8,230.4L1030.4,229.8L1030.4,229.2L1031.0,230.9L1031.6,231.3L1032.2,231.8L1032.8,230.9L1033.4,230.6L1034.0,230.3L1034.6,229.8L1035.2,230.2L1035.8,230.3L1036.4,230.6L1037.0,230.6L1037.6,230.2L1038.2,230.4L1038.8,229.5L1039.4,229.7L1040.0,228.4L1040.0,228.2L1040.6,229.3L1041.2,229.0L1041.8,228.4L1042.4,229.2L1043.0,230.1L1043.6,228.8L1044.2,229.0L1044.8,229.5L1045.4,228.3L1046.0,228.9L1046.6,228.5L1047.2,228.5L1047.8,227.7L1048.4,228.1L1049.0,229.5L1049.6,229.1L1050.2,228.3L1050.8,228.5L1051.2,228.7L1051.4,227.7L1052.0,228.4L1052.6,227.9L1053.2,228.6L1053.8,228.8L1054.4,228.6L1055.0,228.9L1055.6,227.8L1056.2,227.5L1056.8,227.8L1057.4,227.6L1058.0,227.9L1058.6,226.7L1059.2,227.5L1059.8,227.7L1060.4,226.1L1061.0,226.8L1061.6,226.6L1062.2,226.2L1062.8,224.4L1063.4,225.7L1064.0,225.0L1064.6,226.0L1065.2,224.4L1065.8,224.3L1066.4,225.8L1067.0,225.3L1067.6,225.1L1068.2,224.6L1068.8,225.2L1069.4,223.8L1070.0,224.1L1070.6,223.9L1071.2,224.2L1071.8,224.2L1072.4,224.6L1073.0,224.7L1073.6,224.8L1074.2,225.1L1074.8,225.3L1075.4,226.5L1075.7,225.1L1076.0,226.5L1076.6,225.5L1077.2,225.7L1077.8,225.6L1078.4,224.4L1079.0,223.6L1079.6,223.6L1080.2,224.2L1080.8,224.5L1081.4,224.0L1082.0,225.1L1082.6,223.8L1083.2,224.1L1083.8,223.6L1084.4,223.0L1085.0,223.4L1085.6,224.6L1086.2,224.3L1086.8,224.6L1087.4,223.6L1088.0,224.0L1088.6,224.4L1089.2,224.6L1089.8,224.2L1090.4,224.8L1091.0,224.7L1091.6,225.9L1092.2,226.2L1092.8,224.4L1093.4,225.5L1094.0,225.1L1094.6,225.9L1095.2,225.5L1095.8,226.3L1096.4,225.9L1097.0,225.7L1097.6,226.4L1098.2,226.0L1098.8,225.2L1099.4,224.5L1100.0,225.8L1100.2,225.5L1100.6,225.6L1101.2,224.7L1101.8,225.9L1102.4,224.8L1103.0,225.4L1103.6,225.5L1104.2,225.3L1104.8,224.5L1105.4,225.0L1106.0,225.4L1106.6,225.0L1107.2,224.2L1107.8,223.7L1108.4,223.2L1109.0,223.1L1109.6,223.2L1110.2,224.4L1110.8,223.2L1111.4,223.6L1112.0,224.7L1112.6,224.6L1113.2,223.7L1113.8,224.1L1114.4,222.2L1115.0,223.6L1115.0,222.5L1115.6,223.1L1116.2,222.7L1116.8,222.3L1117.4,221.4L1118.0,222.4L1118.6,221.4L1119.2,222.8L1119.8,222.7L1120.4,223.8L1121.0,221.9L1121.6,222.5L1122.2,221.7L1122.8,221.5L1123.4,221.2L1124.0,221.5L1124.6,221.1L1125.2,220.8L1125.8,221.6L1126.4,220.6L1127.0,219.5L1127.6,220.6L1128.2,220.8L1128.8,221.9L1129.4,221.5L1129.5,221.2L1130.0,221.9L1130.6,219.8L1131.2,221.6L1131.8,222.0L1132.4,221.6L1133.0,221.7L1133.6,222.6L1134.2,222.3L1134.8,223.4L1135.4,222.8L1136.0,223.1L1136.6,224.1L1137.2,224.2L1137.8,224.0L1138.4,224.6L1139.0,224.1L1139.6,225.4L1140.2,225.2L1140.8,225.5L1141.4,225.5L1142.0,227.1L1142.0,226.3L1142.6,226.9L1143.2,226.7L1143.8,226.7L1144.4,225.6L1145.0,227.3L1145.6,227.8L1146.2,227.7L1146.8,228.6L1147.4,227.8L1148.0,228.4L1148.6,227.9L1149.2,228.0L1149.8,227.7L1150.4,229.2L1151.0,228.6L1151.6,228.7L1152.2,228.5L1152.8,228.5L1153.4,229.0L1154.0,230.1L1154.0,228.6L1154.6,229.7L1155.2,229.7L1155.8,229.6L1156.4,229.5L1157.0,229.2L1157.6,228.5L1158.2,229.4L1158.8,229.3L1159.4,228.9L1160.0,229.4L1160.6,228.4L1161.2,230.0L1161.8,229.5L1162.4,228.7L1163.0,227.7L1163.6,227.7L1164.2,227.8L1164.8,228.6L1165.4,228.6L1166.0,228.1L1166.6,228.4L1167.2,228.9L1167.8,229.0L1168.4,228.5L1169.0,228.6L1169.6,227.9L1170.0,228.8L1170.2,228.6L1170.8,227.9L1171.4,228.2L1172.0,228.2L1172.6,228.3L1173.2,227.3L1173.8,228.0L1174.4,228.7L1175.0,228.5L1175.6,227.1L1176.2,227.4L1176.8,225.5L1177.4,225.6L1178.0,226.6L1178.6,226.2L1179.2,226.2L1179.8,224.4L1180.4,225.0L1181.0,224.9L1181.6,225.1L1182.2,226.1L1182.8,226.5L1183.4,226.4L1184.0,225.9L1184.6,225.9L1185.2,225.4L1185.8,225.4L1185.8,225.6L1186.4,225.2L1187.0,225.9L1187.6,225.4L1188.2,226.5L1188.8,227.2L1189.4,225.2L1190.0,226.1L1190.6,224.7L1191.2,225.2L1191.8,225.1L1192.4,224.6L1193.0,226.1L1193.6,225.9L1194.2,225.4L1194.8,226.6L1195.4,225.6L1196.0,225.7L1196.6,224.2L1197.2,224.5L1197.8,224.3L1198.4,225.3L1199.0,225.6L1199.6,225.1L1200.2,225.2L1200.8,225.4L1201.4,225.4L1202.0,225.0L1202.6,224.4L1203.2,223.9L1203.8,224.4L1204.4,224.3L1205.0,223.8L1205.6,224.9L1206.2,225.0L1206.8,223.1L1207.4,223.9L1208.0,223.7L1208.0,223.2L1208.6,222.2L1209.2,222.5L1209.8,224.4L1210.4,223.4L1211.0,224.0L1211.6,224.1L1212.2,223.0L1212.8,224.2L1213.4,222.6L1214.0,223.2L1214.6,223.2L1215.2,222.4L1215.8,222.7L1216.4,223.0L1217.0,223.7L1217.6,223.7L1218.2,223.6L1218.8,224.1L1219.4,223.9L1220.0,224.3L1220.6,224.8L1221.2,223.8L1221.8,224.5L1222.4,223.7L1223.0,224.5L1223.6,223.5L1224.2,224.3L1224.8,225.2L1225.4,224.6L1226.0,224.8L1226.6,224.2L1227.2,224.6L1227.8,225.0L1228.4,223.1L1229.0,223.7L1229.6,223.6L1229.8,221.9L1230.2,222.2L1230.8,221.9L1231.4,223.3L1232.0,222.7L1232.6,224.8L1233.2,223.9L1233.8,224.7L1234.4,223.5L1235.0,223.9L1235.6,224.6L1236.2,224.3L1236.8,224.1L1237.4,224.2L1238.0,224.4L1238.6,224.4L1239.2,224.3L1239.8,224.5L1240.4,225.0L1241.0,225.4L1241.6,226.5L1242.2,227.3L1242.8,226.8L1243.4,226.7L1244.0,227.5L1244.6,228.0L1245.2,228.1L1245.8,229.2L1246.4,229.8L1246.9,229.6L1247.0,229.3L1247.6,228.7L1248.2,228.9L1248.8,227.8L1249.4,229.5L1250.0,228.3L1250.6,230.0L1251.2,230.2L1251.8,230.2L1252.4,228.9L1253.0,228.5L1253.6,229.1L1254.2,230.4L1254.8,230.2L1255.4,231.2L1256.0,230.3L1256.6,230.8L1257.2,231.3L1257.8,230.6L1258.4,229.4L1259.0,230.3L1259.6,230.1L1260.2,230.4L1260.8,229.6L1261.4,229.0L1262.0,230.0L1262.6,230.4L1263.2,231.1L1263.8,229.8L1264.4,230.7L1265.0,230.6L1265.6,230.3L1266.2,229.6L1266.8,229.8L1267.4,230.0L1268.0,230.2L1268.6,230.1L1269.2,230.7L1269.8,232.0L1270.4,232.3L1271.0,231.9L1271.0,232.0L1271.6,231.1L1272.2,231.6L1272.8,231.0L1273.4,231.0L1274.0,230.7L1274.6,231.7L1275.2,230.9L1275.8,230.8L1276.4,230.5L1277.0,231.2L1277.6,230.6L1278.2,231.1L1278.8,230.8L1279.4,231.3L1280.0,232.8L1280.6,232.1L1281.2,231.5L1281.8,232.1L1282.4,232.7L1283.0,232.4L1283.6,231.4L1284.2,231.4L1284.8,232.7L1285.4,232.3L1286.0,232.6L1286.6,232.7L1287.2,234.4L1287.8,233.5L1288.4,233.6L1289.0,233.8L1289.6,233.7L1290.2,232.8L1290.8,232.2L1291.4,233.1L1292.0,231.4L1292.6,233.1L1293.2,232.6L1293.8,233.3L1294.4,233.1L1295.0,232.7L1295.6,233.0L1295.8,233.5L1296.2,234.3L1296.8,232.9L1297.4,233.5L1298.0,233.2L1298.6,233.8L1299.2,233.8L1299.8,233.3L1300.4,233.0L1301.0,232.7L1301.6,232.5L1302.2,232.2L1302.8,232.9L1303.4,234.1L1304.0,233.5L1304.6,235.0L1305.2,234.3L1305.8,234.2L1306.4,234.7L1307.0,233.8L1307.6,234.0L1308.2,234.4L1308.8,234.3L1309.4,234.0L1310.0,233.6L1310.6,233.8L1311.2,234.7L1311.8,234.7L1312.4,235.2L1313.0,234.5L1313.6,233.4L1314.2,233.5L1314.8,232.7L1315.4,232.1L1316.0,233.6L1316.6,232.8L1317.2,232.9L1317.8,233.5L1318.4,234.1L1319.0,232.7L1319.6,233.0L1320.2,233.6L1320.3,233.5L1320.8,234.2L1321.4,235.0L1322.0,235.0L1322.6,234.4L1323.2,234.0L1323.8,234.5L1324.4,236.0L1325.0,235.0L1325.6,235.0L1326.2,234.9L1326.8,234.4L1327.4,234.9L1328.0,235.2L1328.6,235.6L1329.2,237.1L1329.8,236.0L1330.0,236.1L1330.4,235.6L1331.0,236.4L1331.6,235.8L1332.2,236.5L1332.8,236.7L1333.4,237.4L1334.0,237.9L1334.6,238.4L1335.2,238.6L1335.8,238.5L1336.4,239.5L1337.0,239.3L1337.6,240.1L1338.2,240.5L1338.8,241.1L1339.4,242.1L1339.8,242.4L1340.0,242.3L1340.6,242.8L1341.2,243.1L1341.8,243.9L1342.4,244.1L1343.0,245.1L1343.6,245.6L1344.2,246.4L1344.8,247.2L1345.4,248.2L1346.0,249.3L1346.6,250.6L1347.2,251.7L1347.6,252.7L1347.8,253.3L1348.4,255.6L1349.0,258.6L1349.6,262.1L1350.2,266.0L1350.8,270.0L1351.4,273.8L1351.5,274.4L1352.0,277.7L1352.6,282.1L1353.2,286.6L1353.8,290.6L1354.4,293.6L1354.5,294.0L1355.0,295.8L1355.6,297.9L1356.2,299.9L1356.8,301.5L1357.4,302.9L1358.0,303.4L1358.4,304.0L1358.6,303.1L1359.2,303.3L1359.8,302.7L1360.4,301.6L1361.0,300.3L1361.6,298.9L1362.2,297.3L1362.8,295.5L1363.3,294.0L1363.4,293.8L1364.0,291.4L1364.6,288.3L1365.2,284.9L1365.8,281.3L1366.4,278.0L1367.0,275.1L1367.2,274.4L1367.6,273.0L1368.2,270.9L1368.8,268.9L1369.4,267.1L1370.0,265.4L1370.6,263.8L1371.2,262.4L1371.8,261.2L1372.1,260.6L1372.4,260.1L1373.0,259.0L1373.6,257.9L1374.2,256.7L1374.8,255.9L1375.4,255.1L1376.0,254.2L1376.6,253.8L1377.2,253.3L1377.8,252.8L1378.0,252.5L1378.4,253.1L1379.0,252.4L1379.6,251.9L1380.2,253.1L1380.8,252.4L1381.4,252.6L1382.0,251.4L1382.6,251.1L1383.2,251.9L1383.8,252.8L1384.4,251.8L1385.0,251.8L1385.6,252.1L1386.2,252.7L1386.8,253.4L1387.4,252.7L1388.0,253.5L1388.6,252.8L1388.7,253.3L1389.2,252.3L1389.8,252.8L1390.4,252.1L1391.0,251.8L1391.6,252.8L1392.2,252.5L1392.8,253.4L1393.4,253.4L1394.0,254.0L1394.6,253.5L1395.2,254.4L1395.8,253.7L1396.4,253.8L1397.0,254.4L1397.6,254.3L1398.2,254.0L1398.8,254.2L1399.4,253.7L1400.0,254.5L1400.6,254.3L1401.2,255.4L1401.8,255.4L1402.4,256.2L1402.4,255.4L1403.0,256.5L1403.6,256.4L1404.2,257.0L1404.8,257.6L1405.4,257.6L1406.0,258.4L1406.6,257.8L1407.2,258.5L1407.8,257.3L1408.4,258.5L1409.0,258.0L1409.6,258.8L1410.2,259.4L1410.8,259.5L1411.4,259.8L1412.0,260.0L1412.2,260.5L1412.6,261.0L1413.2,261.6L1413.8,262.6L1414.4,263.5L1415.0,264.7L1415.6,265.9L1416.2,267.2L1416.8,268.2L1417.4,269.6L1418.0,270.8L1418.6,272.0L1419.2,272.9L1419.8,273.9L1420.0,274.2L1420.4,274.7L1421.0,275.8L1421.6,276.9L1422.2,277.8L1422.8,278.9L1423.4,279.9L1424.0,280.8L1424.6,281.7L1425.2,282.6L1425.8,283.4L1426.4,283.4L1427.0,284.0L1427.6,285.1L1427.8,284.4L1428.2,284.0L1428.8,283.9L1429.4,283.5L1430.0,283.4L1430.6,283.1L1431.2,282.8L1431.8,282.2L1432.4,281.2L1433.0,281.0L1433.6,280.0L1434.2,279.3L1434.8,278.5L1435.4,278.1L1435.7,277.8L1436.0,277.8L1436.6,277.6L1437.2,278.1L1437.8,276.9L1438.4,276.8L1439.0,276.4L1439.6,275.9L1440.2,276.1L1440.8,275.5L1441.4,274.6L1442.0,274.3L1442.6,274.1L1443.2,273.3L1443.5,272.8L1443.8,272.8L1444.4,272.5L1445.0,271.7L1445.6,270.6L1446.2,269.4L1446.8,268.7L1447.4,267.7L1448.0,267.2L1448.6,266.8L1449.2,266.8L1449.4,266.5L1449.8,266.6L1450.4,266.1L1451.0,265.9L1451.6,265.9L1452.2,265.9L1452.8,265.4L1453.4,264.2L1454.0,263.4L1454.6,264.7L1455.2,264.3L1455.2,264.3L1455.8,264.4L1456.4,264.6L1457.0,265.9L1457.6,266.7L1458.2,267.9L1458.8,268.5L1459.2,268.9L1459.4,268.5L1460.0,268.5L1460.6,269.1L1461.2,269.4L1461.8,268.5L1462.4,268.4L1463.0,267.9L1463.6,268.8L1464.2,268.4L1464.8,268.0L1465.4,268.9L1466.0,268.7L1466.6,269.1L1467.2,267.7L1467.8,267.5L1468.4,267.8L1469.0,268.3L1469.6,269.3L1470.2,268.5L1470.8,269.4L1471.4,269.2L1472.0,268.7L1472.6,267.8L1473.2,268.5L1473.8,267.1L1474.4,267.1L1474.8,267.4L1475.0,268.1L1475.6,267.8L1476.2,268.9L1476.8,268.7L1477.4,269.9L1478.0,270.2L1478.6,270.7L1479.2,271.3L1479.8,272.3L1480.4,273.3L1481.0,273.9L1481.6,275.0L1482.2,275.7L1482.6,276.6L1482.8,276.7L1483.4,277.5L1484.0,278.5L1484.6,279.2L1485.2,280.4L1485.8,281.4L1486.4,282.7L1487.0,284.1L1487.6,285.6L1488.2,287.2L1488.5,288.0L1488.8,288.9L1489.4,290.9L1490.0,293.4L1490.6,296.1L1491.2,299.4L1491.8,303.2L1492.4,307.6L1492.4,307.6L1493.0,314.1L1493.6,323.2L1494.2,333.5L1494.4,337.0L1494.8,344.4L1495.4,356.9L1496.0,369.9L1496.3,376.1L1496.6,382.1L1497.2,393.9L1497.8,405.6L1498.3,415.3L1498.4,417.3L1499.0,430.3L1499.6,443.1L1500.2,453.2L1500.3,454.4L1500.8,460.1L1501.4,466.5L1502.0,471.8L1502.6,475.5L1503.2,475.3L1503.2,477.0L1503.8,476.0L1504.4,473.7L1505.0,470.3L1505.6,466.1L1506.2,461.4L1506.8,456.7L1507.1,454.4L1507.4,452.0L1508.0,446.1L1508.6,439.5L1509.2,432.9L1509.8,426.8L1510.0,425.0L1510.4,421.7L1511.0,417.4L1511.6,413.4L1512.2,409.6L1512.8,405.5L1513.4,401.0L1514.0,395.7L1514.0,395.7L1514.6,388.6L1515.2,379.7L1515.8,370.3L1516.4,361.9L1516.9,356.6L1517.0,355.8L1517.6,351.0L1518.2,346.6L1518.8,342.7L1519.4,339.3L1520.0,336.3L1520.6,333.8L1520.8,333.0L1521.2,331.7L1521.8,329.8L1522.4,328.3L1523.0,327.0L1523.6,325.6L1524.2,324.3L1524.8,323.1L1525.4,321.8L1525.7,321.2L1526.0,320.6L1526.6,319.0L1527.2,317.6L1527.8,316.1L1528.4,314.7L1529.0,313.9L1529.6,313.4L1529.6,312.7L1530.2,312.9L1530.8,313.8L1531.4,313.3L1532.0,313.5L1532.6,314.3L1533.2,313.1L1533.5,314.6L1533.8,312.9L1534.4,312.8L1535.0,313.0L1535.6,313.8L1536.2,314.0L1536.8,314.8L1537.4,315.4L1538.0,316.5L1538.4,317.3L1538.6,318.0L1539.2,321.5L1539.8,327.2L1540.4,334.2L1541.0,341.8L1541.4,346.8L1541.6,349.4L1542.2,359.1L1542.8,369.2L1543.3,376.1L1543.4,377.2L1544.0,384.4L1544.6,391.4L1545.2,397.2L1545.8,400.8L1546.2,401.0L1546.4,401.6L1547.0,399.8L1547.6,396.7L1548.2,392.5L1548.8,387.5L1549.4,382.4L1550.0,377.6L1550.2,376.1L1550.6,373.0L1551.2,367.8L1551.8,362.4L1552.4,357.3L1553.0,353.2L1553.1,352.6L1553.6,350.0L1554.2,347.2L1554.8,344.7L1555.4,342.6L1556.0,340.9L1556.0,340.9L1556.6,339.6L1557.2,338.4L1557.8,337.3L1558.4,336.3L1559.0,335.6L1559.6,334.8L1560.2,333.8L1560.8,333.0L1560.9,332.9L1561.4,332.4L1562.0,331.3L1562.6,330.5L1563.2,329.6L1563.8,328.6L1564.4,327.8L1565.0,327.4L1565.6,326.4L1565.8,326.3L1566.2,325.8L1566.8,325.6L1567.4,325.2L1568.0,324.3L1568.6,324.2L1569.2,324.1L1569.8,323.5L1570.4,324.0L1570.7,323.9L1571.0,325.1L1571.6,324.3L1572.2,324.2L1572.8,324.6L1573.4,325.3L1574.0,325.1L1574.6,325.7L1575.2,326.7L1575.8,327.3L1576.4,327.6L1576.6,328.0L1577.0,327.5L1577.6,328.3L1578.2,328.9L1578.8,328.9L1579.4,329.3L1580.0,330.1L1580.6,330.6L1581.2,331.9L1581.5,330.9L1581.8,330.9L1582.4,330.9L1583.0,330.2L1583.6,329.4L1584.2,328.5L1584.8,327.3L1585.4,326.3L1586.0,325.3L1586.4,325.2L1586.6,325.4L1587.2,324.6L1587.8,324.4L1588.4,323.5L1589.0,324.0L1589.6,323.1L1590.2,322.4L1590.8,322.3L1591.4,321.8L1592.0,322.8L1592.2,321.4L1592.6,322.1L1593.2,322.4L1593.8,322.9L1594.4,323.1L1595.0,323.6L1595.6,324.2L1596.2,325.5L1596.8,326.0L1597.4,326.5L1598.0,325.5L1598.1,326.3L1598.6,325.5L1599.2,326.4L1599.8,324.8L1600.4,324.7L1601.0,324.8L1601.6,324.7L1602.0,324.4L1602.2,324.1L1602.8,324.8L1603.4,325.9L1604.0,327.3L1604.6,328.5L1605.2,330.0L1605.8,331.0L1606.4,331.4L1606.9,331.0L1607.0,331.2L1607.6,331.5L1608.2,331.5L1608.8,331.2L1609.4,330.7L1610.0,330.5L1610.6,330.4L1611.2,330.0L1611.8,329.1L1612.4,328.3L1613.0,327.9L1613.6,328.8L1613.8,328.0L1614.2,328.5L1614.8,328.1L1615.4,329.5L1616.0,329.2L1616.6,329.6L1617.2,329.4L1617.8,329.5L1618.4,328.6L1619.0,329.0L1619.6,329.4L1619.6,329.3L1620.2,329.6L1620.8,330.6L1621.4,331.4L1622.0,332.2L1622.6,332.6L1623.2,333.4L1623.8,334.0L1624.4,334.7L1625.0,335.5L1625.6,336.5L1626.2,337.2L1626.8,337.4L1627.4,338.0L1627.5,338.3L1628.0,338.1L1628.6,339.2L1629.2,339.4L1629.8,339.9L1630.4,340.6L1631.0,341.1L1631.6,340.6L1632.2,341.1L1632.8,341.2L1633.4,342.0L1634.0,342.8L1634.3,343.0L1634.6,343.4L1635.2,345.4L1635.8,348.1L1636.4,351.5L1637.0,355.3L1637.2,356.6L1637.6,359.7L1638.2,365.7L1638.8,372.1L1639.2,376.1L1639.4,378.0L1640.0,384.0L1640.6,389.8L1641.2,394.5L1641.4,395.7L1641.8,397.9L1642.4,401.0L1643.0,403.3L1643.6,404.9L1643.6,405.4L1644.2,401.9L1644.8,396.3L1645.4,389.1L1646.0,382.3L1646.6,377.6L1647.0,375.1L1647.2,376.8L1647.8,381.1L1648.4,388.2L1649.0,395.8L1649.2,398.0L1649.6,402.9L1650.2,411.2L1650.8,416.8L1651.0,418.8L1651.4,418.0L1652.0,416.4L1652.6,415.4L1653.2,413.8L1653.8,412.2L1654.4,410.2L1655.0,408.2L1655.6,406.2L1655.8,405.5L1656.2,404.1L1656.8,401.5L1657.4,398.7L1658.0,395.5L1658.6,392.2L1659.2,388.8L1659.7,385.9L1659.8,385.3L1660.4,381.5L1661.0,377.4L1661.6,373.2L1662.2,369.2L1662.7,366.3L1662.8,365.8L1663.4,362.6L1664.0,359.5L1664.6,356.5L1665.2,353.8L1665.8,351.4L1666.4,349.3L1666.6,348.8L1667.0,347.6L1667.6,345.9L1668.2,344.1L1668.8,342.6L1669.4,341.1L1670.0,339.8L1670.6,338.8L1671.2,338.1L1671.8,337.1L1672.4,336.5L1672.5,337.0L1673.0,336.7L1673.6,337.4L1674.2,338.0L1674.8,338.3L1675.4,339.2L1676.0,340.3L1676.6,341.2L1677.2,342.0L1677.8,343.1L1678.3,343.3L1678.4,343.4L1679.0,343.7L1679.6,343.9L1680.2,344.6L1680.8,345.6L1681.4,345.9L1682.0,346.9L1682.3,347.9L1682.6,345.7L1683.2,343.8L1683.8,341.0L1684.4,337.5L1685.0,334.1L1685.2,333.1L1685.6,330.9L1686.2,326.7L1686.8,322.5L1687.4,319.1L1688.0,317.2L1688.1,317.1L1688.6,318.2L1689.2,320.7L1689.8,324.1L1690.4,327.5L1691.0,330.0L1691.0,329.9L1691.6,331.8L1692.2,333.7L1692.8,335.4L1693.4,336.6L1694.0,337.1L1694.0,337.0L1694.6,337.2L1695.2,335.9L1695.8,336.0L1696.4,336.2L1697.0,336.0L1697.6,335.4L1698.2,334.5L1698.8,334.8L1698.9,334.7L1699.4,333.7L1700.0,332.8L1700.6,331.5L1701.2,330.1L1701.8,328.6L1702.4,327.1L1703.0,325.9L1703.6,325.2L1703.8,324.6L1704.2,325.5L1704.8,325.1L1705.4,324.5L1706.0,324.1L1706.6,323.1L1707.2,323.2L1707.8,322.9L1708.4,324.1L1709.0,323.7L1709.6,323.1L1710.2,323.1L1710.8,323.0L1711.4,322.8L1711.6,322.8L1712.0,322.5L1712.6,322.9L1713.2,322.1L1713.8,322.3L1714.4,322.2L1715.0,321.7L1715.6,320.8L1716.2,320.0L1716.8,319.8L1717.4,319.6L1718.0,320.4L1718.6,319.4L1719.2,320.2L1719.4,319.2L1719.8,318.6L1720.4,319.4L1721.0,319.1L1721.6,317.5L1722.2,317.6L1722.8,319.0L1723.0,317.8L1723.4,319.7L1724.0,323.1L1724.6,327.9L1725.2,332.6L1725.8,336.0L1726.2,337.3L1726.4,336.3L1727.0,335.7L1727.6,334.3L1728.2,332.3L1728.8,330.2L1729.4,328.4L1730.0,326.8L1730.0,326.7L1730.6,325.8L1731.2,324.7L1731.8,323.7L1732.4,323.2L1733.0,322.0L1733.6,321.5L1734.2,320.7L1734.8,320.0L1735.0,319.4L1735.4,319.0L1736.0,318.2L1736.6,318.4L1737.2,318.0L1737.8,317.4L1738.4,316.7L1739.0,316.6L1739.6,316.6L1740.2,315.6L1740.8,315.1L1741.4,314.4L1742.0,314.1L1742.6,314.1L1743.2,313.7L1743.8,313.2L1744.4,313.2L1744.8,312.1L1745.0,312.6L1745.6,312.2L1746.2,311.6L1746.8,310.7L1747.4,310.2L1748.0,309.4L1748.6,308.3L1749.2,308.7L1749.8,307.4L1750.4,307.3L1751.0,306.8L1751.6,306.8L1752.2,306.2L1752.8,306.0L1753.4,306.6L1753.6,305.5L1754.0,305.8L1754.6,306.6L1755.2,306.9L1755.8,306.5L1756.4,307.9L1757.0,308.3L1757.6,308.8L1758.2,308.7L1758.8,309.4L1759.4,310.2L1760.0,310.5L1760.6,310.8L1761.2,311.2L1761.8,311.3L1762.4,311.7L1763.0,312.8L1763.6,312.9L1764.2,313.4L1764.4,313.7L1764.8,314.1L1765.4,314.5L1766.0,315.8L1766.6,316.2L1767.2,316.7L1767.8,317.3L1768.4,317.4L1769.0,317.9L1769.6,318.8L1770.2,319.3L1770.8,319.4L1771.4,319.8L1772.0,320.2L1772.6,319.9L1773.2,319.4L1773.8,320.4L1774.1,319.8L1774.4,319.7L1775.0,320.4L1775.6,319.5L1776.2,318.6L1776.8,317.3L1777.4,315.9L1778.0,314.5L1778.6,313.1L1779.2,312.1L1779.8,311.3L1780.4,310.3L1781.0,309.7L1781.0,310.5L1781.6,310.5L1782.2,310.4L1782.8,309.6L1783.4,309.2L1784.0,310.0L1784.6,310.1L1785.2,310.1L1785.8,311.8L1786.4,313.0L1787.0,313.0L1787.6,312.7L1787.8,313.1L1788.2,313.4L1788.8,312.8L1789.4,312.3L1790.0,311.5L1790.6,311.4L1791.2,310.4L1791.8,309.9L1792.4,309.9L1793.0,309.6L1793.6,308.5L1794.2,308.1L1794.8,307.3L1795.4,307.4L1796.0,306.8L1796.6,307.5L1796.7,307.6L1797.2,306.8L1797.8,307.5L1798.4,308.7L1799.0,309.3L1799.6,310.4L1800.2,311.6L1800.8,312.8L1801.4,314.0L1802.0,315.1L1802.6,316.4L1803.2,317.5L1803.5,318.0L1803.8,318.8L1804.4,319.6L1805.0,320.6L1805.6,321.6L1806.2,322.5L1806.8,323.2L1807.4,323.9L1808.0,324.7L1808.6,325.6L1809.2,326.7L1809.8,327.8L1810.4,328.7L1811.0,329.4L1811.3,329.8L1811.6,330.3L1812.2,331.4L1812.8,332.5L1813.4,333.7L1814.0,334.9L1814.6,336.1L1815.2,336.8L1815.8,337.5L1816.4,338.2L1817.0,338.4L1817.2,338.4L1817.6,338.2L1818.2,339.0L1818.8,338.7L1819.4,338.0L1820.0,337.1L1820.6,336.1L1821.2,335.5L1821.8,334.9L1822.4,334.1L1823.0,333.6L1823.1,333.6L1823.6,333.0L1824.2,332.2L1824.8,331.3L1825.4,330.3L1826.0,329.3L1826.6,328.3L1827.2,327.5L1827.8,326.7L1828.4,325.7L1829.0,325.5L1829.6,324.0L1829.9,324.6L1830.2,324.6L1830.8,325.6L1831.4,325.9L1832.0,326.2L1832.6,327.2L1833.2,328.1L1833.8,329.4L1834.4,330.7L1835.0,331.8L1835.6,333.2L1835.8,333.8L1836.2,334.8L1836.8,336.5L1837.4,338.6L1838.0,340.9L1838.6,343.5L1839.2,345.9L1839.8,348.3L1840.4,350.3L1840.7,351.3L1841.0,352.2L1841.6,354.2L1842.2,356.2L1842.8,358.0L1843.4,359.7L1844.0,360.5L1844.6,361.3L1844.6,360.1L1845.2,361.4L1845.8,360.9L1846.4,360.3L1847.0,359.7L1847.6,358.6L1848.2,357.8L1848.8,356.5L1849.4,355.5L1850.0,354.4L1850.5,353.2L1850.6,353.1L1851.2,351.5L1851.8,349.3L1852.4,346.8L1853.0,344.2L1853.6,341.8L1854.2,339.7L1854.8,338.3L1855.4,337.0L1855.4,337.8L1856.0,337.5L1856.6,336.2L1857.2,336.8L1857.8,336.8L1858.4,336.3L1859.0,335.6L1859.6,336.2L1860.2,337.2L1860.8,335.4L1861.2,335.2L1861.4,336.4L1862.0,337.6L1862.6,339.4L1863.2,341.9L1863.8,344.7L1864.4,347.8L1865.0,350.8L1865.1,351.3L1865.6,354.1L1866.2,358.4L1866.8,362.9L1867.4,367.1L1868.0,370.5L1868.1,370.9L1868.6,372.8L1869.2,374.8L1869.8,376.6L1870.4,378.2L1871.0,379.8L1871.6,381.1L1872.2,382.5L1872.8,384.1L1873.0,384.6L1873.4,385.8L1874.0,387.9L1874.6,390.1L1875.2,392.1L1875.8,393.9L1876.4,394.8L1876.9,395.1L1877.0,394.4L1877.6,394.6L1878.2,393.4L1878.8,391.3L1879.4,388.8L1880.0,386.2L1880.6,383.5L1880.8,382.6L1881.2,380.4L1881.8,375.9L1882.4,371.0L1883.0,367.0L1883.6,365.5L1883.7,366.0L1884.2,365.4L1884.8,366.5L1885.4,368.2L1886.0,370.4L1886.6,372.6L1887.2,374.7L1887.6,375.9L1887.8,376.6L1888.4,378.6L1889.0,380.8L1889.6,383.1L1890.2,385.2L1890.8,386.8L1891.4,387.4L1891.6,388.0L1892.0,386.8L1892.6,383.7L1893.2,378.9L1893.8,373.4L1894.4,367.8L1894.5,367.0L1895.0,362.4L1895.6,356.1L1896.2,350.0L1896.5,347.4L1896.8,345.0L1897.4,340.2L1898.0,335.8L1898.6,331.8L1899.2,328.6L1899.4,327.7L1899.8,326.2L1900.4,324.0L1901.0,322.0L1901.6,320.4L1902.2,318.9L1902.8,317.4L1903.4,315.9L1904.0,314.6L1904.6,313.5L1905.2,312.3L1905.3,312.4L1905.8,311.4L1906.4,310.3L1907.0,309.1L1907.6,308.1L1908.2,306.7L1908.8,305.6L1909.4,305.2L1910.0,304.1L1910.6,303.7L1911.2,303.6L1911.8,302.8L1912.4,301.7L1913.0,300.9L1913.1,300.1L1913.6,300.7L1914.2,299.4L1914.8,300.4L1915.4,300.0L1916.0,298.1L1916.6,300.8L1917.2,300.5L1917.8,299.1L1918.4,298.1L1919.0,298.9L1919.6,298.0L1920.2,298.1L1920.8,297.9L1921.4,298.0L1922.0,295.6L1922.6,298.3L1923.2,296.9L1923.8,298.8L1924.4,297.8L1924.8,296.5L1925.0,296.7L1925.6,295.5L1926.2,295.9L1926.8,296.0L1927.4,297.3L1928.0,296.8L1928.6,298.4L1929.2,298.9L1929.8,297.2L1930.4,298.4L1931.0,297.8L1931.6,299.5L1932.2,299.2L1932.8,298.3L1933.4,298.7L1934.0,297.2L1934.6,299.0L1935.2,298.0L1935.8,296.9L1936.4,297.3L1936.6,296.4L1937.0,299.6L1937.6,300.0L1938.2,300.4L1938.8,302.0L1939.4,303.1L1940.0,304.7L1940.6,306.0L1941.2,307.6L1941.5,308.1L1941.8,309.2L1942.4,312.1L1943.0,315.3L1943.6,318.2L1944.2,320.0L1944.4,319.7L1944.8,319.9L1945.4,318.1L1946.0,315.7L1946.6,312.7L1947.2,309.3L1947.8,306.0L1948.0,305.0L1948.4,302.8L1949.0,298.8L1949.6,294.5L1950.2,290.3L1950.8,286.8L1951.3,284.7L1951.4,284.5L1952.0,282.6L1952.6,281.0L1953.2,279.4L1953.8,278.3L1954.4,279.1L1954.6,278.4L1955.0,278.6L1955.6,280.1L1956.2,282.7L1956.8,285.8L1957.4,288.5L1957.5,289.0L1958.0,291.3L1958.6,294.7L1959.2,298.2L1959.8,301.3L1960.4,303.5L1961.0,304.5L1961.0,303.4L1961.6,303.2L1962.2,305.3L1962.8,303.7L1963.4,304.7L1964.0,304.2L1964.6,305.0L1965.2,304.5L1965.8,303.0L1966.4,302.4L1967.0,304.2L1967.6,304.0L1968.2,303.7L1968.8,304.0L1969.4,303.7L1969.8,303.3L1970.0,303.3L1970.6,302.5L1971.2,303.8L1971.8,304.4L1972.4,305.0L1973.0,305.7L1973.6,305.9L1974.2,306.1L1974.8,306.7L1975.4,308.7L1976.0,308.1L1976.6,309.7L1976.7,309.0L1977.2,308.7L1977.8,307.5L1978.4,306.9L1979.0,305.0L1979.6,306.1L1980.2,305.0L1980.8,303.6L1981.4,304.7L1982.0,303.0L1982.6,302.3L1983.2,302.6L1983.5,304.0L1983.8,300.5L1984.4,300.2L1985.0,303.9L1985.6,304.5L1986.2,304.8L1986.8,303.6L1987.4,303.4L1988.0,303.3L1988.6,303.8L1989.2,304.3L1989.8,304.3L1990.4,303.7L1991.0,303.3L1991.6,302.7L1992.2,302.4L1992.8,302.4L1993.4,303.4L1994.0,305.8L1994.6,306.8L1995.2,306.3L1995.3,305.0L1995.8,305.0L1996.4,306.7L1997.0,307.0L1997.6,303.1L1998.2,304.0L1998.8,306.3L1999.4,306.5L2000.0,305.5L2000.6,307.2L2001.2,308.0L2001.8,308.3L2002.4,307.1L2003.0,306.6L2003.6,305.4L2004.2,304.3L2004.8,303.3L2005.1,305.5L2005.4,305.7L2006.0,305.9L2006.6,304.6L2007.2,305.2L2007.8,304.4L2008.4,304.0L2009.0,303.5L2009.6,302.2L2010.2,301.1L2010.8,300.6L2011.4,299.9L2012.0,298.7L2012.6,300.0L2012.9,301.1L2013.2,298.5L2013.8,299.2L2014.4,299.5L2015.0,297.6L2015.6,297.3L2016.2,297.7L2016.8,295.2L2017.4,296.0L2018.0,296.5L2018.6,295.2L2019.2,297.0L2019.8,296.5L2020.4,296.8L2021.0,294.8L2021.6,293.0L2022.2,296.4L2022.7,296.5L2022.8,295.6L2023.4,297.2L2024.0,298.4L2024.6,300.0L2025.2,301.5L2025.8,302.8L2026.4,304.3L2026.6,303.8L2027.0,302.2L2027.6,303.9L2028.2,303.3L2028.8,302.1L2029.4,300.7L2030.0,300.8L2030.6,301.6L2031.2,301.7L2031.8,301.1L2032.4,298.7L2033.0,298.4L2033.6,300.7L2034.2,299.1L2034.4,299.1L2034.8,298.5L2035.4,299.9L2036.0,301.3L2036.6,302.3L2037.2,303.5L2037.8,304.6L2038.4,305.4L2039.0,306.1L2039.6,306.3L2040.2,307.1L2040.8,307.9L2041.4,308.4L2042.0,309.2L2042.6,310.0L2043.2,311.7L2043.8,311.8L2044.4,311.2L2045.0,313.0L2045.2,313.0L2045.6,311.0L2046.2,312.0L2046.8,312.6L2047.4,310.7L2048.0,311.2L2048.6,310.5L2049.2,309.6L2049.8,308.0L2050.4,307.6L2051.0,307.2L2051.6,306.9L2052.2,305.4L2052.8,305.7L2053.4,303.8L2054.0,303.8L2054.0,304.2L2054.6,304.9L2055.2,304.2L2055.8,305.3L2056.4,303.8L2057.0,305.4L2057.6,304.1L2058.2,301.9L2058.8,302.5L2059.4,302.0L2060.0,303.3L2060.6,301.3L2061.0,301.7" fill="none" stroke="#1a6ede" stroke-width="10.6" stroke-linejoin="round" stroke-linecap="butt" clip-path="url(#cc)"/>
<text transform="translate(0,1844.8) scale(1,1.06)" font-size="76.4" style="font-kerning:none"><tspan x="768.9 849.2 888.2 929.9 963.7 1008.5 1052.3 1119.7 1163.7 1199.5 1233.5 1254.8 1280.8 1315.4">Wavenumber (cm</tspan><tspan font-size="54" x="1381.4 1398.7" dy="-30.8">-1</tspan><tspan x="1427.7" dy="30.8">)</tspan></text>
<text transform="translate(71,1200) rotate(-90) scale(1,1.06)" font-size="76.4" style="font-kerning:none" x="72.5 128.4 164.0 205.7 250.3 286.2 353.4 376.5 399.8 428.0 467.8 513.6 550.6 584.5 608.1 639.1 716.3">Transmittance (%)</text>
<text transform="translate(0,201.9) scale(1,1.07)" font-size="65" style="font-kerning:none" x="986.8 1019.8 1052.7 1116.1 1160.7 1200.3">15%TPU</text>
<text transform="translate(0,640.6) scale(1,1.07)" font-size="65" style="font-kerning:none" x="976.5 1008.7 1026.8 1058.8 1123.5 1160.2 1201.9">3.5%SBR</text>
<text transform="translate(0,1072.1) scale(1,1.06)" font-size="65" style="font-kerning:none" x="1067.6 1100.8 1133.2">70#</text>
<rect x="1142.5" y="261.6" width="130.9" height="83.8" fill="#fff" stroke="#000" stroke-width="3.1"/><text transform="translate(0,323.7) scale(1,1.07)" font-size="57" style="font-kerning:none" x="1148.4 1178.3 1206.8 1237.8">1730</text>
<rect x="1503.5" y="491.6" width="131.0" height="83.8" fill="#fff" stroke="#000" stroke-width="3.1"/><text transform="translate(0,553.7) scale(1,1.07)" font-size="57" style="font-kerning:none" x="1509.4 1538.4 1569.1 1596.5">1191</text>
<rect x="1715.6" y="418.5" width="130.8" height="83.7" fill="#fff" stroke="#000" stroke-width="3.1"/><text transform="translate(0,480.8) scale(1,1.07)" font-size="57" style="font-kerning:none" x="1721.4 1750.5 1780.3 1809.3">1177</text>
<line x1="1275.0" y1="310.9" x2="1307.9" y2="302.7" stroke="#000" stroke-width="3.0"/><polygon points="1344.3,293.6 1308.6,313.8 1303.3,292.5" fill="#000"/>
<line x1="1576.9" y1="486.7" x2="1616.1" y2="432.8" stroke="#000" stroke-width="3.0"/><polygon points="1638.1,402.5 1623.8,440.9 1606.0,428.0" fill="#000"/>
<line x1="1772.6" y1="414.8" x2="1698.5" y2="397.4" stroke="#000" stroke-width="3.0"/><polygon points="1662.0,388.8 1703.0,387.1 1697.9,408.5" fill="#000"/>
<ellipse cx="1693.1" cy="325.2" rx="35.9" ry="41.1" fill="none" stroke="#000" stroke-width="6.8" pathLength="100" stroke-dasharray="5.9 4.1" stroke-dashoffset="2.95"/>
</svg>
</body></html>
